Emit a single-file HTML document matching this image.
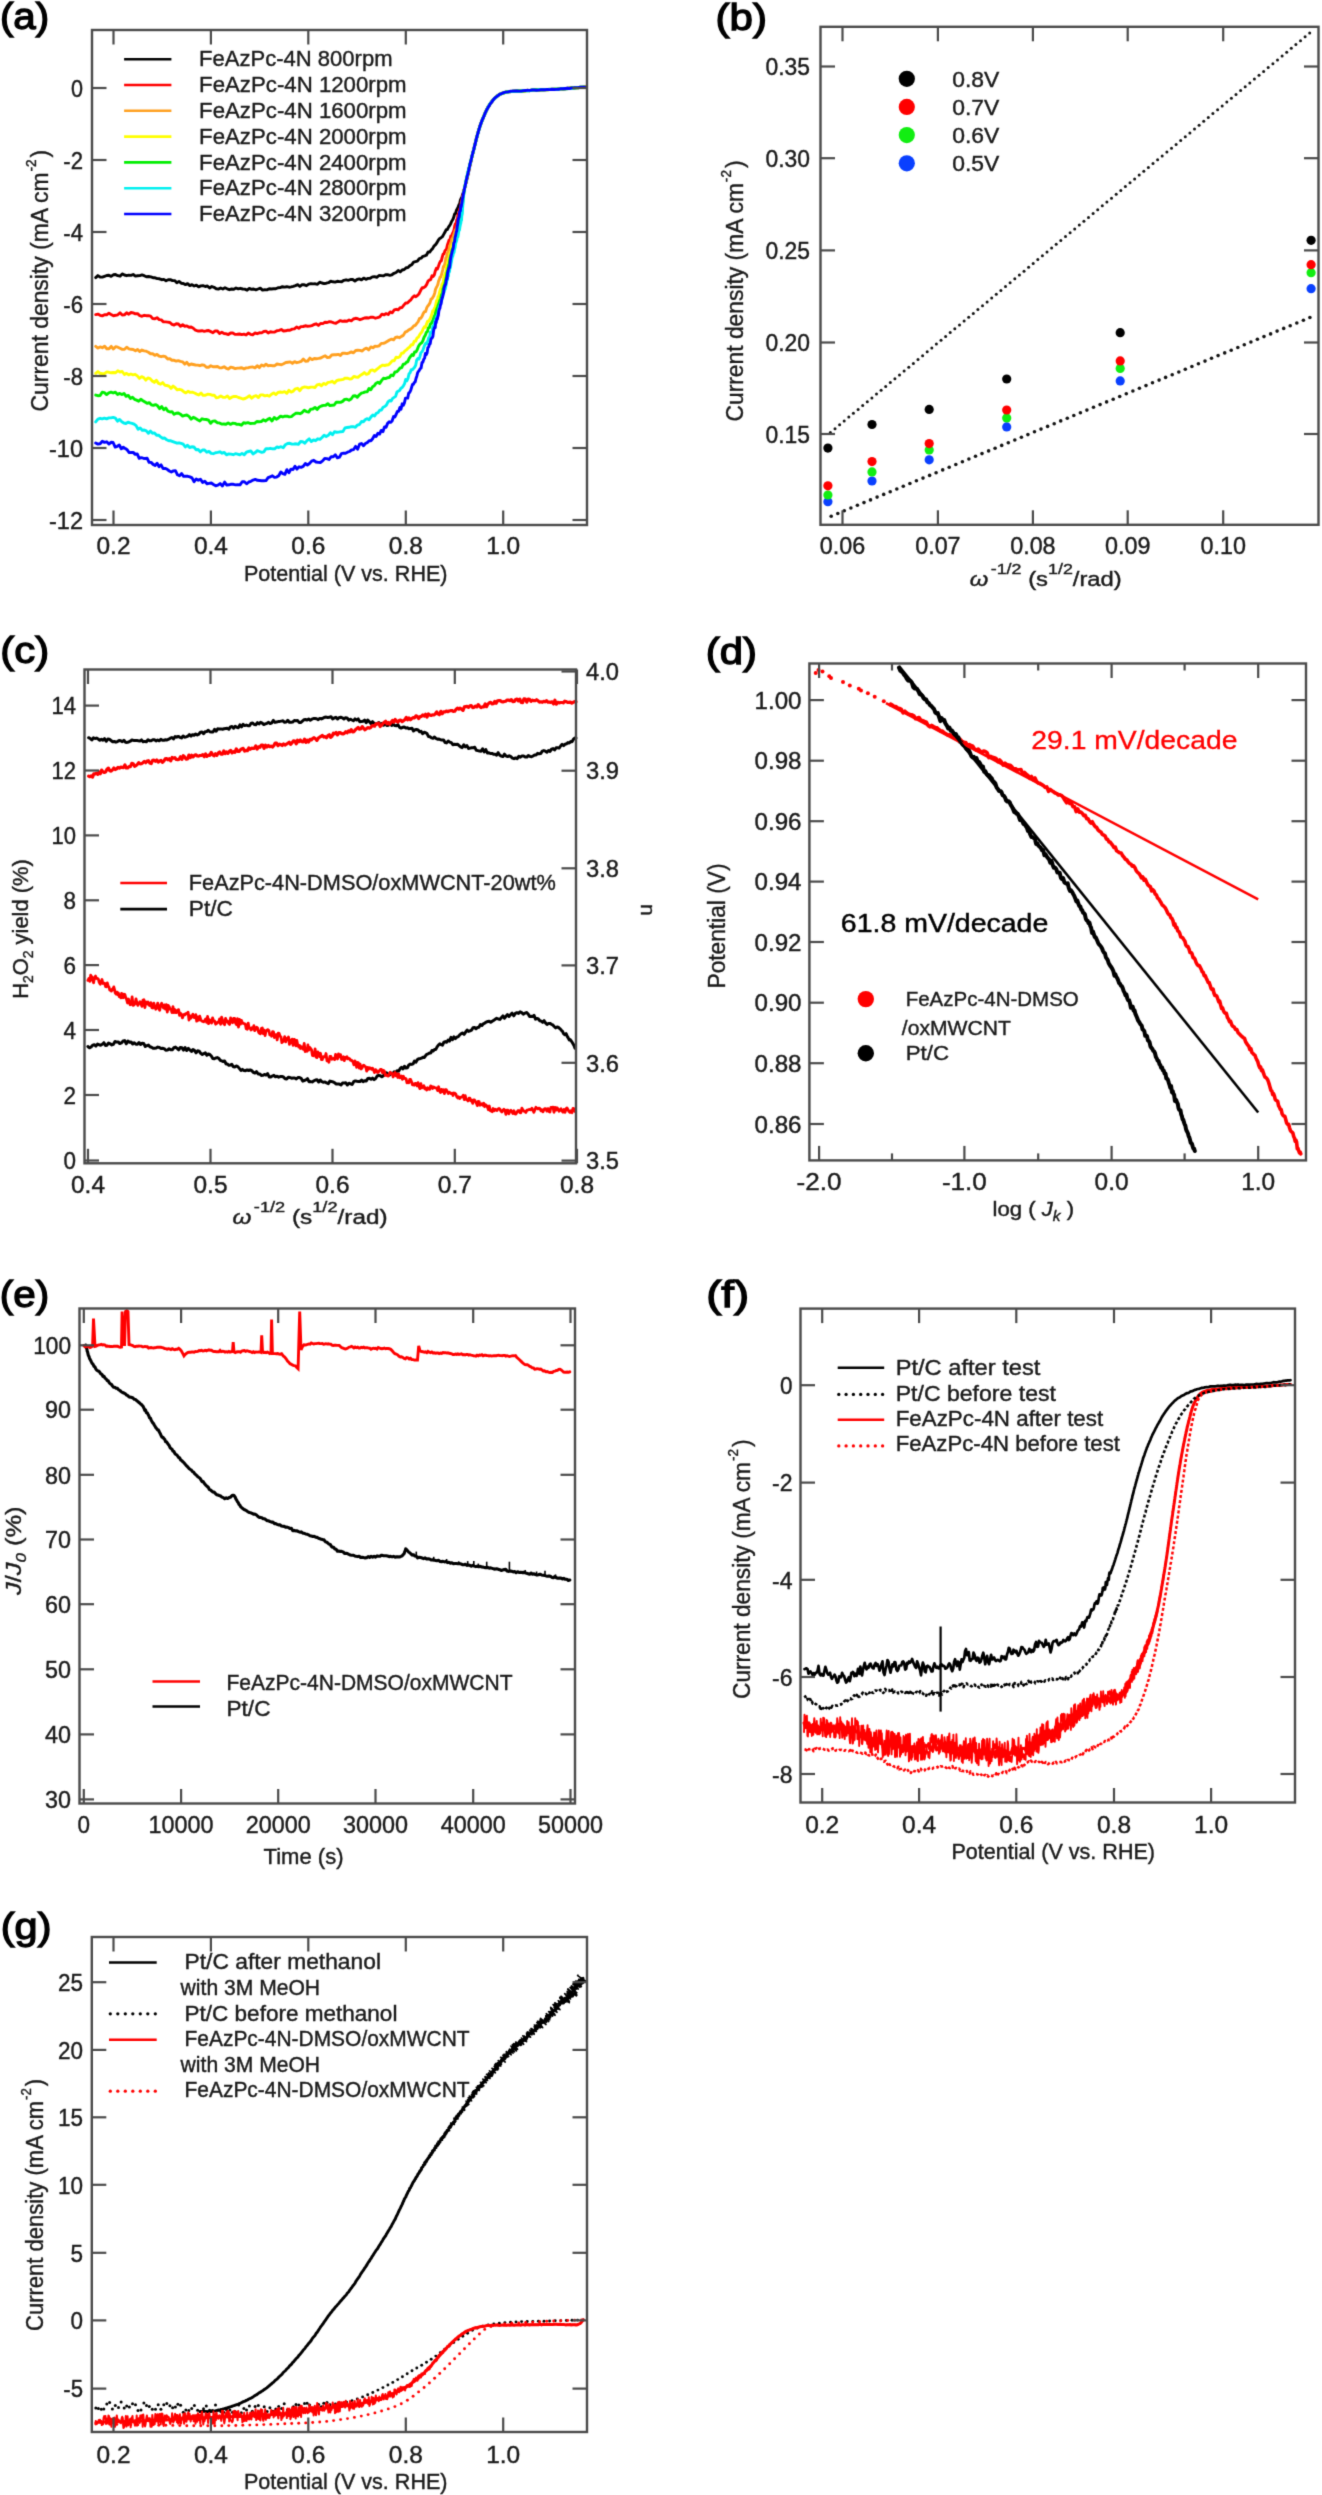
<!DOCTYPE html>
<html><head><meta charset="utf-8"><style>
html,body{margin:0;padding:0;background:#fff;}
svg{display:block;}
text{font-family:"Liberation Sans", sans-serif;}
</style></head><body>
<svg width="1322" height="2495" viewBox="0 0 1322 2495">
<defs><filter id="soft" color-interpolation-filters="sRGB" x="0" y="0" width="1322" height="2495" filterUnits="userSpaceOnUse"><feConvolveMatrix order="3" kernelMatrix="0.0192 0.1001 0.0192 0.1001 0.5228 0.1001 0.0192 0.1001 0.0192" edgeMode="duplicate" preserveAlpha="false"/></filter></defs>
<rect width="1322" height="2495" fill="#fff"/>
<g filter="url(#soft)">
<rect width="1322" height="2495" fill="#fff"/>
<text x="-0.1" y="29.2" font-size="37" fill="#000" textLength="49.3" lengthAdjust="spacingAndGlyphs" style="stroke:#000;stroke-width:1.3">(a)</text>
<path d="M95.7 277.6L97.9 275.6L100.1 277L102.3 277.1L104.5 276.3L106.7 275.5L108.9 275.2L111.1 276.4L113.3 274.8L115.5 274.5L117.7 275.7L120 276.2L122.2 273.9L124.4 275L126.6 275.7L128.8 275.2L131 275.4L133.2 274.5L135.4 276.1L137.6 275.8L139.8 275.6L142 274.9L144.2 275.7L146.4 276.8L148.6 276.5L150.8 276.9L153 277.7L155.1 277.8L157.3 278.6L159.5 278.8L161.7 279.7L163.8 279.4L166 280.8L168.2 279.7L170.3 279.6L172.5 280.6L174.7 280.6L176.8 282.8L179 281.4L181.2 283.2L183.3 283.5L185.5 284.6L187.6 283.6L189.8 285.6L192 284.7L194.2 286L196.4 285.2L198.6 286.9L200.8 285.9L203 285.7L205.2 286.5L207.4 286L209.6 288L211.8 286.5L214 287.3L216.2 288.8L218.4 289.1L220.6 288L222.8 289L225 287.8L227.2 288.8L229.4 289.7L231.6 289L233.8 289.2L236 288L238.2 288.9L240.4 288.3L242.6 289L244.8 289.1L247.1 290.2L249.3 288.4L251.5 289.3L253.7 289L255.9 289.8L258.1 289L260.3 288.2L262.5 290.1L264.7 289.8L266.9 289.9L269.2 288.7L271.4 289L273.6 288.7L275.8 288.7L278 287.7L280.2 287.6L282.4 286.7L284.6 287.1L286.8 286.7L289 287.2L291.1 286.9L293.3 286.3L295.5 285.6L297.7 284.7L299.9 286.5L302.1 284.7L304.3 284.8L306.5 285.7L308.7 284.1L310.9 283.6L313.1 283.9L315.3 283.8L317.5 284.3L319.7 282.2L321.9 283L324.1 283.6L326.3 283.2L328.5 282.7L330.7 281.2L332.9 281.8L335.1 282.1L337.3 281.3L339.5 281.6L341.7 281.7L343.9 280.3L346.1 279.8L348.3 280.3L350.5 279.5L352.7 279.5L354.9 281L357.1 279.5L359.3 278.9L361.5 279.9L363.7 278.1L365.9 279.3L368.1 278.4L370.2 278.3L372.4 276.9L374.6 276.6L376.8 277.3L379 275.5L381.1 275.6L383.3 275.9L385.5 274.7L387.6 274.6L389.8 275.3L391.9 274.8L394 273.3L396.1 272.5L398.2 270.5L400.2 271.9L402.2 270L404.2 269.5L406.1 267.8L408 267.5L409.9 265.6L411.8 264.7L413.6 262.2L415.5 261.7L417.4 261.2L419.3 258.6L421.1 258.2L422.9 256.3L424.7 255.8L426.4 255.2L428.1 252L429.7 252.1L431.2 250L432.7 248.4L434.2 245.8L435.6 244.6L437 242.6L438.3 240.2L439.7 238.5L441.1 237.7L442.4 236.7L443.7 234.4L444.9 232.2L446.2 229.8L447.3 229.6L448.5 227.1L449.6 225.6L450.6 223.9L451.7 221.3L452.7 219.8L453.7 217.4L454.6 214L455.5 213.7L456.4 210.3L457.3 208.9L458.1 207L458.9 204.9L459.7 203.7L460.4 200L461.2 198.5L461.9 196.8L462.6 194.6L463.3 192.4L463.9 190.3L464.6 188L465.2 186L465.7 183.7L466.3 181.9L466.8 179.4L467.3 177.3L467.8 175.4L468.3 173.1L468.8 171.1L469.2 169L469.7 166.6L470.2 164.3L470.7 162.5L471.1 160.3L471.6 158L472.1 156.1L472.7 153.7L473.2 151.5L473.7 149.6L474.3 147.4L474.8 145.2L475.3 143.1L475.9 140.7L476.4 138.9L477 136.8L477.5 134.4L478.1 132.5L478.7 130.1L479.4 127.9L480.1 125.8L480.8 123.7L481.6 121.6L482.4 119.6L483.2 117.9L484 115.7L484.9 113.5L485.9 111.8L486.8 109.6L487.8 107.5L488.9 106L490.1 103.8L491.4 102.2L492.8 100.3L494.3 98.9L495.9 97.4L497.6 95.8L499.4 94.6L501.4 93.4L503.5 92.8L505.6 92.3L507.8 91.9L510 91.8L512.2 91.3L514.4 91.1L516.6 91.2L518.8 90.9L521 90.7L523.2 90.9L525.4 90.7L527.6 90.3L529.8 90.7L532 90.1L534.3 90.2L536.5 89.9L538.7 90L540.9 89.9L543.1 89.9L545.3 89.5L547.5 89.4L549.7 89.5L551.9 89.6L554.1 89.4L556.3 89.1L558.6 88.9L560.8 88.9L563 89L565.2 88.7L567.4 88.3L569.6 88.1L571.8 88.3L574 88.1L576.2 87.9L578.4 87.8L580.6 87.4L582.8 87.4L585 86.8" fill="none" stroke="#000000" stroke-width="2.9" stroke-linecap="round" stroke-linejoin="round"/>
<path d="M95.7 314.6L97.9 314.1L100.1 315.3L102.3 315.9L104.5 314.8L106.7 314.8L108.9 313.2L111.1 314.5L113.4 315.7L115.6 315.3L117.8 314.8L120 312.8L122.2 315L124.4 314.9L126.6 312.8L128.8 314.2L131 312.5L133.2 312.9L135.4 313.8L137.6 313.6L139.8 315.7L142 316.3L144.2 315.3L146.3 315.7L148.5 315.6L150.6 316.1L152.7 318.6L154.9 318.8L157 317.7L159.2 319.6L161.3 319.9L163.4 321.8L165.6 321.9L167.7 322.1L169.9 322.5L172 324.3L174.1 325L176.3 323.7L178.4 324L180.5 326.2L182.7 324.7L184.8 326.2L186.9 325.9L189.1 327.2L191.2 327L193.3 328.2L195.5 330.2L197.7 331L199.8 331L202 330.7L204.2 331.3L206.4 330.8L208.6 330.5L210.8 331.6L213 332.7L215.2 330.9L217.4 331L219.6 333.4L221.8 332.2L224 333.5L226.2 333.8L228.4 334.5L230.6 333L232.8 333L235 334.4L237.3 334.3L239.5 334L241.7 334.6L243.9 334.1L246.1 335L248.3 333.1L250.5 334.3L252.7 334.9L254.9 333L257.2 333.7L259.4 332.8L261.6 332.9L263.8 331.5L266 331.1L268.2 333L270.4 331.8L272.6 332.1L274.7 332.1L276.9 330.8L279.1 330.4L281.3 329.5L283.5 331L285.7 330.8L287.9 330.1L290 330.2L292.2 329.1L294.4 328.9L296.6 327L298.8 328.3L300.9 326.6L303.1 326.5L305.3 325.8L307.5 326.2L309.7 326.1L311.9 325.6L314 324.5L316.2 323.8L318.4 325.4L320.6 323.5L322.8 323.6L325 322.2L327.2 322.5L329.4 321.6L331.6 322L333.8 322.8L335.9 323.3L338.1 321.9L340.3 320.6L342.5 321.4L344.7 321L346.9 321.2L349.1 320L351.3 320.8L353.4 319L355.6 318.3L357.8 318.7L360 319.7L362.2 318.9L364.4 318L366.6 317.8L368.8 318L371 317.2L373.2 317.2L375.4 318.2L377.6 317.7L379.8 316.9L381.9 314.2L384 314.9L386.1 313.6L388.2 314.5L390.2 311.9L392.3 312.8L394.3 309.8L396.2 309.3L398.2 309.9L400.1 307.7L402 307.5L403.8 305.1L405.7 303L407.4 303.1L409.2 301.2L410.9 299.8L412.6 297.3L414.3 295.8L415.9 296.7L417.6 295.3L419.1 293.7L420.7 290.3L422.2 287.8L423.7 287.7L425.2 286.6L426.6 284.6L428 281.2L429.4 280L430.7 279.6L432 275.8L433.2 276.4L434.3 274.9L435.4 270.7L436.4 268.2L437.4 269L438.4 266.4L439.4 263.4L440.3 261.5L441.3 260.8L442.2 257.1L443.1 254.2L444 253.9L444.9 250.9L445.7 250L446.6 248.8L447.4 245L448.3 242.6L449.1 239.9L450 240.2L450.8 235.9L451.6 236.5L452.4 233.7L453.2 232.2L454 229.9L454.7 225.9L455.4 223.8L456.1 224L456.7 219.9L457.4 219.3L457.9 215.3L458.5 213.5L459.1 212.5L459.6 209.1L460.1 208.5L460.6 206.7L461.1 202.8L461.6 200.6L462.1 198.8L462.6 196.9L463.1 194.5L463.6 192.6L464.1 190.5L464.6 188.3L465.1 186.2L465.6 184L466.1 182L466.6 179.7L467.1 177.7L467.6 175.3L468.1 173L468.5 170.9L469 169L469.5 166.6L470 164.7L470.5 162.6L471.1 160.3L471.6 157.9L472.1 156L472.6 153.8L473.2 151.9L473.7 149.4L474.3 147.3L474.8 145.2L475.3 143.1L475.9 140.8L476.4 138.7L477 136.8L477.5 134.5L478.1 132.2L478.7 130.2L479.4 128.1L480 126L480.8 123.7L481.5 121.8L482.3 120.1L483.2 118L484 116L484.9 113.8L485.8 111.7L486.8 109.9L487.8 107.6L488.9 105.9L490.1 104L491.4 102.1L492.8 100.3L494.2 98.7L495.8 97.3L497.5 95.7L499.4 94.6L501.4 93.6L503.4 92.8L505.6 92.5L507.8 91.9L509.9 91.3L512.1 91.5L514.3 91.2L516.6 91.2L518.8 90.9L521 90.8L523.2 90.9L525.4 90.5L527.6 90.4L529.8 90.4L532 90.4L534.2 89.9L536.4 89.9L538.6 89.9L540.9 89.9L543.1 89.5L545.3 89.8L547.5 89.6L549.7 89.5L551.9 89.3L554.1 89.2L556.3 89.4L558.5 89.3L560.7 88.8L563 88.7L565.2 88.7L567.4 88.6L569.6 88.5L571.8 88L574 87.8L576.2 87.5L578.4 87.5L580.6 87.4L582.8 87.4L585 86.8" fill="none" stroke="#ff0000" stroke-width="2.9" stroke-linecap="round" stroke-linejoin="round"/>
<path d="M95.7 346.4L97.9 348.1L100.1 346.9L102.3 347.7L104.6 346.2L106.8 348.8L109 348.8L111.2 346.4L113.4 349L115.6 346.7L117.8 347.2L120 348.3L122.3 349.4L124.5 349.3L126.7 347.2L128.9 348.9L131 349.3L133.2 349.5L135.4 350.7L137.6 349.4L139.7 351.6L141.9 350L144.1 350.8L146.2 351.2L148.4 352.3L150.5 353.8L152.7 353.8L154.8 355.3L157 354.4L159.1 356.2L161.2 356.7L163.4 356.2L165.5 356.7L167.7 359.1L169.8 358.7L171.9 360.2L174.1 360.3L176.2 361.1L178.3 360.6L180.4 361.3L182.6 361.8L184.7 364.1L186.8 362.3L189 365.1L191.1 364L193.3 364.5L195.5 365L197.7 365.1L199.9 365.7L202.1 364.8L204.2 365.2L206.4 367.3L208.6 367.3L210.8 365.8L213 366.8L215.3 366.8L217.5 366.5L219.7 367.9L221.9 367.7L224.1 366.8L226.3 368.3L228.5 369L230.7 367.1L232.9 367.6L235.2 368.6L237.4 368.1L239.6 368L241.8 367.8L244 368.9L246.2 367.9L248.4 367.7L250.6 367.1L252.8 367L255 367.9L257.2 365.7L259.4 367.6L261.6 364.9L263.8 366.1L266 364.2L268.2 365.7L270.4 365.4L272.6 365.7L274.8 365.7L277 364L279.2 364.4L281.4 364.8L283.6 363.7L285.8 362.5L288 362.2L290.2 361.9L292.4 363.4L294.6 361.6L296.8 362.7L298.9 362.2L301.1 361.4L303.3 359.1L305.5 361.3L307.7 361L309.9 358.1L312.1 359.6L314.3 358.5L316.4 358.7L318.6 358.4L320.8 358L323 356.8L325.2 355.8L327.4 357.5L329.5 357.4L331.7 355L333.9 354.7L336.1 354.8L338.3 354.4L340.4 355.4L342.6 353.1L344.8 353.3L347 353.6L349.2 352.8L351.3 351.9L353.5 352.8L355.7 350.5L357.9 350.3L360 350.4L362.2 351L364.4 349L366.5 348.1L368.7 349.9L370.8 347L372.9 347.7L375 346.2L377.1 346.4L379.2 345.8L381.3 343.4L383.4 343.4L385.4 342.6L387.5 341.3L389.5 340L391.6 339.1L393.6 339.8L395.5 337.4L397.5 337L399.4 337.7L401.4 336.4L403.3 335.4L405.2 332.1L407 331.3L408.8 329.8L410.5 329.1L412.2 327.8L413.8 325.9L415.3 325.3L416.8 323.3L418.2 321.6L419.5 318.5L420.8 318.3L422.1 316.2L423.3 313.4L424.5 311.7L425.6 311.6L426.7 307.9L427.8 305.9L428.9 304.7L430 302.8L431 299.2L432 298.8L432.9 297.3L433.8 295.8L434.7 293.1L435.5 289.4L436.3 287.7L437.1 286.1L437.8 284.6L438.6 281L439.3 279.7L440 277.4L440.7 277.1L441.4 275L442.1 272.3L442.8 269.6L443.4 266.5L444.1 266.5L444.7 264.3L445.3 262.1L445.9 257.6L446.5 257.5L447.1 253.5L447.7 253.6L448.3 250.6L449 249.6L449.6 246L450.3 244.4L451 242.7L451.8 239.2L452.6 238.2L453.3 236.6L454.1 233.7L454.9 231.4L455.6 229.6L456.4 228.6L457 226.7L457.7 223.6L458.3 221.8L458.8 220.2L459.3 215.7L459.7 213.2L460.2 213.1L460.6 210.5L461 206.9L461.4 205.9L461.7 203.7L462.1 200.9L462.5 199.2L462.9 197L463.3 195L463.7 192.6L464.1 190.7L464.5 188.6L465 186.4L465.5 184L466 181.9L466.4 179.8L466.9 177.5L467.4 175.5L467.9 173.4L468.4 171.1L468.9 168.9L469.4 167L469.9 164.8L470.5 162.3L471 160.5L471.5 158.1L472.1 156.1L472.6 153.8L473.2 152L473.7 149.5L474.2 147.7L474.8 145.3L475.3 143L475.8 141L476.4 138.7L476.9 136.9L477.5 134.6L478.1 132.4L478.7 130.2L479.3 128.1L480 126.2L480.7 123.9L481.5 122L482.3 120.1L483.1 117.8L484 115.7L484.9 113.9L485.8 111.9L486.8 109.8L487.8 107.6L488.9 105.8L490.1 104L491.4 102.2L492.7 100.4L494.2 98.7L495.8 97.1L497.5 96L499.3 94.5L501.3 93.6L503.4 92.8L505.5 92.1L507.7 91.7L509.9 91.4L512.1 91.5L514.3 91.1L516.5 91.2L518.7 90.9L520.9 90.9L523.1 90.8L525.3 90.5L527.6 90.5L529.8 90.5L532 90.3L534.2 90.2L536.4 89.8L538.6 90.1L540.8 90L543 89.6L545.2 89.6L547.5 89.8L549.7 89.5L551.9 89.4L554.1 89.4L556.3 89L558.5 89.3L560.7 88.7L562.9 88.6L565.1 88.6L567.4 88.4L569.6 88.3L571.8 87.9L574 88L576.2 87.8L578.4 87.7L580.6 87.2L582.8 87L585 87" fill="none" stroke="#ffa020" stroke-width="2.9" stroke-linecap="round" stroke-linejoin="round"/>
<path d="M95.7 373.3L97.9 371.5L100.1 373.3L102.3 373.7L104.5 373.6L106.8 371.9L109 372.3L111.2 372.8L113.4 372.5L115.6 372.8L117.8 370.8L120 372L122.2 371.5L124.4 374.5L126.5 373.4L128.7 374.8L130.8 374L133 374.8L135.1 374.3L137.3 375.9L139.4 378.4L141.6 376.7L143.7 377.6L145.8 380.1L147.9 377.9L150.1 378.6L152.2 381L154.3 382.4L156.4 380.3L158.5 383.3L160.6 384.2L162.7 382.6L164.8 385.2L166.9 385.5L169 386.1L171 388.4L173.1 386.1L175.2 387.7L177.3 389.9L179.4 389.3L181.5 389.8L183.7 391.7L185.8 392.9L188 391.3L190.1 392.4L192.3 392.2L194.5 393L196.7 394.1L198.8 395L201 393.1L203.2 395.4L205.4 395.3L207.6 394.3L209.8 394.4L212 395.2L214.2 395.1L216.4 397.8L218.6 397.3L220.8 396L223 397.3L225.2 397.4L227.4 395.9L229.6 398.5L231.8 397.2L234.1 396.4L236.3 396.5L238.5 397.5L240.7 398.1L242.9 399L245.1 398.5L247.3 397.2L249.5 395.8L251.7 398.2L253.9 396.3L256.1 395.7L258.4 397.5L260.5 394.9L262.7 394.9L264.9 395.8L267.1 395.3L269.3 396.3L271.5 394.3L273.7 392.9L275.9 394.6L278 392.4L280.2 392L282.4 392.4L284.6 391.7L286.8 393.3L288.9 390.3L291.1 392.1L293.3 391.1L295.4 388.8L297.6 388.3L299.8 390.7L301.9 387.8L304.1 387L306.3 387.1L308.4 387.9L310.6 387.1L312.8 387.1L314.9 387.5L317.1 384.9L319.3 384.3L321.4 385.8L323.6 383.4L325.8 384.5L328 382.4L330.1 382.1L332.3 381.3L334.5 383L336.6 380.7L338.8 380L340.9 379.8L343.1 379.4L345.2 378.1L347.4 378.2L349.5 379L351.6 378.7L353.8 376.4L355.9 377L358 377.4L360.1 375.5L362.2 374.3L364.3 372.5L366.4 374.4L368.5 373.6L370.6 370.4L372.6 369.9L374.7 371.2L376.7 369.4L378.7 367.8L380.7 366.2L382.7 365.1L384.7 365.5L386.6 365L388.6 364.7L390.5 362.9L392.4 360.6L394.3 360.7L396.1 357.2L397.9 357.7L399.7 356.8L401.5 353.3L403.2 353L404.9 350.9L406.6 349.8L408.2 348.1L409.8 346.8L411.3 344.7L412.8 344.8L414.3 341.1L415.7 341.1L417 338L418.3 337.3L419.6 334.8L420.8 333.2L422 331.8L423.2 328.7L424.4 326.8L425.5 327.2L426.6 323.8L427.6 321.2L428.7 321.3L429.7 319.6L430.7 317.4L431.6 315L432.6 311.1L433.4 311.6L434.3 308.5L435.1 307.5L435.8 304.3L436.6 300.5L437.3 301.5L438 296.7L438.7 296.4L439.3 293.1L440 290.5L440.7 288.2L441.3 287.8L441.9 284.5L442.6 283.4L443.2 282.3L443.8 277.8L444.4 275.4L444.9 274.2L445.5 273L446 271.6L446.5 267L447 265.8L447.6 263.1L448.1 260.7L448.6 258.9L449.1 258.3L449.7 253.9L450.2 254.2L450.8 252L451.3 249.3L451.9 246L452.6 243.4L453.2 243.7L453.9 238.9L454.5 238.1L455.2 235.6L455.8 232.8L456.4 233.3L457 228.8L457.6 228.2L458.2 226.6L458.7 223.8L459.2 219.9L459.6 219.9L460.1 215.8L460.4 216L460.8 211L461.1 210.6L461.5 208.4L461.8 205.8L462.1 202.6L462.4 200.6L462.7 199.4L463.1 197.3L463.4 195.1L463.8 192.8L464.2 190.4L464.6 188.5L465 186.1L465.5 183.9L465.9 182L466.4 179.8L466.9 177.4L467.4 175.2L467.9 173L468.4 171L468.9 169.1L469.4 166.7L469.9 164.6L470.5 162.3L471 160.2L471.5 158.3L472.1 156L472.6 154.1L473.2 151.9L473.7 149.5L474.3 147.2L474.8 145.4L475.3 143.3L475.8 141.2L476.4 138.6L476.9 136.5L477.5 134.4L478.1 132.3L478.7 130.2L479.4 128L480 126L480.8 124.2L481.5 121.7L482.3 120L483.2 117.6L484 115.5L484.9 113.7L485.8 112L486.8 109.6L487.8 108L488.9 105.6L490.1 104.2L491.4 102.2L492.8 100.6L494.2 98.8L495.8 97.1L497.5 96L499.4 94.6L501.4 93.8L503.4 93.1L505.6 92.5L507.7 91.9L509.9 91.5L512.1 91.5L514.3 91L516.5 91.3L518.7 91L521 90.6L523.2 90.8L525.4 90.7L527.6 90.4L529.8 90.5L532 90L534.2 90L536.4 90L538.6 89.7L540.8 89.7L543.1 89.7L545.3 89.4L547.5 89.4L549.7 89.3L551.9 89.5L554.1 89.3L556.3 89.1L558.5 89.2L560.7 88.8L562.9 89L565.2 88.6L567.4 88.5L569.6 88.2L571.8 88L574 87.8L576.2 87.7L578.4 87.6L580.6 87.1L582.8 87.1L585 86.9" fill="none" stroke="#ffff00" stroke-width="2.9" stroke-linecap="round" stroke-linejoin="round"/>
<path d="M95.7 395.1L97.9 395.7L100.1 395.6L102.2 392.2L104.4 392.7L106.6 394.6L108.8 392.8L111 392.1L113.2 393L115.4 392.2L117.6 394.5L119.7 393.4L121.9 394.6L124 393.4L126.1 396.3L128.3 395.4L130.4 398.5L132.5 397.3L134.5 399.3L136.6 400.1L138.7 401.2L140.8 399.3L142.9 400.7L145 402L147.1 403.3L149.2 402.6L151.3 404.8L153.4 405.4L155.5 404.6L157.6 405.8L159.6 408.6L161.7 406.6L163.8 409.7L165.8 408.1L167.9 411.2L170 412L172 411.6L174.1 414.3L176.2 413.2L178.3 413L180.4 414.2L182.6 416.1L184.7 415.4L186.8 415L189 416.4L191.1 419.2L193.3 417.3L195.5 418.4L197.6 419.8L199.8 421L202 418.8L204.1 419.4L206.3 419.5L208.5 420.2L210.7 423.3L212.8 421.1L215 421L217.2 422.7L219.4 422.9L221.6 424.1L223.8 424L226 424.3L228.2 422.9L230.4 424.4L232.6 423.2L234.8 423.4L237 424.4L239.2 424.3L241.4 425.2L243.6 422.8L245.8 423.2L248 422.6L250.2 423.5L252.4 423.4L254.6 423.3L256.8 421.5L259 421.8L261.2 421.6L263.3 419.8L265.5 421L267.7 419.4L269.8 418.3L272 421L274.2 417.5L276.3 419.2L278.5 417.9L280.6 416.1L282.8 417L284.9 416.2L287.1 416.1L289.2 416.9L291.4 416.6L293.5 414.9L295.7 413.3L297.8 413.1L300 413.7L302.1 412.6L304.3 410.3L306.4 411.6L308.6 412.1L310.7 409.1L312.8 409L315 407.4L317.1 409.4L319.3 407L321.4 406L323.5 405.4L325.7 405.2L327.8 403.7L329.9 405.6L332.1 405.3L334.2 405L336.3 402.2L338.4 402.1L340.5 402.4L342.6 401.4L344.7 399.4L346.9 399.2L349 400.2L351.1 399L353.2 396L355.2 395.7L357.3 397.3L359.4 394.8L361.4 393.2L363.4 392.7L365.3 391.9L367.2 391.9L369 388.5L370.8 389.7L372.6 386.7L374.3 385.7L376.1 383.2L377.9 382.3L379.7 383.4L381.5 380.6L383.4 378.3L385.4 378.6L387.3 377.8L389.3 377.5L391.2 375L393.1 375.7L395 371.9L396.8 371.7L398.5 369.9L400.1 368L401.7 367.6L403.3 364.2L404.8 364.1L406.3 362.4L407.8 361.6L409.2 358.4L410.6 356.4L412 354.6L413.3 355.5L414.6 351.9L415.9 351.9L417.2 349.8L418.4 346.4L419.6 344.5L420.8 343.4L422 342.5L423.1 340.1L424.2 337.1L425.3 335.2L426.3 332.5L427.4 331.7L428.4 327.9L429.4 327.7L430.3 324L431.3 323.5L432.2 321.7L433 320.3L433.9 317.4L434.7 315.7L435.5 313.3L436.3 310.3L437 308.4L437.7 306.7L438.4 304.4L439.1 303L439.8 300.3L440.4 300L441.1 296.7L441.7 294.2L442.4 293.8L443 289.1L443.6 287.7L444.2 285.5L444.7 284.5L445.3 281.7L445.8 280L446.3 276.9L446.8 274L447.3 271.6L447.8 269.8L448.2 268.2L448.7 264.9L449.2 265.2L449.7 260.6L450.1 258.3L450.6 256.7L451.1 254.6L451.7 252.6L452.2 249.6L452.7 248.7L453.3 247.6L453.9 243.5L454.5 243.4L455.2 239.2L455.8 239.8L456.4 236.2L457 234.4L457.6 231.8L458.2 231L458.7 227.2L459.2 225.1L459.7 222.2L460.1 222.4L460.5 217.8L460.9 215.6L461.2 215.4L461.5 214.1L461.8 209L462 207.5L462.3 204.7L462.5 203.4L462.8 201.8L463 199.5L463.3 197.1L463.6 195.1L463.9 192.7L464.2 190.6L464.6 188.4L465 186.1L465.4 184L465.8 182.1L466.3 179.5L466.8 177.6L467.3 175.2L467.8 173.3L468.3 170.9L468.8 168.7L469.3 166.8L469.9 164.6L470.4 162.6L471 160.2L471.5 158.5L472.1 156L472.6 154L473.2 151.9L473.7 149.9L474.2 147.6L474.8 145.2L475.3 143.3L475.8 141.2L476.4 139.1L476.9 136.7L477.5 134.7L478.1 132.7L478.7 130.4L479.3 128.2L480 126.4L480.7 124.3L481.5 122.2L482.3 120.1L483.1 117.7L484 115.9L484.9 113.8L485.8 111.7L486.8 109.7L487.8 107.8L488.9 105.9L490.1 103.8L491.4 102.1L492.7 100.4L494.2 98.8L495.8 97.4L497.5 95.9L499.3 94.5L501.3 93.6L503.4 93.1L505.5 92.1L507.7 91.8L509.9 91.6L512.1 91.4L514.3 91.4L516.5 91L518.7 90.9L520.9 91L523.1 91L525.4 90.5L527.6 90.8L529.8 90.5L532 90.1L534.2 89.9L536.4 89.8L538.6 89.9L540.8 89.7L543 89.7L545.2 89.5L547.5 89.8L549.7 89.5L551.9 89.6L554.1 89.2L556.3 89.4L558.5 89.1L560.7 88.9L562.9 88.9L565.1 88.6L567.4 88.7L569.6 88.3L571.8 87.9L574 87.9L576.2 87.9L578.4 87.4L580.6 87.2L582.8 87.3L585 87.2" fill="none" stroke="#00ee00" stroke-width="2.9" stroke-linecap="round" stroke-linejoin="round"/>
<path d="M95.7 421.9L97.9 419.1L100.1 418.3L102.2 418.9L104.4 418.2L106.6 418.8L108.8 417.9L111 417.9L113.2 417.4L115.4 418.2L117.5 421.2L119.6 419.4L121.8 421.7L123.8 423L125.9 423.5L128 422.2L130 422.9L132 423.3L134.1 424.1L136.1 425.6L138.1 429.3L140.2 427.9L142.2 430.2L144.3 430L146.3 430.9L148.4 433.3L150.4 431.1L152.5 433.2L154.5 432.9L156.6 435.2L158.6 435.2L160.6 436.9L162.6 438.3L164.7 438L166.7 439.8L168.7 440.8L170.8 440.8L172.8 441.6L174.9 442.4L177 443.2L179 442.8L181.1 443.4L183.2 444.2L185.3 447L187.5 445.2L189.6 447.5L191.7 446.8L193.9 447L196 449.7L198.2 449.5L200.3 451.9L202.5 450L204.6 450L206.8 452.2L209 451.4L211.2 453.3L213.3 453.7L215.5 452.7L217.7 452.4L219.9 451.8L222.1 453.2L224.3 452.4L226.5 454.8L228.7 453.9L230.9 454.1L233.2 454.7L235.4 453.7L237.6 454.2L239.8 454.9L242 453.4L244.2 454.8L246.4 452.2L248.6 451.5L250.8 450.9L253 453.9L255.2 452.6L257.3 450.7L259.5 451.5L261.7 452.4L263.8 451.8L266 448.7L268.2 448.8L270.3 448.3L272.5 448.8L274.6 448.9L276.8 447L278.9 447.5L281.1 446.7L283.3 447.7L285.4 444.7L287.6 443.5L289.8 443.3L291.9 444.1L294.1 444L296.2 443.8L298.4 444.4L300.6 441.5L302.7 441.8L304.9 443.2L307 440.6L309.2 438.9L311.3 441.5L313.5 440L315.6 440.7L317.7 438.8L319.9 439.4L322 437.5L324.1 435.2L326.2 436.5L328.3 435.3L330.4 432.7L332.5 434.7L334.6 431.6L336.6 432.3L338.7 432.1L340.8 431.7L342.9 431.6L345 427.9L347.1 427.5L349.1 427.3L351.2 426.7L353.3 426.7L355.4 427.3L357.4 425.1L359.5 424.5L361.5 421.5L363.4 421.7L365.4 419.5L367.3 418.7L369.1 419.8L371 416.9L372.8 415.1L374.6 416.1L376.3 413.3L378 412.7L379.7 410.2L381.4 410L383.1 407.3L384.8 406.5L386.4 405.1L388 401.9L389.6 400.5L391.1 401L392.6 398.4L394.1 397.4L395.6 396.4L397 392L398.3 391.1L399.6 390.5L400.9 388.2L402.2 387.4L403.4 385.8L404.6 383.6L405.7 379.4L406.9 380.6L408 378.3L409.1 373.7L410.2 372.6L411.3 369.6L412.4 369.7L413.5 368.5L414.6 367.2L415.7 365.3L416.7 360.1L417.8 358.6L418.9 359.1L419.9 356.7L420.9 352.7L422 351.7L423 350L424 346.9L424.9 344.5L425.9 343.1L426.8 343.7L427.8 341.1L428.7 337.7L429.6 337.1L430.4 332.3L431.3 332.8L432.1 331.5L432.9 326.1L433.6 326L434.4 324.5L435.1 320.4L435.8 319.2L436.5 316.4L437.2 316.4L437.8 314.7L438.5 310.1L439.1 307.6L439.8 305.6L440.4 304.3L441 302.5L441.6 299.1L442.2 299.1L442.8 295.7L443.4 292.8L444 292.3L444.6 289.1L445.2 289.2L445.8 286.5L446.3 283.5L446.8 280.4L447.4 279.9L447.9 275.1L448.4 276.2L448.9 271.6L449.4 271.7L449.9 268.3L450.4 267.5L450.9 264L451.4 261.8L451.9 258.7L452.4 256.7L452.9 255.8L453.4 253.1L454 252.6L454.5 249.2L455.1 247.6L455.6 243.6L456.2 241.7L456.8 240.1L457.3 236.6L457.9 236.9L458.4 233.7L458.9 230.1L459.4 230.3L459.9 227.1L460.4 224.4L460.8 223.2L461.2 219.8L461.5 220.4L461.8 214.9L462 215.3L462.3 213.6L462.4 211.4L462.6 208L462.8 205.3L463 204.3L463.1 202.3L463.3 198.9L463.5 196.7L463.7 194.5L464 192.6L464.3 190.5L464.6 187.9L465 186.1L465.4 183.7L465.9 181.5L466.3 179.5L466.8 177.5L467.3 175L467.8 172.7L468.3 170.6L468.8 168.8L469.4 166.4L469.9 164.4L470.5 162.1L471 160.2L471.6 157.9L472.1 155.6L472.7 153.7L473.2 151.4L473.8 149.3L474.3 147.2L474.8 145.3L475.4 143.2L475.9 140.7L476.4 138.5L477 136.7L477.6 134.5L478.1 132.2L478.8 130.2L479.4 128.2L480.1 126.1L480.8 123.6L481.6 122L482.4 119.9L483.2 117.6L484.1 115.8L485 113.6L485.9 111.7L486.8 109.8L487.9 107.5L489 105.6L490.2 103.6L491.5 101.9L492.9 100.4L494.3 98.7L495.9 97.4L497.6 95.7L499.5 94.8L501.5 93.6L503.5 92.9L505.7 92.1L507.8 92.1L510 91.4L512.2 91.2L514.4 91.3L516.6 91.2L518.8 91.2L521 91L523.3 90.7L525.5 90.4L527.7 90.8L529.9 90.6L532.1 90L534.3 90L536.5 90.1L538.7 89.8L540.9 89.6L543.1 89.9L545.3 89.6L547.5 89.5L549.7 89.3L551.9 89.2L554.2 89.3L556.4 89L558.6 89.2L560.8 88.9L563 88.8L565.2 88.8L567.4 88.5L569.6 88.5L571.8 88.3L574 88L576.2 87.8L578.4 87.7L580.6 87.2L582.8 87.1L585 87.2" fill="none" stroke="#00f0f0" stroke-width="2.9" stroke-linecap="round" stroke-linejoin="round"/>
<path d="M95.7 443L97.9 444.1L100.1 443.8L102.3 441.3L104.5 442.4L106.7 441.8L108.9 444.1L111 442.3L113.1 442.5L115.2 447.1L117.3 446.3L119.3 445L121.3 448.8L123.3 447.2L125.3 448.6L127.2 449.8L129.2 452.6L131.2 452.5L133.2 452.4L135.2 454.4L137.2 453.9L139.2 458.3L141.2 457.7L143.2 458.2L145.2 458.5L147.2 458.3L149.1 462.4L151.1 462.4L153.1 464.4L155.1 465.4L157.1 463.2L159.1 466.7L161.1 464.9L163.1 468.6L165.2 468.4L167.2 469.3L169.3 471L171.3 472L173.4 470.9L175.4 470.6L177.5 474.8L179.5 475.8L181.6 473.6L183.6 476.4L185.7 476.1L187.8 476.3L189.9 476.9L192 477.9L194.1 481.7L196.2 479L198.3 480.2L200.5 479.3L202.6 482.4L204.8 481.2L207 483.8L209.1 483.4L211.3 483L213.5 484.5L215.7 485.8L217.9 485.2L220.1 483.6L222.4 486L224.6 482.1L226.8 485.1L229 484.8L231.2 484.1L233.4 484.3L235.6 484.9L237.8 484.6L240 484.9L242.2 481.7L244.4 481.8L246.6 483.8L248.8 482L250.9 481.3L253.1 480.1L255.3 479.4L257.4 480.3L259.6 480.5L261.7 480.7L263.9 480.7L266 480.6L268.1 477.7L270.2 476.8L272.4 475.8L274.5 477.4L276.6 477.1L278.7 475.8L280.8 472L282.8 473.6L284.9 474.3L286.9 469.7L288.9 472.7L291 469.1L293 469.5L295 466.3L297 469.1L299.1 466.8L301.1 467.3L303.2 466.4L305.3 463.5L307.4 465L309.5 463.5L311.6 461.1L313.8 460.3L316 462L318.2 462.4L320.4 462.5L322.6 460.9L324.7 458.5L326.9 458.6L329 459.5L331.2 456.7L333.3 456.7L335.3 454.8L337.4 457.9L339.4 457.2L341.4 453.7L343.5 453.2L345.5 453.3L347.5 452.2L349.5 451.5L351.5 450L353.6 449.6L355.6 446.4L357.6 449.2L359.6 444.2L361.5 443.5L363.5 445.7L365.4 443.5L367.2 442.7L369.1 440.8L370.9 440.7L372.6 438.7L374.4 435.4L376.1 436.5L377.9 433.3L379.6 434.1L381.2 430.4L382.9 431.7L384.5 426.9L386.1 427.2L387.6 423.4L389.2 421.8L390.6 422.4L392.1 421L393.5 416.6L394.8 417L396.1 414.5L397.4 411.4L398.7 411.3L399.9 407.5L401 409.3L402.2 403.8L403.3 405.3L404.4 402.9L405.5 398.2L406.6 398.1L407.7 398.1L408.7 393L409.7 392.4L410.7 390.4L411.6 387.4L412.5 384.4L413.4 384.3L414.3 382.4L415.2 381.9L416 378.5L416.9 375.9L417.7 372.5L418.5 371.4L419.4 370.1L420.2 368.8L421.1 367.9L422 362.4L422.8 362.4L423.7 359.3L424.6 358.2L425.4 353.4L426.3 354.6L427.1 352.9L427.9 347.5L428.7 346.8L429.5 344.1L430.2 343.9L430.9 339.3L431.6 338.3L432.3 337.6L432.9 336.3L433.5 331.3L434.1 328.4L434.6 327.2L435.2 327.5L435.7 322L436.2 322.8L436.8 318.6L437.3 319.1L437.8 316.9L438.3 315.3L438.8 311.2L439.4 309L439.9 308.4L440.4 305.1L441 304.1L441.5 301L442 297.8L442.5 297.5L443.1 294.5L443.6 292.8L444.1 287.9L444.6 286.3L445.1 285.1L445.6 284.4L446.1 281.4L446.6 277.9L447.1 278.7L447.6 272.6L448 271.6L448.5 269.1L449 267.7L449.4 267.8L449.9 264.7L450.3 260.2L450.7 258.2L451.2 255.4L451.6 253.9L452.1 251.7L452.5 250.1L452.9 249.3L453.3 247.6L453.8 242.8L454.2 242.4L454.6 241.6L455 237.3L455.5 236L455.9 233.7L456.3 231.7L456.7 231L457.2 226.1L457.6 224.9L458 220.5L458.4 218.6L458.8 217.6L459.2 216.6L459.6 212L460 211.4L460.4 210.9L460.8 205.4L461.2 206.8L461.6 204.3L462 202.1L462.4 199L462.9 196.9L463.3 194.6L463.7 192.2L464.2 190.3L464.6 188L465.1 186.1L465.6 183.9L466 181.7L466.5 179.2L467 177.2L467.5 175L468 173.1L468.5 171L469 168.6L469.5 166.5L470 164.1L470.5 162L471.1 160.1L471.6 157.9L472.1 155.5L472.7 153.4L473.2 151.3L473.8 149.3L474.3 147.2L474.8 145.2L475.4 143L475.9 140.7L476.4 138.4L477 136.3L477.6 134.2L478.2 132.3L478.8 130L479.4 128.1L480.1 125.7L480.8 123.9L481.6 121.6L482.4 119.5L483.2 117.9L484.1 115.8L485 113.4L485.9 111.5L486.9 109.4L487.9 107.8L489 105.9L490.2 103.9L491.5 102.3L492.9 100.3L494.3 98.5L495.9 97.1L497.6 96L499.5 94.3L501.5 93.6L503.5 92.7L505.7 92.1L507.9 91.9L510 91.4L512.2 91.1L514.4 91L516.7 90.9L518.9 91.1L521.1 91.1L523.3 90.6L525.5 90.5L527.7 90.4L529.9 90.4L532.1 90L534.3 90L536.5 90.2L538.7 90.1L540.9 89.8L543.1 89.8L545.3 89.8L547.5 89.4L549.7 89.6L552 89.3L554.2 89.5L556.4 89.4L558.6 89.3L560.8 88.7L563 88.8L565.2 88.5L567.4 88.3L569.6 88.5L571.8 87.9L574 87.8L576.2 87.6L578.4 87.4L580.6 87.1L582.8 87.1L585 87.2" fill="none" stroke="#0000ff" stroke-width="2.9" stroke-linecap="round" stroke-linejoin="round"/>
<rect x="92" y="30" width="495" height="495" fill="none" stroke="#4a4a4a" stroke-width="2.4"/>
<line x1="113.5" y1="525" x2="113.5" y2="510.5" stroke="#4a4a4a" stroke-width="2.2" />
<line x1="113.5" y1="30" x2="113.5" y2="44.5" stroke="#4a4a4a" stroke-width="2.2" />
<line x1="210.9" y1="525" x2="210.9" y2="510.5" stroke="#4a4a4a" stroke-width="2.2" />
<line x1="210.9" y1="30" x2="210.9" y2="44.5" stroke="#4a4a4a" stroke-width="2.2" />
<line x1="308.3" y1="525" x2="308.3" y2="510.5" stroke="#4a4a4a" stroke-width="2.2" />
<line x1="308.3" y1="30" x2="308.3" y2="44.5" stroke="#4a4a4a" stroke-width="2.2" />
<line x1="405.8" y1="525" x2="405.8" y2="510.5" stroke="#4a4a4a" stroke-width="2.2" />
<line x1="405.8" y1="30" x2="405.8" y2="44.5" stroke="#4a4a4a" stroke-width="2.2" />
<line x1="503.2" y1="525" x2="503.2" y2="510.5" stroke="#4a4a4a" stroke-width="2.2" />
<line x1="503.2" y1="30" x2="503.2" y2="44.5" stroke="#4a4a4a" stroke-width="2.2" />
<line x1="92" y1="88" x2="106.5" y2="88" stroke="#4a4a4a" stroke-width="2.2" />
<line x1="587" y1="88" x2="572.5" y2="88" stroke="#4a4a4a" stroke-width="2.2" />
<line x1="92" y1="160" x2="106.5" y2="160" stroke="#4a4a4a" stroke-width="2.2" />
<line x1="587" y1="160" x2="572.5" y2="160" stroke="#4a4a4a" stroke-width="2.2" />
<line x1="92" y1="232" x2="106.5" y2="232" stroke="#4a4a4a" stroke-width="2.2" />
<line x1="587" y1="232" x2="572.5" y2="232" stroke="#4a4a4a" stroke-width="2.2" />
<line x1="92" y1="304" x2="106.5" y2="304" stroke="#4a4a4a" stroke-width="2.2" />
<line x1="587" y1="304" x2="572.5" y2="304" stroke="#4a4a4a" stroke-width="2.2" />
<line x1="92" y1="376" x2="106.5" y2="376" stroke="#4a4a4a" stroke-width="2.2" />
<line x1="587" y1="376" x2="572.5" y2="376" stroke="#4a4a4a" stroke-width="2.2" />
<line x1="92" y1="448" x2="106.5" y2="448" stroke="#4a4a4a" stroke-width="2.2" />
<line x1="587" y1="448" x2="572.5" y2="448" stroke="#4a4a4a" stroke-width="2.2" />
<line x1="92" y1="520" x2="106.5" y2="520" stroke="#4a4a4a" stroke-width="2.2" />
<line x1="587" y1="520" x2="572.5" y2="520" stroke="#4a4a4a" stroke-width="2.2" />
<text x="113.5" y="554" font-size="23" fill="#1a1a1a" text-anchor="middle" textLength="34" lengthAdjust="spacingAndGlyphs" style="stroke:#1a1a1a;stroke-width:0.4">0.2</text>
<text x="210.9" y="554" font-size="23" fill="#1a1a1a" text-anchor="middle" textLength="34" lengthAdjust="spacingAndGlyphs" style="stroke:#1a1a1a;stroke-width:0.4">0.4</text>
<text x="308.3" y="554" font-size="23" fill="#1a1a1a" text-anchor="middle" textLength="34" lengthAdjust="spacingAndGlyphs" style="stroke:#1a1a1a;stroke-width:0.4">0.6</text>
<text x="405.8" y="554" font-size="23" fill="#1a1a1a" text-anchor="middle" textLength="34" lengthAdjust="spacingAndGlyphs" style="stroke:#1a1a1a;stroke-width:0.4">0.8</text>
<text x="503.2" y="554" font-size="23" fill="#1a1a1a" text-anchor="middle" textLength="34" lengthAdjust="spacingAndGlyphs" style="stroke:#1a1a1a;stroke-width:0.4">1.0</text>
<text x="83" y="96.7" font-size="23" fill="#1a1a1a" text-anchor="end" textLength="12" lengthAdjust="spacingAndGlyphs" style="stroke:#1a1a1a;stroke-width:0.4">0</text>
<text x="83" y="168.7" font-size="23" fill="#1a1a1a" text-anchor="end" textLength="19.7" lengthAdjust="spacingAndGlyphs" style="stroke:#1a1a1a;stroke-width:0.4">-2</text>
<text x="83" y="240.7" font-size="23" fill="#1a1a1a" text-anchor="end" textLength="19.7" lengthAdjust="spacingAndGlyphs" style="stroke:#1a1a1a;stroke-width:0.4">-4</text>
<text x="83" y="312.7" font-size="23" fill="#1a1a1a" text-anchor="end" textLength="19.7" lengthAdjust="spacingAndGlyphs" style="stroke:#1a1a1a;stroke-width:0.4">-6</text>
<text x="83" y="384.7" font-size="23" fill="#1a1a1a" text-anchor="end" textLength="19.7" lengthAdjust="spacingAndGlyphs" style="stroke:#1a1a1a;stroke-width:0.4">-8</text>
<text x="83" y="456.7" font-size="23" fill="#1a1a1a" text-anchor="end" textLength="34" lengthAdjust="spacingAndGlyphs" style="stroke:#1a1a1a;stroke-width:0.4">-10</text>
<text x="83" y="528.7" font-size="23" fill="#1a1a1a" text-anchor="end" textLength="34" lengthAdjust="spacingAndGlyphs" style="stroke:#1a1a1a;stroke-width:0.4">-12</text>
<line x1="124.1" y1="59.2" x2="171.4" y2="59.2" stroke="#000000" stroke-width="2.6" />
<text x="199.1" y="66.3" font-size="22" fill="#1a1a1a" textLength="193.4" lengthAdjust="spacingAndGlyphs" style="stroke:#1a1a1a;stroke-width:0.4">FeAzPc-4N 800rpm</text>
<line x1="124.1" y1="85" x2="171.4" y2="85" stroke="#ff0000" stroke-width="2.6" />
<text x="199.1" y="92.1" font-size="22" fill="#1a1a1a" textLength="207.5" lengthAdjust="spacingAndGlyphs" style="stroke:#1a1a1a;stroke-width:0.4">FeAzPc-4N 1200rpm</text>
<line x1="124.1" y1="110.8" x2="171.4" y2="110.8" stroke="#ffa020" stroke-width="2.6" />
<text x="199.1" y="117.9" font-size="22" fill="#1a1a1a" textLength="207.5" lengthAdjust="spacingAndGlyphs" style="stroke:#1a1a1a;stroke-width:0.4">FeAzPc-4N 1600rpm</text>
<line x1="124.1" y1="136.6" x2="171.4" y2="136.6" stroke="#ffff00" stroke-width="2.6" />
<text x="199.1" y="143.7" font-size="22" fill="#1a1a1a" textLength="207.5" lengthAdjust="spacingAndGlyphs" style="stroke:#1a1a1a;stroke-width:0.4">FeAzPc-4N 2000rpm</text>
<line x1="124.1" y1="162.4" x2="171.4" y2="162.4" stroke="#00ee00" stroke-width="2.6" />
<text x="199.1" y="169.5" font-size="22" fill="#1a1a1a" textLength="207.5" lengthAdjust="spacingAndGlyphs" style="stroke:#1a1a1a;stroke-width:0.4">FeAzPc-4N 2400rpm</text>
<line x1="124.1" y1="188.2" x2="171.4" y2="188.2" stroke="#00f0f0" stroke-width="2.6" />
<text x="199.1" y="195.3" font-size="22" fill="#1a1a1a" textLength="207.5" lengthAdjust="spacingAndGlyphs" style="stroke:#1a1a1a;stroke-width:0.4">FeAzPc-4N 2800rpm</text>
<line x1="124.1" y1="214" x2="171.4" y2="214" stroke="#0000ff" stroke-width="2.6" />
<text x="199.1" y="221.1" font-size="22" fill="#1a1a1a" textLength="207.5" lengthAdjust="spacingAndGlyphs" style="stroke:#1a1a1a;stroke-width:0.4">FeAzPc-4N 3200rpm</text>
<text x="244" y="581.4" font-size="21.5" fill="#1a1a1a" textLength="203.5" lengthAdjust="spacingAndGlyphs" style="stroke:#1a1a1a;stroke-width:0.4">Potential (V vs. RHE)</text>
<text x="47.9" y="411.4" font-size="23.5" fill="#1a1a1a" textLength="261.6" lengthAdjust="spacingAndGlyphs" transform="rotate(-90 47.9 411.4)" style="stroke:#1a1a1a;stroke-width:0.4">Current density (mA cm<tspan dy="-12" dx="1" font-size="14">-2</tspan><tspan dy="12" dx="2">)</tspan></text>
<text x="715.5" y="29.5" font-size="37" fill="#000" textLength="51.4" lengthAdjust="spacingAndGlyphs" style="stroke:#000;stroke-width:1.3">(b)</text>
<circle cx="830.4" cy="432.5" r="1.5" fill="#111"/>
<circle cx="835" cy="428.7" r="1.5" fill="#111"/>
<circle cx="839.6" cy="424.8" r="1.5" fill="#111"/>
<circle cx="844.2" cy="421" r="1.5" fill="#111"/>
<circle cx="848.8" cy="417.1" r="1.5" fill="#111"/>
<circle cx="853.4" cy="413.3" r="1.5" fill="#111"/>
<circle cx="858.1" cy="409.5" r="1.5" fill="#111"/>
<circle cx="862.7" cy="405.6" r="1.5" fill="#111"/>
<circle cx="867.3" cy="401.8" r="1.5" fill="#111"/>
<circle cx="871.9" cy="397.9" r="1.5" fill="#111"/>
<circle cx="876.5" cy="394.1" r="1.5" fill="#111"/>
<circle cx="881.1" cy="390.2" r="1.5" fill="#111"/>
<circle cx="885.7" cy="386.4" r="1.5" fill="#111"/>
<circle cx="890.3" cy="382.6" r="1.5" fill="#111"/>
<circle cx="894.9" cy="378.7" r="1.5" fill="#111"/>
<circle cx="899.5" cy="374.9" r="1.5" fill="#111"/>
<circle cx="904.1" cy="371" r="1.5" fill="#111"/>
<circle cx="908.8" cy="367.2" r="1.5" fill="#111"/>
<circle cx="913.4" cy="363.4" r="1.5" fill="#111"/>
<circle cx="918" cy="359.5" r="1.5" fill="#111"/>
<circle cx="922.6" cy="355.7" r="1.5" fill="#111"/>
<circle cx="927.2" cy="351.8" r="1.5" fill="#111"/>
<circle cx="931.8" cy="348" r="1.5" fill="#111"/>
<circle cx="936.4" cy="344.1" r="1.5" fill="#111"/>
<circle cx="941" cy="340.3" r="1.5" fill="#111"/>
<circle cx="945.6" cy="336.5" r="1.5" fill="#111"/>
<circle cx="950.2" cy="332.6" r="1.5" fill="#111"/>
<circle cx="954.8" cy="328.8" r="1.5" fill="#111"/>
<circle cx="959.5" cy="324.9" r="1.5" fill="#111"/>
<circle cx="964.1" cy="321.1" r="1.5" fill="#111"/>
<circle cx="968.7" cy="317.3" r="1.5" fill="#111"/>
<circle cx="973.3" cy="313.4" r="1.5" fill="#111"/>
<circle cx="977.9" cy="309.6" r="1.5" fill="#111"/>
<circle cx="982.5" cy="305.7" r="1.5" fill="#111"/>
<circle cx="987.1" cy="301.9" r="1.5" fill="#111"/>
<circle cx="991.7" cy="298" r="1.5" fill="#111"/>
<circle cx="996.3" cy="294.2" r="1.5" fill="#111"/>
<circle cx="1000.9" cy="290.4" r="1.5" fill="#111"/>
<circle cx="1005.5" cy="286.5" r="1.5" fill="#111"/>
<circle cx="1010.1" cy="282.7" r="1.5" fill="#111"/>
<circle cx="1014.8" cy="278.8" r="1.5" fill="#111"/>
<circle cx="1019.4" cy="275" r="1.5" fill="#111"/>
<circle cx="1024" cy="271.2" r="1.5" fill="#111"/>
<circle cx="1028.6" cy="267.3" r="1.5" fill="#111"/>
<circle cx="1033.2" cy="263.5" r="1.5" fill="#111"/>
<circle cx="1037.8" cy="259.6" r="1.5" fill="#111"/>
<circle cx="1042.4" cy="255.8" r="1.5" fill="#111"/>
<circle cx="1047" cy="251.9" r="1.5" fill="#111"/>
<circle cx="1051.6" cy="248.1" r="1.5" fill="#111"/>
<circle cx="1056.2" cy="244.3" r="1.5" fill="#111"/>
<circle cx="1060.8" cy="240.4" r="1.5" fill="#111"/>
<circle cx="1065.5" cy="236.6" r="1.5" fill="#111"/>
<circle cx="1070.1" cy="232.7" r="1.5" fill="#111"/>
<circle cx="1074.7" cy="228.9" r="1.5" fill="#111"/>
<circle cx="1079.3" cy="225.1" r="1.5" fill="#111"/>
<circle cx="1083.9" cy="221.2" r="1.5" fill="#111"/>
<circle cx="1088.5" cy="217.4" r="1.5" fill="#111"/>
<circle cx="1093.1" cy="213.5" r="1.5" fill="#111"/>
<circle cx="1097.7" cy="209.7" r="1.5" fill="#111"/>
<circle cx="1102.3" cy="205.8" r="1.5" fill="#111"/>
<circle cx="1106.9" cy="202" r="1.5" fill="#111"/>
<circle cx="1111.5" cy="198.2" r="1.5" fill="#111"/>
<circle cx="1116.2" cy="194.3" r="1.5" fill="#111"/>
<circle cx="1120.8" cy="190.5" r="1.5" fill="#111"/>
<circle cx="1125.4" cy="186.6" r="1.5" fill="#111"/>
<circle cx="1130" cy="182.8" r="1.5" fill="#111"/>
<circle cx="1134.6" cy="179" r="1.5" fill="#111"/>
<circle cx="1139.2" cy="175.1" r="1.5" fill="#111"/>
<circle cx="1143.8" cy="171.3" r="1.5" fill="#111"/>
<circle cx="1148.4" cy="167.4" r="1.5" fill="#111"/>
<circle cx="1153" cy="163.6" r="1.5" fill="#111"/>
<circle cx="1157.6" cy="159.7" r="1.5" fill="#111"/>
<circle cx="1162.2" cy="155.9" r="1.5" fill="#111"/>
<circle cx="1166.9" cy="152.1" r="1.5" fill="#111"/>
<circle cx="1171.5" cy="148.2" r="1.5" fill="#111"/>
<circle cx="1176.1" cy="144.4" r="1.5" fill="#111"/>
<circle cx="1180.7" cy="140.5" r="1.5" fill="#111"/>
<circle cx="1185.3" cy="136.7" r="1.5" fill="#111"/>
<circle cx="1189.9" cy="132.9" r="1.5" fill="#111"/>
<circle cx="1194.5" cy="129" r="1.5" fill="#111"/>
<circle cx="1199.1" cy="125.2" r="1.5" fill="#111"/>
<circle cx="1203.7" cy="121.3" r="1.5" fill="#111"/>
<circle cx="1208.3" cy="117.5" r="1.5" fill="#111"/>
<circle cx="1212.9" cy="113.6" r="1.5" fill="#111"/>
<circle cx="1217.6" cy="109.8" r="1.5" fill="#111"/>
<circle cx="1222.2" cy="106" r="1.5" fill="#111"/>
<circle cx="1226.8" cy="102.1" r="1.5" fill="#111"/>
<circle cx="1231.4" cy="98.3" r="1.5" fill="#111"/>
<circle cx="1236" cy="94.4" r="1.5" fill="#111"/>
<circle cx="1240.6" cy="90.6" r="1.5" fill="#111"/>
<circle cx="1245.2" cy="86.8" r="1.5" fill="#111"/>
<circle cx="1249.8" cy="82.9" r="1.5" fill="#111"/>
<circle cx="1254.4" cy="79.1" r="1.5" fill="#111"/>
<circle cx="1259" cy="75.2" r="1.5" fill="#111"/>
<circle cx="1263.6" cy="71.4" r="1.5" fill="#111"/>
<circle cx="1268.2" cy="67.6" r="1.5" fill="#111"/>
<circle cx="1272.9" cy="63.7" r="1.5" fill="#111"/>
<circle cx="1277.5" cy="59.9" r="1.5" fill="#111"/>
<circle cx="1282.1" cy="56" r="1.5" fill="#111"/>
<circle cx="1286.7" cy="52.2" r="1.5" fill="#111"/>
<circle cx="1291.3" cy="48.3" r="1.5" fill="#111"/>
<circle cx="1295.9" cy="44.5" r="1.5" fill="#111"/>
<circle cx="1300.5" cy="40.7" r="1.5" fill="#111"/>
<circle cx="1305.1" cy="36.8" r="1.5" fill="#111"/>
<circle cx="1309.7" cy="33" r="1.5" fill="#111"/>
<circle cx="831.2" cy="516.2" r="1.8" fill="#111"/>
<circle cx="837.8" cy="513.5" r="1.8" fill="#111"/>
<circle cx="844.3" cy="510.8" r="1.8" fill="#111"/>
<circle cx="850.9" cy="508" r="1.8" fill="#111"/>
<circle cx="857.4" cy="505.3" r="1.8" fill="#111"/>
<circle cx="864" cy="502.6" r="1.8" fill="#111"/>
<circle cx="870.5" cy="499.9" r="1.8" fill="#111"/>
<circle cx="877.1" cy="497.1" r="1.8" fill="#111"/>
<circle cx="883.7" cy="494.4" r="1.8" fill="#111"/>
<circle cx="890.2" cy="491.7" r="1.8" fill="#111"/>
<circle cx="896.8" cy="489" r="1.8" fill="#111"/>
<circle cx="903.3" cy="486.3" r="1.8" fill="#111"/>
<circle cx="909.9" cy="483.5" r="1.8" fill="#111"/>
<circle cx="916.4" cy="480.8" r="1.8" fill="#111"/>
<circle cx="923" cy="478.1" r="1.8" fill="#111"/>
<circle cx="929.6" cy="475.4" r="1.8" fill="#111"/>
<circle cx="936.1" cy="472.7" r="1.8" fill="#111"/>
<circle cx="942.7" cy="469.9" r="1.8" fill="#111"/>
<circle cx="949.2" cy="467.2" r="1.8" fill="#111"/>
<circle cx="955.8" cy="464.5" r="1.8" fill="#111"/>
<circle cx="962.4" cy="461.8" r="1.8" fill="#111"/>
<circle cx="968.9" cy="459" r="1.8" fill="#111"/>
<circle cx="975.5" cy="456.3" r="1.8" fill="#111"/>
<circle cx="982" cy="453.6" r="1.8" fill="#111"/>
<circle cx="988.6" cy="450.9" r="1.8" fill="#111"/>
<circle cx="995.1" cy="448.2" r="1.8" fill="#111"/>
<circle cx="1001.7" cy="445.4" r="1.8" fill="#111"/>
<circle cx="1008.3" cy="442.7" r="1.8" fill="#111"/>
<circle cx="1014.8" cy="440" r="1.8" fill="#111"/>
<circle cx="1021.4" cy="437.3" r="1.8" fill="#111"/>
<circle cx="1027.9" cy="434.6" r="1.8" fill="#111"/>
<circle cx="1034.5" cy="431.8" r="1.8" fill="#111"/>
<circle cx="1041" cy="429.1" r="1.8" fill="#111"/>
<circle cx="1047.6" cy="426.4" r="1.8" fill="#111"/>
<circle cx="1054.2" cy="423.7" r="1.8" fill="#111"/>
<circle cx="1060.7" cy="420.9" r="1.8" fill="#111"/>
<circle cx="1067.3" cy="418.2" r="1.8" fill="#111"/>
<circle cx="1073.8" cy="415.5" r="1.8" fill="#111"/>
<circle cx="1080.4" cy="412.8" r="1.8" fill="#111"/>
<circle cx="1086.9" cy="410.1" r="1.8" fill="#111"/>
<circle cx="1093.5" cy="407.3" r="1.8" fill="#111"/>
<circle cx="1100.1" cy="404.6" r="1.8" fill="#111"/>
<circle cx="1106.6" cy="401.9" r="1.8" fill="#111"/>
<circle cx="1113.2" cy="399.2" r="1.8" fill="#111"/>
<circle cx="1119.7" cy="396.5" r="1.8" fill="#111"/>
<circle cx="1126.3" cy="393.7" r="1.8" fill="#111"/>
<circle cx="1132.9" cy="391" r="1.8" fill="#111"/>
<circle cx="1139.4" cy="388.3" r="1.8" fill="#111"/>
<circle cx="1146" cy="385.6" r="1.8" fill="#111"/>
<circle cx="1152.5" cy="382.8" r="1.8" fill="#111"/>
<circle cx="1159.1" cy="380.1" r="1.8" fill="#111"/>
<circle cx="1165.6" cy="377.4" r="1.8" fill="#111"/>
<circle cx="1172.2" cy="374.7" r="1.8" fill="#111"/>
<circle cx="1178.8" cy="372" r="1.8" fill="#111"/>
<circle cx="1185.3" cy="369.2" r="1.8" fill="#111"/>
<circle cx="1191.9" cy="366.5" r="1.8" fill="#111"/>
<circle cx="1198.4" cy="363.8" r="1.8" fill="#111"/>
<circle cx="1205" cy="361.1" r="1.8" fill="#111"/>
<circle cx="1211.5" cy="358.3" r="1.8" fill="#111"/>
<circle cx="1218.1" cy="355.6" r="1.8" fill="#111"/>
<circle cx="1224.7" cy="352.9" r="1.8" fill="#111"/>
<circle cx="1231.2" cy="350.2" r="1.8" fill="#111"/>
<circle cx="1237.8" cy="347.5" r="1.8" fill="#111"/>
<circle cx="1244.3" cy="344.7" r="1.8" fill="#111"/>
<circle cx="1250.9" cy="342" r="1.8" fill="#111"/>
<circle cx="1257.4" cy="339.3" r="1.8" fill="#111"/>
<circle cx="1264" cy="336.6" r="1.8" fill="#111"/>
<circle cx="1270.6" cy="333.9" r="1.8" fill="#111"/>
<circle cx="1277.1" cy="331.1" r="1.8" fill="#111"/>
<circle cx="1283.7" cy="328.4" r="1.8" fill="#111"/>
<circle cx="1290.2" cy="325.7" r="1.8" fill="#111"/>
<circle cx="1296.8" cy="323" r="1.8" fill="#111"/>
<circle cx="1303.4" cy="320.2" r="1.8" fill="#111"/>
<circle cx="1309.9" cy="317.5" r="1.8" fill="#111"/>
<circle cx="827.9" cy="448.1" r="4.6" fill="#000000"/>
<circle cx="872" cy="424.5" r="4.6" fill="#000000"/>
<circle cx="929.2" cy="409.4" r="4.6" fill="#000000"/>
<circle cx="1006.7" cy="379" r="4.6" fill="#000000"/>
<circle cx="1120.2" cy="332.7" r="4.6" fill="#000000"/>
<circle cx="1311.1" cy="240.3" r="4.6" fill="#000000"/>
<circle cx="827.9" cy="501.7" r="4.6" fill="#0a40ff"/>
<circle cx="872" cy="481" r="4.6" fill="#0a40ff"/>
<circle cx="929.2" cy="459.8" r="4.6" fill="#0a40ff"/>
<circle cx="1006.7" cy="426.9" r="4.6" fill="#0a40ff"/>
<circle cx="1120.2" cy="380.9" r="4.6" fill="#0a40ff"/>
<circle cx="1311.1" cy="288.7" r="4.6" fill="#0a40ff"/>
<circle cx="827.9" cy="495" r="4.6" fill="#12ee12"/>
<circle cx="872" cy="471.9" r="4.6" fill="#12ee12"/>
<circle cx="929.2" cy="449.9" r="4.6" fill="#12ee12"/>
<circle cx="1006.7" cy="417.9" r="4.6" fill="#12ee12"/>
<circle cx="1120.2" cy="368.4" r="4.6" fill="#12ee12"/>
<circle cx="1311.1" cy="272.7" r="4.6" fill="#12ee12"/>
<circle cx="827.9" cy="485.8" r="4.6" fill="#ff0000"/>
<circle cx="872" cy="461.6" r="4.6" fill="#ff0000"/>
<circle cx="929.2" cy="443.6" r="4.6" fill="#ff0000"/>
<circle cx="1006.7" cy="410" r="4.6" fill="#ff0000"/>
<circle cx="1120.2" cy="360.9" r="4.6" fill="#ff0000"/>
<circle cx="1311.1" cy="264.7" r="4.6" fill="#ff0000"/>
<rect x="820.5" y="26.8" width="498" height="498" fill="none" stroke="#4a4a4a" stroke-width="2.4"/>
<line x1="842.5" y1="524.8" x2="842.5" y2="510.3" stroke="#4a4a4a" stroke-width="2.2" />
<line x1="842.5" y1="26.8" x2="842.5" y2="41.3" stroke="#4a4a4a" stroke-width="2.2" />
<line x1="937.9" y1="524.8" x2="937.9" y2="510.3" stroke="#4a4a4a" stroke-width="2.2" />
<line x1="937.9" y1="26.8" x2="937.9" y2="41.3" stroke="#4a4a4a" stroke-width="2.2" />
<line x1="1032.9" y1="524.8" x2="1032.9" y2="510.3" stroke="#4a4a4a" stroke-width="2.2" />
<line x1="1032.9" y1="26.8" x2="1032.9" y2="41.3" stroke="#4a4a4a" stroke-width="2.2" />
<line x1="1127.7" y1="524.8" x2="1127.7" y2="510.3" stroke="#4a4a4a" stroke-width="2.2" />
<line x1="1127.7" y1="26.8" x2="1127.7" y2="41.3" stroke="#4a4a4a" stroke-width="2.2" />
<line x1="1223.2" y1="524.8" x2="1223.2" y2="510.3" stroke="#4a4a4a" stroke-width="2.2" />
<line x1="1223.2" y1="26.8" x2="1223.2" y2="41.3" stroke="#4a4a4a" stroke-width="2.2" />
<line x1="820.5" y1="66.5" x2="835" y2="66.5" stroke="#4a4a4a" stroke-width="2.2" />
<line x1="1318.5" y1="66.5" x2="1304" y2="66.5" stroke="#4a4a4a" stroke-width="2.2" />
<line x1="820.5" y1="158.2" x2="835" y2="158.2" stroke="#4a4a4a" stroke-width="2.2" />
<line x1="1318.5" y1="158.2" x2="1304" y2="158.2" stroke="#4a4a4a" stroke-width="2.2" />
<line x1="820.5" y1="250.4" x2="835" y2="250.4" stroke="#4a4a4a" stroke-width="2.2" />
<line x1="1318.5" y1="250.4" x2="1304" y2="250.4" stroke="#4a4a4a" stroke-width="2.2" />
<line x1="820.5" y1="342.5" x2="835" y2="342.5" stroke="#4a4a4a" stroke-width="2.2" />
<line x1="1318.5" y1="342.5" x2="1304" y2="342.5" stroke="#4a4a4a" stroke-width="2.2" />
<line x1="820.5" y1="434" x2="835" y2="434" stroke="#4a4a4a" stroke-width="2.2" />
<line x1="1318.5" y1="434" x2="1304" y2="434" stroke="#4a4a4a" stroke-width="2.2" />
<text x="842.5" y="554" font-size="23" fill="#1a1a1a" text-anchor="middle" textLength="45.4" lengthAdjust="spacingAndGlyphs" style="stroke:#1a1a1a;stroke-width:0.4">0.06</text>
<text x="937.9" y="554" font-size="23" fill="#1a1a1a" text-anchor="middle" textLength="45.4" lengthAdjust="spacingAndGlyphs" style="stroke:#1a1a1a;stroke-width:0.4">0.07</text>
<text x="1032.9" y="554" font-size="23" fill="#1a1a1a" text-anchor="middle" textLength="45.4" lengthAdjust="spacingAndGlyphs" style="stroke:#1a1a1a;stroke-width:0.4">0.08</text>
<text x="1127.7" y="554" font-size="23" fill="#1a1a1a" text-anchor="middle" textLength="45.4" lengthAdjust="spacingAndGlyphs" style="stroke:#1a1a1a;stroke-width:0.4">0.09</text>
<text x="1223.2" y="554" font-size="23" fill="#1a1a1a" text-anchor="middle" textLength="45.4" lengthAdjust="spacingAndGlyphs" style="stroke:#1a1a1a;stroke-width:0.4">0.10</text>
<text x="810" y="75.2" font-size="23" fill="#1a1a1a" text-anchor="end" textLength="44.5" lengthAdjust="spacingAndGlyphs" style="stroke:#1a1a1a;stroke-width:0.4">0.35</text>
<text x="810" y="166.9" font-size="23" fill="#1a1a1a" text-anchor="end" textLength="44.5" lengthAdjust="spacingAndGlyphs" style="stroke:#1a1a1a;stroke-width:0.4">0.30</text>
<text x="810" y="259.1" font-size="23" fill="#1a1a1a" text-anchor="end" textLength="44.5" lengthAdjust="spacingAndGlyphs" style="stroke:#1a1a1a;stroke-width:0.4">0.25</text>
<text x="810" y="351.2" font-size="23" fill="#1a1a1a" text-anchor="end" textLength="44.5" lengthAdjust="spacingAndGlyphs" style="stroke:#1a1a1a;stroke-width:0.4">0.20</text>
<text x="810" y="442.7" font-size="23" fill="#1a1a1a" text-anchor="end" textLength="44.5" lengthAdjust="spacingAndGlyphs" style="stroke:#1a1a1a;stroke-width:0.4">0.15</text>
<circle cx="906.8" cy="78.8" r="8.1" fill="#000000"/>
<text x="952.2" y="86.6" font-size="22.5" fill="#1a1a1a" textLength="47.1" lengthAdjust="spacingAndGlyphs" style="stroke:#1a1a1a;stroke-width:0.4">0.8V</text>
<circle cx="906.8" cy="106.9" r="8.1" fill="#ff0000"/>
<text x="952.2" y="114.7" font-size="22.5" fill="#1a1a1a" textLength="47.1" lengthAdjust="spacingAndGlyphs" style="stroke:#1a1a1a;stroke-width:0.4">0.7V</text>
<circle cx="906.8" cy="135.1" r="8.1" fill="#12ee12"/>
<text x="952.2" y="142.9" font-size="22.5" fill="#1a1a1a" textLength="47.1" lengthAdjust="spacingAndGlyphs" style="stroke:#1a1a1a;stroke-width:0.4">0.6V</text>
<circle cx="906.8" cy="163.3" r="8.1" fill="#0a40ff"/>
<text x="952.2" y="171.1" font-size="22.5" fill="#1a1a1a" textLength="47.1" lengthAdjust="spacingAndGlyphs" style="stroke:#1a1a1a;stroke-width:0.4">0.5V</text>
<text x="969.8" y="585.7" font-size="20" fill="#1a1a1a" textLength="152" lengthAdjust="spacingAndGlyphs" style="stroke:#1a1a1a;stroke-width:0.4"><tspan font-style="italic">ω</tspan><tspan dy="-12" dx="2" font-size="15">-1/2</tspan><tspan dy="12"> (s</tspan><tspan dy="-12" font-size="15">1/2</tspan><tspan dy="12">/rad)</tspan></text>
<text x="742.8" y="421.5" font-size="23.5" fill="#1a1a1a" textLength="261" lengthAdjust="spacingAndGlyphs" transform="rotate(-90 742.8 421.5)" style="stroke:#1a1a1a;stroke-width:0.4">Current density (mA cm<tspan dy="-12" dx="1" font-size="14">-2</tspan><tspan dy="12" dx="2">)</tspan></text>
<text x="0.3" y="663.2" font-size="37" fill="#000" textLength="48.9" lengthAdjust="spacingAndGlyphs" style="stroke:#000;stroke-width:1.3">(c)</text>
<path d="M88.6 737.7L90.2 738.5L91.8 740L93.4 737.8L95 738.5L96.6 738.1L98.2 739L99.8 740.3L101.4 739.2L103 740.2L104.6 738.7L106.2 741.3L107.8 739.1L109.4 739.3L111 740.5L112.6 741.7L114.2 741.5L115.9 742.2L117.5 741.6L119.1 740.5L120.7 740.7L122.3 741.7L123.9 740.3L125.5 742.2L127.1 742.4L128.7 742L130.3 741.2L131.9 740L133.5 740.4L135.1 740.4L136.7 740.4L138.3 740.8L139.9 741L141.5 739.9L143.1 741.7L144.7 741.4L146.4 741.7L148 739.7L149.6 740.7L151.2 740.7L152.8 739.8L154.4 739.7L156 740.9L157.6 740L159.2 740.8L160.8 739.4L162.4 740.3L164 740.2L165.5 739.8L167.1 740L168.7 739.2L170.3 738.2L171.9 737.5L173.5 739L175.1 736.6L176.7 737.2L178.3 736.4L179.9 737.3L181.5 738L183.1 736L184.6 737.2L186.2 736.9L187.8 736.2L189.4 734.6L191 736.1L192.5 734.7L194.1 735.2L195.7 734L197.3 735L198.8 734.2L200.4 732.2L202 731.9L203.6 733.7L205.1 731.8L206.7 731.6L208.3 730.2L209.8 731.7L211.4 732L213 732L214.6 729.4L216.2 731.2L217.7 728.8L219.3 729.1L220.9 728.9L222.5 729.2L224.1 728.7L225.7 728.5L227.2 728.3L228.8 729.3L230.4 726.9L232 726.5L233.6 728.2L235.2 726.3L236.8 727.3L238.3 727.8L239.9 724.9L241.5 726.9L243.1 724.3L244.7 725.6L246.3 725.1L247.9 725.7L249.5 725.8L251.1 723.2L252.7 723.1L254.2 724.5L255.8 724.7L257.4 722.7L259 723.9L260.6 722.3L262.2 723.1L263.8 724.5L265.4 723.9L267 723.3L268.6 722.3L270.2 723.6L271.8 722.9L273.4 720.4L275 722.4L276.6 722L278.2 721.6L279.8 721.4L281.4 721.1L283 720.8L284.6 722.3L286.2 722.1L287.8 720.3L289.4 722.2L291 722.3L292.6 722.1L294.3 720.5L295.9 720.7L297.5 720.5L299.1 722.4L300.7 722.4L302.3 721.3L303.9 719.7L305.5 719.5L307.1 720.1L308.7 719.1L310.3 720.2L311.9 719.2L313.5 718.5L315 718.6L316.6 718.8L318.2 719.7L319.8 718.4L321.4 718.9L323 718.1L324.6 717.2L326.2 717.1L327.8 717.5L329.4 717.3L331 716.7L332.6 718.9L334.2 718L335.9 717.3L337.5 719L339.1 717.6L340.7 717.2L342.3 717.8L343.9 718.9L345.5 717.8L347.1 717.9L348.7 720.1L350.3 719.2L351.9 720L353.4 720.7L355 718.9L356.6 720L358.2 718.9L359.8 721.8L361.4 721.6L363 721.3L364.6 720.1L366.2 722.8L367.7 720.1L369.3 721.6L370.9 723.5L372.5 721.7L374.1 723.4L375.7 724.3L377.3 723.6L378.9 722.5L380.5 724.9L382.1 723.3L383.6 725.2L385.2 722.8L386.8 725.6L388.4 725.3L390 723.2L391.6 725.5L393.2 724.3L394.8 725.5L396.4 725.7L397.9 724.7L399.5 727.3L401.1 728.1L402.7 727.2L404.2 727L405.8 728.1L407.4 727.7L408.9 728.7L410.5 728.6L412 728.2L413.5 730.9L415.1 729.8L416.6 729.5L418.1 729.9L419.6 731.8L421.1 731.3L422.6 733.7L424.1 732.3L425.6 732.7L427 733.6L428.5 736.5L430 736.8L431.5 737.9L433 738.3L434.5 737L436 738.5L437.5 739.2L439 739L440.5 739.8L442 740L443.5 739.9L445.1 742.5L446.6 742.9L448.2 741L449.7 742.1L451.3 742.7L452.8 744.7L454.4 744.2L455.9 744.5L457.5 744.2L459.1 745.6L460.6 746.9L462.2 747.6L463.8 744.8L465.3 746.8L466.9 745.6L468.5 748.5L470.1 748.1L471.6 747.7L473.2 747.7L474.8 747.3L476.3 750.3L477.9 750.6L479.5 751.1L481.1 751.3L482.6 748.8L484.2 751.9L485.8 749.6L487.3 753L488.9 752.7L490.4 753.5L492 753.4L493.5 754.3L495.1 754.2L496.6 755.1L498.2 752.7L499.8 755.2L501.3 756.1L502.9 756.6L504.5 754.2L506 755.9L507.6 756.6L509.2 755.7L510.8 756.6L512.4 758.1L514 758.7L515.6 757.9L517.2 758.7L518.8 756.3L520.4 757.2L522 755.9L523.6 756L525.2 757L526.8 757.1L528.3 755.5L529.9 756.4L531.5 756.8L533 756L534.6 755L536.1 755L537.7 753.3L539.2 753.8L540.8 753.6L542.3 751.1L543.8 750.6L545.4 751.2L546.9 752.2L548.5 750.5L550 751.4L551.5 749.1L553.1 748.6L554.6 750L556.1 747.8L557.6 747.7L559.1 748.1L560.6 746L562.1 744.4L563.6 745.6L565.1 744.2L566.5 743.8L567.9 742.6L569.3 743L570.7 741.6L572 741.7L573.3 739.4L574.7 738.1L576 738.1" fill="none" stroke="#000" stroke-width="3.0" stroke-linecap="round" stroke-linejoin="round"/>
<path d="M88.6 776.1L89.9 776.7L91.2 775.9L92.5 777.1L93.8 773.8L95.1 774L96.4 773.1L97.7 774.3L99 771.9L100.3 773.8L101.6 770.1L103 771.9L104.3 772.5L105.7 771.8L107 769.2L108.4 768.1L109.8 770.8L111.1 771.2L112.5 769.9L113.9 768L115.2 769.5L116.6 768.9L118 767.4L119.4 768.1L120.8 767.1L122.1 767.4L123.5 767.6L124.9 765L126.3 768L127.7 768L129 766.5L130.4 766.7L131.8 763.4L133.2 763.8L134.6 766.3L136 765.6L137.4 764.4L138.7 762.6L140.1 763.8L141.5 763.7L142.9 762.7L144.3 761.4L145.7 762.7L147.1 761.1L148.5 760.7L149.8 763L151.2 763.5L152.6 760.4L154 760.2L155.4 761.3L156.8 760L158.2 762.1L159.6 761.2L161 760.4L162.4 762.4L163.8 761.1L165.2 758.9L166.5 758.5L167.9 759.8L169.3 758.7L170.7 760.9L172.1 757.5L173.5 758.2L174.9 757.6L176.3 759.5L177.7 759.7L179.1 759.2L180.5 756.8L181.9 759.3L183.3 755.7L184.7 757L186.1 759.2L187.5 759L188.9 755.1L190.3 757.6L191.7 755.3L193.1 756.8L194.5 755.3L195.9 754.8L197.3 756L198.6 756.1L200 755.5L201.4 755.5L202.8 754.6L204.2 756.7L205.6 754L207 756.3L208.4 755.2L209.8 755.3L211.2 752.4L212.6 754.7L214 755.9L215.4 753.8L216.8 755.3L218.2 753.1L219.6 752L221 754.2L222.4 754.1L223.8 750.9L225.2 753.6L226.5 752L227.9 753.4L229.3 751.3L230.7 750.4L232.1 752.9L233.5 751.6L234.9 752.3L236.3 748.9L237.7 751.4L239.1 751.4L240.5 749.8L241.8 748.7L243.2 748.4L244.6 751.1L246 750.3L247.4 750.7L248.8 748L250.2 749.3L251.6 748.2L253 748.3L254.4 748.3L255.7 746L257.1 749.1L258.5 746.8L259.9 747.3L261.3 745L262.7 745L264.1 748.3L265.5 745.2L266.9 747L268.3 745.5L269.7 746.7L271 746.1L272.4 747L273.8 745.6L275.2 743.1L276.6 743.2L278 745.6L279.4 744.2L280.8 744.6L282.2 745.5L283.6 743.9L285 745L286.4 744.2L287.8 743.2L289.2 742.2L290.6 744.4L292 742.9L293.4 740.8L294.8 741.1L296.2 743.9L297.5 740.2L298.9 741.8L300.3 740L301.7 741.6L303.1 741.9L304.5 739.1L305.9 742.4L307.2 740.1L308.6 742L310 739.3L311.4 739.9L312.8 738.4L314.1 737.7L315.5 738.7L316.9 740.4L318.3 738.1L319.6 737.2L321 736.3L322.4 735.4L323.8 737.1L325.1 736.6L326.5 737.8L327.9 735.7L329.3 734.8L330.6 737.4L332 736.3L333.4 733.1L334.7 733.8L336.1 732.5L337.5 734.9L338.9 732.6L340.2 732.7L341.6 733.6L343 734L344.4 733.3L345.7 731.7L347.1 732.9L348.5 731L349.9 731.8L351.2 729.6L352.6 732L354 731.6L355.4 729.8L356.7 728.6L358.1 727.4L359.5 729.2L360.8 728.8L362.2 726.6L363.6 728.4L365 729.8L366.3 728.8L367.7 727.6L369.1 728.1L370.5 727.7L371.8 726.1L373.2 725.6L374.6 726.2L375.9 723.8L377.3 723.8L378.7 723.1L380.1 726.5L381.4 725.4L382.8 723.7L384.2 722.3L385.6 721.3L386.9 723.8L388.3 722.5L389.7 724.3L391.1 722.3L392.5 720.4L393.8 722.2L395.2 719.5L396.6 721.1L398 722.1L399.4 720.3L400.7 720.1L402.1 721.6L403.5 720.6L404.9 719.7L406.3 717.4L407.6 719.8L409 718L410.4 719.8L411.8 718.5L413.2 717.6L414.5 718L415.9 715.8L417.3 716.5L418.7 718.5L420.1 716.6L421.4 716.4L422.8 714.9L424.2 716.1L425.6 714.2L427 717L428.4 714L429.7 715L431.1 715.5L432.5 714.9L433.9 715L435.3 714L436.7 711.9L438 713.8L439.4 714.7L440.8 711.3L442.2 713.7L443.6 711.8L445 712L446.3 711L447.7 711.7L449.1 711L450.5 710.7L451.9 710.5L453.3 711.3L454.7 711.2L456 709.4L457.4 708.1L458.8 709.2L460.2 708.1L461.6 709.3L463 710.4L464.4 706.9L465.7 706.6L467.1 706.4L468.5 707.3L469.9 705.9L471.3 705.7L472.7 707.7L474.1 707.2L475.5 706.1L476.8 706.9L478.2 704.6L479.6 706.3L481 707.6L482.4 706.9L483.8 706.8L485.2 704L486.5 706.7L487.9 704.1L489.3 702.8L490.7 702.3L492.1 703.8L493.5 703.7L494.8 701.3L496.2 703.2L497.5 700.8L498.9 700.7L500.2 700.7L501.6 701.6L503 701.9L504.3 701.5L505.7 701.2L507.1 700.1L508.6 700.2L510 700.6L511.4 699.6L512.8 701.7L514.2 701.5L515.6 699.5L517 699.1L518.4 700.9L519.8 699.1L521.2 702.4L522.6 702.6L524 698.8L525.4 699.1L526.8 702.2L528.2 699.1L529.6 699.4L531 701.4L532.4 700.1L533.8 700.7L535.2 700.7L536.6 699.7L538.1 700.8L539.5 702.2L540.9 701.8L542.3 702.3L543.7 701.3L545.1 701.9L546.5 700.6L547.9 702.1L549.3 702.1L550.7 702.3L552.1 701.8L553.5 704L554.9 700.2L556.3 704.2L557.7 702.3L559.1 702.9L560.5 702.5L561.9 702.5L563.3 702.8L564.8 701.2L566.2 701.6L567.6 702.4L569 702.4L570.4 702.1L571.8 703.1L573.2 702.3L574.6 701.7L576 701.7" fill="none" stroke="#ff0000" stroke-width="3.2" stroke-linecap="round" stroke-linejoin="round"/>
<path d="M87.9 1046.5L89.5 1047.8L91.1 1047L92.7 1045.1L94.3 1044.7L95.9 1046.1L97.5 1044.1L99.1 1044.7L100.7 1045.2L102.3 1044.3L103.9 1042.7L105.5 1045.4L107 1045.2L108.6 1043L110.2 1043.8L111.8 1044.9L113.4 1044.3L115 1041.5L116.6 1042.1L118.2 1041.9L119.8 1043.6L121.4 1042.9L123.1 1041L124.7 1040.6L126.3 1043.8L127.9 1041.1L129.5 1042.2L131.1 1042L132.7 1044L134.3 1042.7L135.9 1044.3L137.5 1044.2L139 1042.5L140.6 1044.5L142.2 1043.3L143.7 1043.5L145.3 1046.5L146.8 1045.7L148.4 1045.1L149.9 1046.8L151.5 1047.3L153.1 1048.3L154.6 1048.2L156.2 1048.1L157.8 1047.1L159.4 1047.5L161 1048.5L162.6 1048.3L164.2 1048.6L165.8 1050.2L167.5 1050.1L169.1 1048.7L170.7 1049.7L172.3 1049.7L173.9 1047.7L175.5 1047.1L177.1 1048.4L178.7 1049.8L180.3 1047.4L181.9 1047.7L183.5 1050.1L185.1 1047.6L186.7 1050.5L188.3 1048.4L189.9 1050L191.5 1051.5L193 1049.5L194.6 1050.6L196.1 1052.8L197.7 1050.8L199.2 1051.1L200.7 1053.3L202.3 1054.4L203.8 1053.6L205.3 1052.9L206.8 1055.3L208.3 1054L209.8 1054.5L211.3 1056L212.8 1058.5L214.3 1058.8L215.8 1058L217.3 1057.6L218.8 1058.3L220.3 1060.3L221.7 1060.9L223.2 1061.5L224.6 1061L226.1 1064L227.5 1064L228.9 1065.3L230.4 1065L231.8 1064.4L233.3 1066.8L234.8 1066.9L236.3 1066L237.8 1066.6L239.3 1068.4L240.9 1070.4L242.4 1069.4L244 1070.5L245.5 1070.7L247.1 1069.9L248.7 1070.5L250.2 1069.9L251.8 1070.7L253.4 1072.4L254.9 1073.1L256.5 1071.7L258.1 1073.9L259.7 1073.9L261.3 1075.4L262.8 1075.3L264.4 1074.5L266 1075.1L267.6 1073.6L269.2 1076.9L270.8 1076.9L272.3 1076L273.9 1075.3L275.5 1076.8L277.1 1076.2L278.7 1077.2L280.3 1076.6L281.9 1076.5L283.5 1077L285.1 1078.7L286.7 1078.9L288.3 1077.2L289.9 1077.5L291.5 1078.2L293.1 1078L294.7 1078L296.3 1078.9L297.9 1077.6L299.5 1077.5L301.1 1078.3L302.7 1081.1L304.3 1080.5L305.9 1079.9L307.5 1078.7L309.1 1081.8L310.7 1081.6L312.3 1081.9L313.9 1080.8L315.5 1080L317.1 1079.8L318.7 1082L320.3 1080L321.9 1081.7L323.5 1082.3L325.1 1081.9L326.7 1082.9L328.3 1083.6L329.9 1081.1L331.4 1081.5L333 1081.9L334.6 1082.8L336.2 1084L337.7 1083.9L339.3 1084.1L341 1084.9L342.6 1083.1L344.2 1082.9L345.8 1082.8L347.4 1085L349 1083.2L350.6 1083.8L352.1 1084.5L353.7 1081.7L355.3 1080.9L356.9 1081.3L358.4 1081.4L360 1081.5L361.6 1080.1L363.1 1081.6L364.7 1080.7L366.3 1080.9L367.8 1078.5L369.4 1078.3L371 1079.3L372.5 1078.1L374.1 1079.6L375.6 1078.5L377.2 1076L378.7 1075.4L380.3 1075.7L381.8 1076.8L383.4 1075.7L384.9 1073.9L386.4 1072.8L388 1073.9L389.5 1074.9L391 1073.2L392.5 1073.9L394.1 1071.8L395.6 1072.9L397.1 1070.7L398.6 1071.2L400.1 1068.7L401.5 1067.4L403 1069L404.5 1066.3L405.9 1068L407.4 1067.7L408.8 1065L410.3 1064.1L411.7 1064.4L413.1 1063.9L414.5 1061L415.9 1062.2L417.3 1059.8L418.7 1058.7L420.1 1058.7L421.5 1058.2L422.9 1057.3L424.2 1057.5L425.5 1055.8L426.8 1054.3L428.1 1053.8L429.4 1053.1L430.7 1053.1L432 1050.5L433.2 1051L434.5 1049.6L435.8 1049.4L437.1 1046.8L438.4 1045.1L439.8 1043.9L441.1 1044.6L442.5 1045.2L443.9 1042.1L445.3 1041.6L446.7 1042.3L448.1 1040.1L449.5 1041.1L451 1037.4L452.4 1039.7L453.9 1036.9L455.3 1038.6L456.8 1037.2L458.3 1036.6L459.7 1034.8L461.2 1033.6L462.7 1033L464.1 1034.3L465.6 1032.1L467.1 1030L468.6 1031.4L470 1030.9L471.5 1030.1L473 1027.7L474.5 1027.4L476 1028.8L477.4 1027.5L478.9 1027.2L480.4 1024.5L481.9 1025.5L483.3 1023.8L484.8 1023.1L486.3 1022.1L487.8 1021.4L489.2 1021.2L490.7 1022.3L492.2 1021.2L493.7 1020.4L495.2 1019.3L496.7 1018.3L498.3 1019L499.8 1019.4L501.3 1017.7L502.9 1015.9L504.4 1018.3L506 1016.3L507.5 1014.6L509 1016.5L510.6 1014.6L512.1 1013.2L513.7 1015.8L515.3 1013.4L516.9 1012.7L518.5 1013.4L520.1 1011.8L521.7 1012.6L523.3 1014.1L524.9 1013.2L526.5 1012.5L528 1013.8L529.6 1016.6L531.1 1016.3L532.6 1016.6L534 1015.3L535.5 1019.1L536.9 1018.4L538.4 1019L539.8 1020.7L541.2 1021.1L542.7 1022.3L544.1 1020.7L545.5 1022.9L547 1024.4L548.5 1023.4L549.9 1023.4L551.4 1024.3L552.8 1024.9L554.2 1026.5L555.7 1027.9L557.1 1026.9L558.5 1027.5L559.8 1028.6L561.2 1030.1L562.5 1031.3L563.7 1033.8L564.9 1034.7L566.1 1033.7L567.1 1036.1L568.2 1037.9L569.2 1039.9L570.1 1039.6L571.1 1040.7L572.1 1042.3L573 1043.7L574 1045.5L575 1048.1" fill="none" stroke="#000" stroke-width="3.0" stroke-linecap="round" stroke-linejoin="round"/>
<path d="M87.9 980.4L88.8 978.5L89.8 981.4L90.7 975.2L91.7 976.7L92.6 980.2L93.6 982.7L94.5 977.3L95.5 976.1L96.4 978.5L97.4 978.3L98.3 979L99.2 982.3L100.2 984.2L101.1 981.5L102 979.5L102.9 983.5L103.8 983L104.7 983.3L105.6 986.7L106.5 986.8L107.3 982.8L108.2 986.1L109 987.1L109.8 990.1L110.6 990L111.4 991.1L112.2 989.2L113 989.5L113.8 986.9L114.5 989.7L115.3 993.1L116.1 994L116.9 992.1L117.6 994.6L118.4 993L119.2 996.6L120 995.3L120.8 997.9L121.6 993.3L122.4 995.3L123.2 997.7L124 994.2L124.9 994.6L125.7 997.6L126.6 999.3L127.5 1003L128.4 999L129.3 1002.1L130.2 1004.7L131.2 1004.4L132.1 997L133.1 1005.4L134 1005L135 1003.7L136 998.8L136.9 1003.1L137.9 1005.3L138.9 1003.3L139.9 1001.7L140.9 1003.5L141.9 1006.4L142.9 1000.2L143.9 999.6L144.9 1007.5L145.9 1002L146.9 1003.4L147.9 1002L148.8 1005L149.8 1005.6L150.8 1002.6L151.8 1007.6L152.8 1008L153.8 1003.1L154.8 1006.5L155.8 1009.3L156.7 1008L157.7 1003.1L158.7 1008.4L159.7 1010.2L160.6 1005.4L161.6 1003.3L162.5 1005.8L163.5 1008L164.5 1004.9L165.4 1009.1L166.4 1004.7L167.3 1012.1L168.3 1005.5L169.2 1006.8L170.1 1009.4L171.1 1009.5L172 1012.6L173 1006.6L173.9 1012.6L174.8 1009.5L175.8 1012.6L176.7 1012.5L177.7 1010L178.6 1009.7L179.5 1015.4L180.5 1013.3L181.4 1014L182.4 1017.9L183.3 1015.7L184.3 1014.3L185.2 1014.8L186.2 1013.4L187.1 1013.7L188.1 1012.1L189 1020L190 1015.8L190.9 1018.2L191.9 1016.1L192.9 1014.3L193.8 1017.4L194.8 1017.8L195.8 1014.6L196.7 1021.2L197.7 1017L198.7 1020.2L199.7 1016.2L200.7 1019.5L201.7 1021L202.7 1021.4L203.6 1021.8L204.6 1020.5L205.6 1019L206.6 1022.3L207.6 1016.4L208.6 1023.7L209.6 1019.8L210.6 1021.5L211.6 1023.1L212.6 1017.8L213.6 1021L214.6 1021L215.6 1024.2L216.6 1023.5L217.6 1022.1L218.6 1022.4L219.6 1019L220.6 1024.3L221.6 1017.2L222.6 1020.3L223.6 1023.5L224.6 1024.7L225.6 1018.3L226.6 1021.8L227.6 1021L228.6 1023.5L229.6 1024.4L230.6 1017.9L231.6 1021.9L232.6 1022.7L233.6 1018.4L234.6 1018.3L235.6 1023.2L236.6 1024.7L237.5 1018.7L238.5 1027.1L239.5 1019.5L240.5 1024.1L241.4 1020.4L242.4 1022.8L243.4 1023.5L244.3 1023.7L245.3 1024.1L246.2 1028.8L247.2 1029.2L248.2 1023.1L249.1 1028L250.1 1027.9L251 1030L252 1027.8L252.9 1029.1L253.9 1025.7L254.8 1030.7L255.7 1029L256.7 1027.2L257.6 1028.1L258.6 1032.2L259.5 1033.2L260.4 1033.7L261.4 1028.3L262.3 1028L263.2 1033.5L264.2 1030.2L265.1 1035.5L266 1031.5L267 1030L267.9 1029.7L268.8 1030.3L269.8 1034.9L270.7 1034L271.6 1036.3L272.6 1031.6L273.5 1031.9L274.4 1037.5L275.4 1034.9L276.3 1034.6L277.2 1039.9L278.2 1033.1L279.1 1033.4L280.1 1036.2L281 1037.1L281.9 1042.7L282.9 1041.5L283.8 1040.4L284.7 1036.7L285.7 1041.9L286.6 1038.5L287.5 1039.6L288.5 1037L289.4 1044.4L290.3 1040.2L291.3 1042.7L292.2 1039.1L293.1 1045.4L294 1039.3L295 1039.9L295.9 1045.9L296.8 1040.5L297.7 1044.7L298.7 1047L299.6 1045.4L300.5 1048.5L301.5 1046.7L302.4 1047.6L303.3 1049.3L304.2 1043.4L305.2 1051.5L306.1 1049.2L307 1051.2L307.9 1044.9L308.8 1050L309.7 1047.4L310.6 1048.4L311.5 1049.8L312.4 1055.4L313.3 1055.8L314.2 1054.3L315.1 1049L316 1057L316.9 1057.6L317.8 1051.8L318.7 1054.4L319.6 1056.5L320.5 1053.3L321.4 1059.6L322.3 1059.5L323.2 1056.7L324.2 1057L325.1 1056.8L326 1053.5L327 1060.9L328 1059.7L328.9 1062.2L329.9 1056.4L330.9 1056.5L331.9 1059.3L332.9 1058.8L333.8 1058.3L334.7 1059.6L335.6 1054.3L336.6 1057.7L337.5 1058.9L338.5 1053.8L339.5 1056.8L340.5 1054.6L341.5 1059.5L342.4 1059.1L343.4 1056.7L344.3 1060.6L345.2 1057.3L346.1 1058.3L347 1056.7L347.8 1058.9L348.7 1058.3L349.6 1058.7L350.5 1060.4L351.3 1060.1L352.2 1061L353.1 1062.2L353.9 1064.8L354.8 1060.9L355.7 1062.1L356.6 1067.3L357.5 1062.5L358.3 1062.7L359.2 1068L360.1 1064.2L361.1 1069L362 1068.1L362.9 1065.7L363.8 1065.2L364.8 1066.3L365.7 1066.7L366.7 1071.1L367.7 1067.4L368.6 1069.2L369.6 1067.7L370.6 1068.1L371.6 1069.3L372.5 1068.2L373.5 1069.9L374.5 1072.6L375.5 1069.6L376.5 1070.6L377.5 1072.5L378.4 1072.3L379.4 1070.6L380.4 1069.5L381.4 1069.4L382.4 1072.7L383.4 1070.4L384.4 1071.3L385.3 1075.4L386.3 1074.8L387.3 1075.9L388.3 1076.1L389.3 1074L390.2 1072.2L391.2 1073.7L392.2 1073.5L393.1 1077L394.1 1074.5L395 1072.5L396 1075.9L396.9 1073.9L397.8 1077.5L398.8 1074L399.7 1077.8L400.6 1077.3L401.5 1076.1L402.4 1079.3L403.4 1076.3L404.3 1078.5L405.2 1078.3L406.1 1078.7L407 1082.9L407.9 1082.4L408.8 1082.8L409.7 1079.5L410.6 1079.4L411.6 1082L412.5 1084.9L413.4 1084L414.3 1085.2L415.2 1083.4L416.2 1083.7L417.1 1085.9L418 1082.6L419 1086.5L419.9 1088.6L420.9 1083.7L421.8 1087.8L422.8 1087.1L423.8 1085.7L424.8 1088.7L425.7 1088L426.7 1090L427.7 1087.8L428.7 1089.1L429.7 1089.4L430.7 1085.9L431.7 1086.4L432.6 1088.5L433.6 1086.9L434.6 1087.6L435.6 1087.9L436.6 1088.2L437.6 1090.5L438.6 1086.8L439.6 1091L440.5 1092.5L441.5 1089.4L442.5 1091.6L443.5 1089.8L444.4 1093.7L445.4 1089.7L446.3 1089.7L447.3 1091.6L448.3 1093.5L449.2 1092.2L450.2 1092.9L451.1 1093.7L452.1 1093.2L453 1095.5L453.9 1093L454.9 1093.2L455.8 1094L456.8 1096.9L457.7 1097.9L458.6 1096.8L459.6 1098.6L460.5 1097.4L461.5 1096.9L462.4 1096.9L463.3 1095.2L464.3 1099.6L465.2 1095.6L466.2 1099.5L467.1 1099.8L468 1101L469 1098.2L469.9 1098.1L470.8 1100.8L471.8 1100.3L472.7 1103.4L473.6 1099.9L474.5 1099.9L475.4 1101.4L476.4 1103.2L477.3 1105.6L478.2 1101.4L479.1 1101.6L480 1105.2L480.9 1104.2L481.9 1103.7L482.8 1105.2L483.7 1103.2L484.6 1106.7L485.6 1104.7L486.5 1105.5L487.4 1107.1L488.4 1109.7L489.3 1106L490.3 1110.8L491.2 1110.9L492.2 1111.7L493.1 1108.5L494.1 1110.7L495.1 1109.1L496 1110L497 1110.6L498 1109L499 1108.5L499.9 1109.1L500.9 1111L501.9 1112L502.9 1110.3L503.9 1109.3L504.9 1110.2L505.9 1114.4L506.9 1110.2L507.9 1110.2L508.9 1113.8L509.9 1111.3L510.9 1110.3L511.9 1111.6L512.9 1113.5L513.9 1110.8L514.9 1113.8L515.9 1114.1L516.9 1112.3L517.9 1110.7L518.9 1110.5L519.9 1112.6L520.9 1112.8L521.9 1108.1L522.9 1109.9L523.9 1111.1L524.9 1111.4L525.9 1112.4L526.9 1110.2L527.9 1110.1L528.9 1109.6L529.9 1109.5L530.9 1109.9L531.9 1108.1L532.9 1110.1L533.9 1112.3L534.9 1109.7L535.9 1107.3L536.9 1108.2L537.9 1109L538.9 1108.1L539.9 1108.5L540.9 1110.7L541.9 1109.8L542.9 1111.8L543.9 1109.6L544.9 1108.6L545.9 1108.9L546.9 1111.1L547.9 1108.6L548.9 1111.5L549.9 1112L550.9 1107.3L552 1107.3L553 1107.2L554 1112.3L555 1107.4L556 1110.1L557 1107.8L558 1108.9L559 1111.2L560 1110.3L561 1108.7L562 1111L563 1112.2L564 1109.5L565 1112.4L566 1108.8L567 1107.9L568 1109.7L569 1111.5L570 1112.4L571 1110.8L572 1112.7L573 1108.3L574 1108.8L575 1111.4" fill="none" stroke="#ff0000" stroke-width="2.8" stroke-linecap="round" stroke-linejoin="round"/>
<rect x="84.5" y="669.5" width="491.5" height="493.8" fill="none" stroke="#4a4a4a" stroke-width="2.4"/>
<line x1="88" y1="1163.3" x2="88" y2="1148.8" stroke="#4a4a4a" stroke-width="2.2" />
<line x1="88" y1="669.5" x2="88" y2="684" stroke="#4a4a4a" stroke-width="2.2" />
<line x1="210.5" y1="1163.3" x2="210.5" y2="1148.8" stroke="#4a4a4a" stroke-width="2.2" />
<line x1="210.5" y1="669.5" x2="210.5" y2="684" stroke="#4a4a4a" stroke-width="2.2" />
<line x1="332.5" y1="1163.3" x2="332.5" y2="1148.8" stroke="#4a4a4a" stroke-width="2.2" />
<line x1="332.5" y1="669.5" x2="332.5" y2="684" stroke="#4a4a4a" stroke-width="2.2" />
<line x1="454.8" y1="1163.3" x2="454.8" y2="1148.8" stroke="#4a4a4a" stroke-width="2.2" />
<line x1="454.8" y1="669.5" x2="454.8" y2="684" stroke="#4a4a4a" stroke-width="2.2" />
<line x1="577" y1="1163.3" x2="577" y2="1148.8" stroke="#4a4a4a" stroke-width="2.2" />
<line x1="577" y1="669.5" x2="577" y2="684" stroke="#4a4a4a" stroke-width="2.2" />
<line x1="84.5" y1="1160.5" x2="99" y2="1160.5" stroke="#4a4a4a" stroke-width="2.2" />
<line x1="84.5" y1="1095" x2="99" y2="1095" stroke="#4a4a4a" stroke-width="2.2" />
<line x1="84.5" y1="1030" x2="99" y2="1030" stroke="#4a4a4a" stroke-width="2.2" />
<line x1="84.5" y1="965.1" x2="99" y2="965.1" stroke="#4a4a4a" stroke-width="2.2" />
<line x1="84.5" y1="900.3" x2="99" y2="900.3" stroke="#4a4a4a" stroke-width="2.2" />
<line x1="84.5" y1="835.4" x2="99" y2="835.4" stroke="#4a4a4a" stroke-width="2.2" />
<line x1="84.5" y1="770.5" x2="99" y2="770.5" stroke="#4a4a4a" stroke-width="2.2" />
<line x1="84.5" y1="705.6" x2="99" y2="705.6" stroke="#4a4a4a" stroke-width="2.2" />
<line x1="576" y1="1160.6" x2="561.5" y2="1160.6" stroke="#4a4a4a" stroke-width="2.2" />
<line x1="576" y1="1062.8" x2="561.5" y2="1062.8" stroke="#4a4a4a" stroke-width="2.2" />
<line x1="576" y1="965.4" x2="561.5" y2="965.4" stroke="#4a4a4a" stroke-width="2.2" />
<line x1="576" y1="868.3" x2="561.5" y2="868.3" stroke="#4a4a4a" stroke-width="2.2" />
<line x1="576" y1="770.7" x2="561.5" y2="770.7" stroke="#4a4a4a" stroke-width="2.2" />
<line x1="576" y1="671.5" x2="561.5" y2="671.5" stroke="#4a4a4a" stroke-width="2.2" />
<text x="88" y="1193" font-size="23" fill="#1a1a1a" text-anchor="middle" textLength="34" lengthAdjust="spacingAndGlyphs" style="stroke:#1a1a1a;stroke-width:0.4">0.4</text>
<text x="210.5" y="1193" font-size="23" fill="#1a1a1a" text-anchor="middle" textLength="34" lengthAdjust="spacingAndGlyphs" style="stroke:#1a1a1a;stroke-width:0.4">0.5</text>
<text x="332.5" y="1193" font-size="23" fill="#1a1a1a" text-anchor="middle" textLength="34" lengthAdjust="spacingAndGlyphs" style="stroke:#1a1a1a;stroke-width:0.4">0.6</text>
<text x="454.8" y="1193" font-size="23" fill="#1a1a1a" text-anchor="middle" textLength="34" lengthAdjust="spacingAndGlyphs" style="stroke:#1a1a1a;stroke-width:0.4">0.7</text>
<text x="577" y="1193" font-size="23" fill="#1a1a1a" text-anchor="middle" textLength="34" lengthAdjust="spacingAndGlyphs" style="stroke:#1a1a1a;stroke-width:0.4">0.8</text>
<text x="76" y="1169.2" font-size="23" fill="#1a1a1a" text-anchor="end" textLength="12.5" lengthAdjust="spacingAndGlyphs" style="stroke:#1a1a1a;stroke-width:0.4">0</text>
<text x="76" y="1103.7" font-size="23" fill="#1a1a1a" text-anchor="end" textLength="12.5" lengthAdjust="spacingAndGlyphs" style="stroke:#1a1a1a;stroke-width:0.4">2</text>
<text x="76" y="1038.7" font-size="23" fill="#1a1a1a" text-anchor="end" textLength="12.5" lengthAdjust="spacingAndGlyphs" style="stroke:#1a1a1a;stroke-width:0.4">4</text>
<text x="76" y="973.8" font-size="23" fill="#1a1a1a" text-anchor="end" textLength="12.5" lengthAdjust="spacingAndGlyphs" style="stroke:#1a1a1a;stroke-width:0.4">6</text>
<text x="76" y="909" font-size="23" fill="#1a1a1a" text-anchor="end" textLength="12.5" lengthAdjust="spacingAndGlyphs" style="stroke:#1a1a1a;stroke-width:0.4">8</text>
<text x="76" y="844.1" font-size="23" fill="#1a1a1a" text-anchor="end" textLength="24.5" lengthAdjust="spacingAndGlyphs" style="stroke:#1a1a1a;stroke-width:0.4">10</text>
<text x="76" y="779.2" font-size="23" fill="#1a1a1a" text-anchor="end" textLength="24.5" lengthAdjust="spacingAndGlyphs" style="stroke:#1a1a1a;stroke-width:0.4">12</text>
<text x="76" y="714.3" font-size="23" fill="#1a1a1a" text-anchor="end" textLength="24.5" lengthAdjust="spacingAndGlyphs" style="stroke:#1a1a1a;stroke-width:0.4">14</text>
<text x="586" y="1169.3" font-size="23" fill="#1a1a1a" textLength="33" lengthAdjust="spacingAndGlyphs" style="stroke:#1a1a1a;stroke-width:0.4">3.5</text>
<text x="586" y="1071.5" font-size="23" fill="#1a1a1a" textLength="33" lengthAdjust="spacingAndGlyphs" style="stroke:#1a1a1a;stroke-width:0.4">3.6</text>
<text x="586" y="974.1" font-size="23" fill="#1a1a1a" textLength="33" lengthAdjust="spacingAndGlyphs" style="stroke:#1a1a1a;stroke-width:0.4">3.7</text>
<text x="586" y="877" font-size="23" fill="#1a1a1a" textLength="33" lengthAdjust="spacingAndGlyphs" style="stroke:#1a1a1a;stroke-width:0.4">3.8</text>
<text x="586" y="779.4" font-size="23" fill="#1a1a1a" textLength="33" lengthAdjust="spacingAndGlyphs" style="stroke:#1a1a1a;stroke-width:0.4">3.9</text>
<text x="586" y="680.2" font-size="23" fill="#1a1a1a" textLength="33" lengthAdjust="spacingAndGlyphs" style="stroke:#1a1a1a;stroke-width:0.4">4.0</text>
<line x1="120.3" y1="883" x2="167" y2="883" stroke="#ff0000" stroke-width="2.6" />
<line x1="120.3" y1="909.1" x2="167" y2="909.1" stroke="#000" stroke-width="2.6" />
<text x="188.8" y="890" font-size="21.5" fill="#1a1a1a" textLength="367" lengthAdjust="spacingAndGlyphs" style="stroke:#1a1a1a;stroke-width:0.4">FeAzPc-4N-DMSO/oxMWCNT-20wt%</text>
<text x="188.8" y="916" font-size="21.5" fill="#1a1a1a" textLength="44" lengthAdjust="spacingAndGlyphs" style="stroke:#1a1a1a;stroke-width:0.4">Pt/C</text>
<text x="232.5" y="1223.5" font-size="20" fill="#1a1a1a" textLength="155" lengthAdjust="spacingAndGlyphs" style="stroke:#1a1a1a;stroke-width:0.4"><tspan font-style="italic">ω</tspan><tspan dy="-12" dx="2" font-size="15">-1/2</tspan><tspan dy="12"> (s</tspan><tspan dy="-12" font-size="15">1/2</tspan><tspan dy="12">/rad)</tspan></text>
<text x="27.6" y="998.8" font-size="22" fill="#1a1a1a" textLength="139.5" lengthAdjust="spacingAndGlyphs" transform="rotate(-90 27.6 998.8)" style="stroke:#1a1a1a;stroke-width:0.4">H<tspan dy="5" font-size="14">2</tspan><tspan dy="-5">O</tspan><tspan dy="5" font-size="14">2</tspan><tspan dy="-5"> yield (%)</tspan></text>
<text x="641.3" y="904" font-size="21" fill="#1a1a1a" transform="rotate(90 641.3 904)" style="stroke:#1a1a1a;stroke-width:0.4">n</text>
<text x="705.7" y="663.5" font-size="37" fill="#000" textLength="51.2" lengthAdjust="spacingAndGlyphs" style="stroke:#000;stroke-width:1.3">(d)</text>
<circle cx="815.7" cy="672.9" r="2" fill="#ff0000"/>
<circle cx="818.5" cy="670" r="2" fill="#ff0000"/>
<circle cx="822.5" cy="671.5" r="2" fill="#ff0000"/>
<circle cx="829.3" cy="676.3" r="2" fill="#ff0000"/>
<circle cx="831" cy="678" r="2" fill="#ff0000"/>
<circle cx="843" cy="682" r="2" fill="#ff0000"/>
<circle cx="849.8" cy="685.4" r="2" fill="#ff0000"/>
<circle cx="858.8" cy="688.8" r="2" fill="#ff0000"/>
<circle cx="861" cy="690.5" r="2" fill="#ff0000"/>
<circle cx="867.9" cy="693.3" r="2" fill="#ff0000"/>
<circle cx="874.7" cy="696.7" r="2" fill="#ff0000"/>
<circle cx="883.8" cy="701.3" r="2" fill="#ff0000"/>
<circle cx="890.6" cy="704.7" r="2" fill="#ff0000"/>
<path d="M890.6 704.1L892.4 705.1L894.2 706.4L896 706.5L897.7 708L899.5 708.4L901.3 709.3L903.1 712.9L904.9 711.2L906.6 712.8L908.4 714.1L910.2 714.6L912 714.7L913.8 715.7L915.6 718.7L917.4 718.1L919.1 717.6L920.9 720.3L922.7 720.6L924.5 721.4L926.3 722.1L928.1 725.5L929.9 726.9L931.7 725.4L933.5 726.6L935.2 727.4L937 727.8L938.8 729.5L940.6 731L942.4 731L944.2 732.7L946 733.8L947.8 735.1L949.6 734.8L951.4 735.4L953.2 736.6L954.9 737.7L956.7 737.4L958.5 738.4L960.3 739.4L962.1 741.4L963.9 742.2L965.7 742.5L967.5 745.7L969.3 744.6L971 745.5L972.8 746.2L974.6 749.1L976.4 750.1L978.2 749L980 751L981.8 752.1L983.6 751L985.3 751.5L987.1 752.7L988.9 757.6L990.7 756.4L992.5 757.3L994.3 757.8L996 758.4L997.8 761.7L999.6 759.9L1001.4 762L1003.2 765L1005 763.2L1006.7 764.4L1008.5 765.1L1010.3 765.2L1012.1 767.1L1013.9 769.5L1015.7 768.8L1017.4 770.1L1019.2 769.8L1021 769.6L1022.8 773.9L1024.5 772.4L1026.3 774.3L1028 775.4L1029.8 778.3L1031.5 776.5L1033.2 779.7L1035 777.9L1036.7 781.7L1038.4 783.2L1040.1 783.4L1041.8 784.5L1043.4 785.5L1045.1 787.4L1046.8 786.9L1048.5 791.3L1050.1 789.3L1051.8 790.8L1053.4 791.8L1055.1 793.1L1056.7 793.6L1058.4 795.1L1060 794.8L1061.7 795.6L1063.3 797.5L1064.9 800.3L1066.6 802.8L1068.2 800.8L1069.8 803.5L1071.4 803.3L1073 806.8L1074.6 806.9L1076.2 811.6L1077.8 809L1079.3 812.3L1080.9 812.1L1082.4 813.5L1083.9 815.7L1085.3 815.4L1086.7 818.8L1088.1 818.9L1089.5 821.5L1090.9 823.1L1092.3 821.7L1093.7 824.5L1095.1 826.6L1096.6 827.4L1098 829.9L1099.4 831.2L1100.9 832L1102.3 834.4L1103.7 835.1L1105.1 836L1106.4 839L1107.7 839.5L1109 842L1110.2 842.1L1111.5 843.8L1112.7 845.4L1114 847.5L1115.3 847.1L1116.6 850.8L1118.1 851.7L1119.6 852.8L1121.2 853L1122.7 855.8L1124.1 857.4L1125.5 859.4L1126.9 860L1128.2 862.1L1129.6 863.6L1130.9 864.1L1132.3 866.2L1133.6 865.8L1135 867.8L1136.3 870.9L1137.6 872.4L1138.9 873.4L1140.2 875.2L1141.5 878L1142.8 877L1144.1 880.2L1145.4 879.4L1146.6 882.2L1147.9 884.9L1149.1 886L1150.4 886.6L1151.6 891L1152.8 889.6L1154 890.9L1155.2 894.2L1156.4 894.8L1157.6 898.1L1158.8 898.9L1159.9 900.8L1161.1 902.8L1162.2 905L1163.3 905.7L1164.4 906.9L1165.5 908.2L1166.6 910.5L1167.7 912.9L1168.8 914.5L1169.8 914.7L1170.8 917.8L1171.9 918.4L1172.9 920.5L1173.9 925.1L1174.9 923.8L1175.8 927.7L1176.8 927.3L1177.8 930.9L1178.8 931.5L1179.8 933.4L1180.8 936.9L1181.8 937.3L1182.8 938L1183.8 939.6L1184.9 941.3L1185.9 945.2L1186.9 946.4L1187.9 946.6L1189 949L1190 952.4L1191 952.5L1192 953.7L1193.1 957.8L1194.1 957.8L1195.1 959.5L1196.1 962.5L1197.1 964.3L1198.2 965.7L1199.2 965.5L1200.2 967.2L1201.2 969.2L1202.2 971.8L1203.2 972.4L1204.2 975.6L1205.2 975.6L1206.3 978.3L1207.2 980.1L1208.2 982.5L1209.2 982.6L1210.2 985.5L1211.1 988.5L1212.1 989.7L1213.1 989.1L1214 993.3L1214.9 995.5L1215.9 995.3L1216.8 996.2L1217.8 999L1218.7 1001.8L1219.7 1001.2L1220.6 1004.8L1221.6 1008.4L1222.5 1007.8L1223.5 1010.8L1224.5 1012.7L1225.4 1013.4L1226.4 1013.4L1227.5 1017.7L1228.5 1019L1229.5 1021.7L1230.6 1021.3L1231.8 1025L1232.9 1026.3L1234.2 1027L1235.5 1029.4L1236.8 1029.5L1238.2 1032.9L1239.5 1034L1240.9 1035.6L1242.1 1036.6L1243.3 1037.7L1244.5 1038.4L1245.6 1041.7L1246.7 1043.5L1247.7 1045.1L1248.8 1046.2L1249.8 1049.6L1250.9 1048.6L1251.9 1052.5L1252.9 1053.4L1253.9 1054.5L1254.9 1055L1255.8 1057.6L1256.8 1059.9L1257.8 1061.7L1258.7 1065.1L1259.7 1067.7L1260.6 1067L1261.5 1070.6L1262.4 1069.9L1263.3 1072.6L1264.2 1075.2L1265.1 1077.2L1266 1077.6L1266.8 1078.5L1267.7 1079.8L1268.5 1082L1269.4 1084.9L1270.2 1087.9L1271 1090.4L1271.9 1091.2L1272.7 1094.7L1273.5 1093.7L1274.4 1095.9L1275.2 1099.3L1276 1100.2L1276.9 1100.8L1277.7 1101.3L1278.6 1105.8L1279.4 1107.1L1280.3 1109.3L1281.2 1109.5L1282.1 1113.9L1283 1115.3L1284 1116.3L1284.9 1116.4L1285.8 1119.7L1286.7 1123.2L1287.7 1124.4L1288.6 1124.3L1289.5 1127.7L1290.4 1130.4L1291.2 1131.6L1292.1 1132.2L1292.9 1133.2L1293.7 1136.5L1294.4 1137.9L1295.2 1141.3L1295.9 1140L1296.6 1142.1L1297.3 1148.8L1298 1148.4L1298.7 1150.7L1299.4 1152.8L1300.1 1152L1300.8 1153.8" fill="none" stroke="#ff0000" stroke-width="3.6" stroke-linecap="round" stroke-linejoin="round"/>
<path d="M899 667.6L900.3 670.6L901.6 671.7L902.9 672.7L904.2 675L905.5 676.4L906.8 678.9L908.1 680.6L909.3 680.1L910.6 681.1L911.9 682.7L913.2 687.1L914.5 688.5L915.8 688.6L917.1 689L918.4 691.3L919.7 694.3L921 694.6L922.3 695.7L923.6 698.3L924.9 699.4L926.2 699.5L927.4 702.4L928.7 703L930 705.1L931.3 706L932.6 707.6L933.9 708.7L935.2 712.4L936.5 713.5L937.8 713.1L939.1 717.2L940.4 721.1L941.6 718L942.9 720.1L944.2 720L945.5 723.6L946.8 725.5L948.1 728.3L949.4 727.5L950.7 730.8L952 730.6L953.3 732.6L954.5 734.4L955.8 734L957.1 736.6L958.4 737.3L959.7 741.7L961 742.2L962.2 744L963.5 745.3L964.8 745.6L966.1 748.5L967.4 749.7L968.7 750L970 752.6L971.3 756.1L972.6 757.5L973.9 756.9L975.2 758.7L976.5 758.1L977.7 761.6L979 761.9L980.3 763.9L981.6 767.4L982.9 766.5L984.1 771.6L985.4 771.2L986.7 774.2L987.9 775.5L989.2 775.2L990.4 777.1L991.7 778.2L992.9 781L994.2 782L995.4 783.5L996.6 787.4L997.8 788.9L999 790.9L1000.2 790.9L1001.4 791.8L1002.6 795.2L1003.8 795.8L1005 797.4L1006.1 800.7L1007.3 801.5L1008.5 801.2L1009.6 802L1010.8 805L1011.9 806.6L1013.1 809.2L1014.2 812L1015.4 812.4L1016.5 813.8L1017.7 813.8L1018.8 816.4L1020 820L1021.1 820.4L1022.3 820.6L1023.4 824L1024.5 823.6L1025.7 826L1026.8 827.4L1028 831.1L1029.1 831L1030.3 834.5L1031.4 837L1032.6 836.9L1033.8 838.1L1034.9 838.8L1036.1 843.9L1037.3 843.3L1038.4 845.6L1039.6 846.7L1040.8 847.9L1042 850.3L1043.2 850.1L1044.4 855.2L1045.5 854.1L1046.7 856.3L1047.9 858L1049.1 859.4L1050.3 862.7L1051.5 860.8L1052.7 864.9L1053.8 867.7L1055 867.4L1056.2 868.9L1057.4 872.6L1058.5 872.5L1059.7 872.7L1060.9 877.9L1062 879.2L1063.2 878.2L1064.3 882.3L1065.5 883.2L1066.6 883.7L1067.7 883.3L1068.8 888L1069.9 890.9L1071 890.3L1072.1 891.9L1073.2 894L1074.2 895.7L1075.3 898.4L1076.3 901.5L1077.3 900.4L1078.3 903.6L1079.3 906.1L1080.3 906.4L1081.2 909.5L1082.2 910.2L1083.1 912.7L1084 913.2L1084.9 914.5L1085.8 918.7L1086.7 920.4L1087.6 920.6L1088.5 923.2L1089.4 922.6L1090.2 925.8L1091.1 927.6L1092 932.9L1092.9 931.5L1093.8 934.2L1094.7 937L1095.6 937.2L1096.5 939L1097.4 941L1098.3 943.4L1099.3 944.7L1100.2 945.6L1101.2 946.9L1102.1 948.5L1103 951L1104 952.6L1104.9 953.3L1105.9 957.4L1106.8 958.7L1107.8 960.2L1108.7 963.3L1109.7 964.9L1110.6 966.3L1111.5 967.5L1112.5 969.3L1113.4 971.3L1114.4 975.6L1115.3 974.1L1116.2 976.7L1117.2 978.1L1118.1 980.1L1119 982.9L1120 983.8L1120.9 985.6L1121.8 986.2L1122.7 988L1123.6 990.9L1124.6 992.7L1125.5 995.4L1126.4 994.4L1127.3 998.5L1128.2 1000.4L1129.1 1000.2L1130 1003.2L1130.9 1007.8L1131.8 1006.4L1132.7 1006.7L1133.6 1010.5L1134.5 1010.3L1135.4 1013.9L1136.3 1015.9L1137.2 1018L1138.1 1020.5L1139 1021.7L1139.9 1023.3L1140.8 1024.7L1141.7 1025.6L1142.5 1029.4L1143.4 1030L1144.3 1031L1145.2 1035.8L1146.1 1035.5L1147 1036.1L1147.9 1040.3L1148.7 1040.9L1149.6 1042.4L1150.5 1046.5L1151.4 1047.8L1152.3 1048.8L1153.2 1050.8L1154.1 1051.4L1155 1053.2L1155.9 1057L1156.8 1058.5L1157.7 1060.7L1158.6 1061L1159.5 1064.2L1160.3 1065.1L1161.2 1067.8L1162.1 1067.6L1162.9 1070.4L1163.8 1070.7L1164.6 1073.6L1165.5 1073.6L1166.3 1078.5L1167.1 1078.6L1167.9 1079.7L1168.8 1082.8L1169.6 1085.1L1170.3 1087.6L1171.1 1086.1L1171.9 1092.2L1172.7 1091.1L1173.4 1093.9L1174.1 1094.6L1174.9 1100.9L1175.6 1099.4L1176.3 1100.3L1177 1102.3L1177.8 1103.9L1178.5 1108L1179.2 1109.9L1179.8 1109.9L1180.5 1110.4L1181.2 1114.5L1181.9 1116.1L1182.6 1119.4L1183.3 1119.8L1183.9 1122.2L1184.6 1124.2L1185.3 1125.4L1186 1129.1L1186.6 1130.8L1187.3 1132L1188 1133.5L1188.7 1136.4L1189.3 1137.3L1190 1139.7L1190.7 1142.9L1191.4 1143.1L1192 1143.9L1192.7 1146.5L1193.4 1148.7L1194.1 1148.7L1194.8 1151" fill="none" stroke="#000" stroke-width="4.0" stroke-linecap="round" stroke-linejoin="round"/>
<line x1="886" y1="703.1" x2="1258.2" y2="899.3" stroke="#ff0000" stroke-width="2.6" />
<line x1="899" y1="666" x2="1258.2" y2="1112.5" stroke="#000" stroke-width="2.6" />
<rect x="809.4" y="663.5" width="496.6" height="496.9" fill="none" stroke="#4a4a4a" stroke-width="2.4"/>
<line x1="819.1" y1="1160.4" x2="819.1" y2="1145.9" stroke="#4a4a4a" stroke-width="2.2" />
<line x1="819.1" y1="663.5" x2="819.1" y2="678" stroke="#4a4a4a" stroke-width="2.2" />
<line x1="964.4" y1="1160.4" x2="964.4" y2="1145.9" stroke="#4a4a4a" stroke-width="2.2" />
<line x1="964.4" y1="663.5" x2="964.4" y2="678" stroke="#4a4a4a" stroke-width="2.2" />
<line x1="1111.6" y1="1160.4" x2="1111.6" y2="1145.9" stroke="#4a4a4a" stroke-width="2.2" />
<line x1="1111.6" y1="663.5" x2="1111.6" y2="678" stroke="#4a4a4a" stroke-width="2.2" />
<line x1="1258.2" y1="1160.4" x2="1258.2" y2="1145.9" stroke="#4a4a4a" stroke-width="2.2" />
<line x1="1258.2" y1="663.5" x2="1258.2" y2="678" stroke="#4a4a4a" stroke-width="2.2" />
<line x1="892" y1="1160.4" x2="892" y2="1153.4" stroke="#4a4a4a" stroke-width="2.2" />
<line x1="892" y1="663.5" x2="892" y2="670.5" stroke="#4a4a4a" stroke-width="2.2" />
<line x1="1038.2" y1="1160.4" x2="1038.2" y2="1153.4" stroke="#4a4a4a" stroke-width="2.2" />
<line x1="1038.2" y1="663.5" x2="1038.2" y2="670.5" stroke="#4a4a4a" stroke-width="2.2" />
<line x1="1184.6" y1="1160.4" x2="1184.6" y2="1153.4" stroke="#4a4a4a" stroke-width="2.2" />
<line x1="1184.6" y1="663.5" x2="1184.6" y2="670.5" stroke="#4a4a4a" stroke-width="2.2" />
<line x1="809.4" y1="700.1" x2="823.9" y2="700.1" stroke="#4a4a4a" stroke-width="2.2" />
<line x1="1306" y1="700.1" x2="1291.5" y2="700.1" stroke="#4a4a4a" stroke-width="2.2" />
<line x1="809.4" y1="760.7" x2="823.9" y2="760.7" stroke="#4a4a4a" stroke-width="2.2" />
<line x1="1306" y1="760.7" x2="1291.5" y2="760.7" stroke="#4a4a4a" stroke-width="2.2" />
<line x1="809.4" y1="821.2" x2="823.9" y2="821.2" stroke="#4a4a4a" stroke-width="2.2" />
<line x1="1306" y1="821.2" x2="1291.5" y2="821.2" stroke="#4a4a4a" stroke-width="2.2" />
<line x1="809.4" y1="881.6" x2="823.9" y2="881.6" stroke="#4a4a4a" stroke-width="2.2" />
<line x1="1306" y1="881.6" x2="1291.5" y2="881.6" stroke="#4a4a4a" stroke-width="2.2" />
<line x1="809.4" y1="942" x2="823.9" y2="942" stroke="#4a4a4a" stroke-width="2.2" />
<line x1="1306" y1="942" x2="1291.5" y2="942" stroke="#4a4a4a" stroke-width="2.2" />
<line x1="809.4" y1="1002.7" x2="823.9" y2="1002.7" stroke="#4a4a4a" stroke-width="2.2" />
<line x1="1306" y1="1002.7" x2="1291.5" y2="1002.7" stroke="#4a4a4a" stroke-width="2.2" />
<line x1="809.4" y1="1063.2" x2="823.9" y2="1063.2" stroke="#4a4a4a" stroke-width="2.2" />
<line x1="1306" y1="1063.2" x2="1291.5" y2="1063.2" stroke="#4a4a4a" stroke-width="2.2" />
<line x1="809.4" y1="1124" x2="823.9" y2="1124" stroke="#4a4a4a" stroke-width="2.2" />
<line x1="1306" y1="1124" x2="1291.5" y2="1124" stroke="#4a4a4a" stroke-width="2.2" />
<text x="819.1" y="1190" font-size="23" fill="#1a1a1a" text-anchor="middle" textLength="45" lengthAdjust="spacingAndGlyphs" style="stroke:#1a1a1a;stroke-width:0.4">-2.0</text>
<text x="964.4" y="1190" font-size="23" fill="#1a1a1a" text-anchor="middle" textLength="45" lengthAdjust="spacingAndGlyphs" style="stroke:#1a1a1a;stroke-width:0.4">-1.0</text>
<text x="1111.6" y="1190" font-size="23" fill="#1a1a1a" text-anchor="middle" textLength="34" lengthAdjust="spacingAndGlyphs" style="stroke:#1a1a1a;stroke-width:0.4">0.0</text>
<text x="1258.2" y="1190" font-size="23" fill="#1a1a1a" text-anchor="middle" textLength="34" lengthAdjust="spacingAndGlyphs" style="stroke:#1a1a1a;stroke-width:0.4">1.0</text>
<text x="801.5" y="708.8" font-size="23" fill="#1a1a1a" text-anchor="end" textLength="47" lengthAdjust="spacingAndGlyphs" style="stroke:#1a1a1a;stroke-width:0.4">1.00</text>
<text x="801.5" y="769.4" font-size="23" fill="#1a1a1a" text-anchor="end" textLength="47" lengthAdjust="spacingAndGlyphs" style="stroke:#1a1a1a;stroke-width:0.4">0.98</text>
<text x="801.5" y="829.9" font-size="23" fill="#1a1a1a" text-anchor="end" textLength="47" lengthAdjust="spacingAndGlyphs" style="stroke:#1a1a1a;stroke-width:0.4">0.96</text>
<text x="801.5" y="890.3" font-size="23" fill="#1a1a1a" text-anchor="end" textLength="47" lengthAdjust="spacingAndGlyphs" style="stroke:#1a1a1a;stroke-width:0.4">0.94</text>
<text x="801.5" y="950.7" font-size="23" fill="#1a1a1a" text-anchor="end" textLength="47" lengthAdjust="spacingAndGlyphs" style="stroke:#1a1a1a;stroke-width:0.4">0.92</text>
<text x="801.5" y="1011.4" font-size="23" fill="#1a1a1a" text-anchor="end" textLength="47" lengthAdjust="spacingAndGlyphs" style="stroke:#1a1a1a;stroke-width:0.4">0.90</text>
<text x="801.5" y="1071.9" font-size="23" fill="#1a1a1a" text-anchor="end" textLength="47" lengthAdjust="spacingAndGlyphs" style="stroke:#1a1a1a;stroke-width:0.4">0.88</text>
<text x="801.5" y="1132.7" font-size="23" fill="#1a1a1a" text-anchor="end" textLength="47" lengthAdjust="spacingAndGlyphs" style="stroke:#1a1a1a;stroke-width:0.4">0.86</text>
<text x="1031.3" y="748.7" font-size="26" fill="#ff0000" textLength="206.2" lengthAdjust="spacingAndGlyphs" style="stroke:#ff0000;stroke-width:0.3">29.1 mV/decade</text>
<text x="840.8" y="931.7" font-size="26.5" fill="#000" textLength="207.5" lengthAdjust="spacingAndGlyphs" style="stroke:#000;stroke-width:0.45">61.8 mV/decade</text>
<circle cx="865.8" cy="999.1" r="8.2" fill="#ff0000"/>
<circle cx="865.8" cy="1053.2" r="8.2" fill="#000"/>
<text x="905.7" y="1006" font-size="21" fill="#1a1a1a" textLength="173.1" lengthAdjust="spacingAndGlyphs" style="stroke:#1a1a1a;stroke-width:0.4">FeAzPc-4N-DMSO</text>
<text x="901.8" y="1034.5" font-size="21" fill="#1a1a1a" textLength="109.1" lengthAdjust="spacingAndGlyphs" style="stroke:#1a1a1a;stroke-width:0.4">/oxMWCNT</text>
<text x="905.7" y="1059.5" font-size="21" fill="#1a1a1a" textLength="43.3" lengthAdjust="spacingAndGlyphs" style="stroke:#1a1a1a;stroke-width:0.4">Pt/C</text>
<text x="992.5" y="1216" font-size="20" fill="#1a1a1a" textLength="81.5" lengthAdjust="spacingAndGlyphs" style="stroke:#1a1a1a;stroke-width:0.4">log ( <tspan font-style="italic">J</tspan><tspan dy="5" font-size="14" font-style="italic">k</tspan><tspan dy="-5"> )</tspan></text>
<text x="725.2" y="988.5" font-size="23.5" fill="#1a1a1a" textLength="125" lengthAdjust="spacingAndGlyphs" transform="rotate(-90 725.2 988.5)" style="stroke:#1a1a1a;stroke-width:0.4">Potential (V)</text>
<text x="-0.3" y="1307" font-size="37" fill="#000" textLength="49.4" lengthAdjust="spacingAndGlyphs" style="stroke:#000;stroke-width:1.3">(e)</text>
<path d="M85.7 1345L86.1 1346.6L86.5 1348.1L86.9 1349.1L87.2 1351.2L87.6 1352L88 1353.8L88.4 1355.6L88.9 1356.2L89.4 1357.8L90 1359.3L90.7 1360.5L91.4 1361.9L92.2 1363.4L93.1 1364.3L94 1366.4L94.9 1366.9L95.8 1368.9L96.7 1370.1L97.7 1370.9L98.7 1371L99.8 1372.3L100.8 1373.8L101.9 1374.4L103 1376.5L104 1376.4L105.1 1378.3L106.2 1379L107.3 1380.7L108.3 1380.8L109.3 1382.9L110.3 1383.7L111.4 1384.4L112.5 1386L113.6 1387.2L114.8 1387.2L116.1 1388.2L117.4 1388.4L118.6 1389.7L119.9 1390.5L121.2 1391.7L122.5 1392.5L123.8 1393L125.1 1393.6L126.4 1395.1L127.7 1395.5L129 1396.8L130.3 1397.3L131.6 1397.3L133 1398L134.3 1399.3L135.6 1399.5L136.9 1400.8L138.1 1401.7L139.3 1402.7L140.3 1403.7L141.3 1404.4L142.2 1405.4L143.1 1406.3L144 1408.3L144.8 1410.4L145.6 1410.1L146.4 1412.7L147.2 1412.7L148 1414.3L148.8 1415.8L149.6 1417.9L150.4 1418.2L151.2 1420.2L152 1421.6L152.8 1422.9L153.6 1423.7L154.4 1425.2L155.2 1426.5L156 1427.9L156.8 1428.8L157.7 1429.9L158.5 1430.1L159.4 1432L160.3 1433.7L161.1 1435.5L162 1437.2L162.9 1437.3L163.8 1438.5L164.7 1439.3L165.6 1441.6L166.4 1441.7L167.4 1443.1L168.3 1444.5L169.2 1445.5L170.1 1447.8L171 1448.5L172 1449.2L172.9 1451.1L173.9 1451.5L174.8 1453.4L175.8 1454.4L176.7 1454.8L177.7 1456.1L178.7 1457.5L179.7 1458L180.7 1460L181.8 1460.6L182.8 1461.7L183.9 1462.6L185 1464L186.1 1465.3L187.2 1466.4L188.2 1467.5L189.3 1468.8L190.4 1469.5L191.4 1470.1L192.5 1471.6L193.6 1472.1L194.6 1473.6L195.7 1474.6L196.8 1475.6L197.8 1476.8L198.9 1477.5L200 1478.2L201 1479.9L202.1 1481.7L203.2 1481.6L204.2 1483.2L205.3 1484.6L206.3 1485.6L207.3 1486.5L208.4 1487.5L209.4 1489.6L210.5 1489.9L211.7 1491.1L212.9 1492L214.1 1492.1L215.3 1493.4L216.6 1494.7L217.9 1495L219.2 1495.5L220.6 1496L221.9 1497.1L223.3 1497.6L224.7 1498.7L226.2 1497.8L227.7 1498.5L229.1 1497.6L230.3 1497.3L231.4 1496.2L232.5 1495.3L233.8 1495.3L234.5 1496.2L235.2 1497.1L235.9 1499L236.7 1500.1L237.4 1501.7L238.2 1502.5L239 1504.3L239.8 1505.1L240.7 1506.8L241.7 1507.6L242.8 1508.6L244 1509.5L245.3 1510L246.6 1510.8L248 1511.9L249.4 1512.5L250.8 1512.8L252.1 1513.4L253.5 1514.2L254.9 1514.1L256.3 1514.8L257.7 1516.3L259.1 1517.4L260.4 1517.4L261.8 1517.7L263.2 1518.8L264.6 1518.7L265.9 1519.7L267.3 1520.8L268.7 1520.8L270.1 1521.6L271.5 1522.1L272.9 1522L274.3 1523.6L275.7 1523.5L277.1 1524.3L278.5 1524.9L279.9 1524.8L281.4 1525.9L282.8 1526.2L284.2 1526.4L285.6 1527.3L287.1 1527.1L288.5 1527.6L289.9 1528.5L291.4 1528.3L292.8 1530.7L294.2 1530.4L295.6 1530.9L297.1 1530.7L298.5 1531.6L299.9 1532.2L301.3 1531.9L302.8 1533.2L304.2 1533.3L305.6 1533.9L307.1 1534.2L308.5 1534.8L309.9 1535.7L311.4 1536.1L312.8 1536.5L314.2 1536.4L315.7 1537.2L317.1 1537.4L318.5 1538.3L319.9 1538.7L321.3 1539.3L322.6 1539.6L324 1539.8L325.3 1541.7L326.5 1542.1L327.8 1543.1L329 1544.1L330.2 1544.4L331.3 1546.3L332.5 1547.3L333.7 1547.4L334.9 1549L336.2 1549.3L337.5 1551.3L338.8 1551.1L340.2 1551.4L341.6 1551.4L343.1 1551.9L344.5 1553.4L346 1553.2L347.4 1553.6L348.9 1554.4L350.3 1555L351.8 1555.3L353.2 1555.2L354.7 1555.9L356.1 1556.3L357.6 1556.6L359.1 1556.3L360.6 1557.5L362.1 1557.2L363.6 1557.6L365.1 1557.9L366.6 1557.8L368.1 1556.6L369.6 1557.4L371.1 1556.4L372.6 1557.2L374.1 1556.3L375.6 1557.2L377.1 1555.9L378.6 1556.3L380.1 1556.1L381.6 1555.2L383.1 1555.6L384.6 1555.8L386.1 1555.7L387.6 1556L389.1 1556.6L390.6 1556.4L392.1 1556.9L393.6 1556.4L395 1557.1L396.5 1556.9L398 1556.9L399.5 1557L400.9 1556.4L402.2 1555.8L403.3 1554.5L404.2 1553.4L404.8 1551.6L405.2 1550.8L405.7 1548.8L406.9 1549.9L407.7 1550.9L408.6 1552L409.7 1552.7L410.9 1553.8L412.2 1555.1L413.5 1554.7L414.9 1556L416.3 1556.2L417.7 1557.9L419.2 1557.2L420.7 1557.6L422.1 1558L423.6 1558.6L425.1 1557.9L426.6 1559L428.1 1558.7L429.6 1559L431.1 1560L432.5 1559.9L434 1560.1L435.5 1560.4L437 1560.7L438.5 1560.3L440 1561.4L441.5 1561.6L443 1561.4L444.5 1561.9L446 1561.6L447.4 1562.6L448.9 1562.2L450.4 1563.2L451.9 1562.7L453.4 1563.7L454.9 1563.5L456.4 1563.5L457.9 1563.8L459.4 1563.6L460.9 1563.9L462.4 1564.7L463.8 1564.7L465.3 1564.2L466.8 1565.4L468.3 1565.1L469.8 1565.3L471.3 1566.2L472.8 1565.4L474.3 1566.1L475.8 1566.6L477.3 1566.2L478.8 1566.8L480.3 1566.3L481.8 1567L483.3 1567.1L484.8 1567.6L486.3 1567.6L487.7 1567.4L489.2 1568.1L490.7 1567.9L492.2 1568.4L493.7 1568.9L495.2 1569.1L496.7 1568.8L498.2 1569.2L499.7 1569.7L501.2 1570.5L502.7 1570L504.2 1569.6L505.7 1569.4L507.2 1571.1L508.7 1571.4L510.2 1570.9L511.7 1571.3L513.2 1571.9L514.6 1571.6L516.1 1572.7L517.6 1571.7L519.1 1572.5L520.6 1572.2L522.1 1572.6L523.6 1572.4L525.1 1572.6L526.6 1573.3L528.1 1573.7L529.6 1574.2L531.1 1573L532.6 1574.3L534.1 1573.7L535.5 1574.6L537 1575.1L538.5 1574.8L540 1574.2L541.5 1574.9L543 1575.3L544.5 1575.4L546 1575.9L547.5 1576.2L549 1575.9L550.4 1576.2L551.9 1577.4L553.4 1577.7L554.9 1576.5L556.4 1577.7L557.9 1578.3L559.4 1578L560.9 1578.1L562.4 1579L563.8 1578.4L565.3 1579.3L566.8 1579.3L568.3 1580.4L569.8 1580" fill="none" stroke="#000" stroke-width="3.1" stroke-linecap="round" stroke-linejoin="round"/>
<line x1="416.3" y1="1556.6" x2="416.3" y2="1551.6" stroke="#000" stroke-width="1.6" />
<line x1="433.7" y1="1559.8" x2="433.7" y2="1556.8" stroke="#000" stroke-width="1.6" />
<line x1="446.6" y1="1562" x2="446.6" y2="1559" stroke="#000" stroke-width="1.6" />
<line x1="458.7" y1="1563.8" x2="458.7" y2="1561.3" stroke="#000" stroke-width="1.6" />
<line x1="467.7" y1="1565.1" x2="467.7" y2="1561.1" stroke="#000" stroke-width="1.6" />
<line x1="473.8" y1="1566" x2="473.8" y2="1561" stroke="#000" stroke-width="1.6" />
<line x1="478.3" y1="1566.6" x2="478.3" y2="1563.6" stroke="#000" stroke-width="1.6" />
<line x1="486.7" y1="1567.7" x2="486.7" y2="1561.7" stroke="#000" stroke-width="1.6" />
<line x1="509.4" y1="1570.7" x2="509.4" y2="1561.7" stroke="#000" stroke-width="1.6" />
<line x1="525.2" y1="1572.9" x2="525.2" y2="1569.9" stroke="#000" stroke-width="1.6" />
<line x1="536.6" y1="1574.5" x2="536.6" y2="1571.5" stroke="#000" stroke-width="1.6" />
<line x1="545" y1="1575.8" x2="545" y2="1570.8" stroke="#000" stroke-width="1.6" />
<line x1="555.5" y1="1577.4" x2="555.5" y2="1574.4" stroke="#000" stroke-width="1.6" />
<path d="M83.8 1345.5L85 1346.8L86.3 1346.7L87.5 1346.4L88.8 1346.6L90 1347.6L91.3 1346.9L92.6 1346L93.5 1318.5L95 1346.4L96.2 1346.1L97.5 1345.3L98.8 1344.9L100 1344.9L101.2 1344.4L102.5 1344.9L103.8 1344.7L105 1345L106.2 1346.2L107.5 1346L108.8 1346.3L110 1346.5L111.3 1346.4L112.6 1346.6L113.8 1346.3L115.1 1346.2L116.4 1346.2L117.7 1346.3L118.9 1346.8L120.2 1347.3L121.5 1347L122.1 1311.6L123.3 1328.8L124.5 1346L125.5 1311.6L126.8 1310.7L128 1311.6L129 1344.5L130.2 1344.7L131.4 1345.1L132.7 1345.6L133.9 1346.5L135.1 1346.7L136.4 1346.2L137.6 1346.3L138.8 1346L140 1346.1L141.3 1346.1L142.5 1346.8L143.7 1346.9L144.9 1346.4L146.2 1346.7L147.4 1346.7L148.6 1348.1L149.9 1347.7L151.1 1347.5L152.3 1347.9L153.6 1348L154.8 1347.7L156 1347.6L157.2 1347.1L158.5 1347.2L159.7 1347.2L160.9 1347.3L162.2 1347.6L163.4 1347.9L164.6 1348.5L165.8 1348.6L167.1 1349.2L168.3 1348.8L169.6 1348.9L170.9 1349.5L172.2 1348.7L173.5 1349.4L174.8 1349.7L176.1 1349.3L177.4 1349.3L178.7 1348.4L180 1349.4L181.3 1350.8L182.7 1353.4L184 1355.9L185.3 1354.4L186.7 1353.2L188 1352.4L189.2 1352.3L190.5 1352.2L191.7 1352L192.9 1352L194.2 1352.2L195.4 1351.5L196.6 1351.6L197.8 1351.4L199.1 1350.5L200.3 1350.7L201.5 1350.3L202.8 1351.1L204 1350.9L205.2 1350.3L206.5 1350.9L207.7 1350.3L208.9 1349.8L210.2 1350.3L211.4 1350.3L212.7 1351.1L213.9 1351.5L215.1 1351.5L216.4 1351.7L217.6 1351.6L218.9 1351.8L220.1 1350.4L221.3 1351.7L222.6 1351.3L223.8 1351.4L225.1 1352.1L226.3 1351.7L227.5 1352.2L228.8 1351.5L230 1352.1L231.3 1351.7L232.5 1351.5L233.2 1342L234 1351.8L235.3 1352.6L236.6 1352L237.9 1351.8L239.2 1351.7L240.5 1352.2L241.8 1351L243.1 1350.8L244.4 1350.6L245.7 1351.3L247 1350.7L248.3 1351.2L249.5 1351.5L250.8 1351.8L252.1 1352.5L253.4 1351.7L254.6 1352.5L255.9 1351.9L257.2 1352.1L258.5 1352L259.7 1352L261 1352.5L261.7 1335.2L262.5 1351.4L263.7 1352.5L264.9 1352.3L266.1 1352.7L267.4 1352.2L268.6 1352.8L269.8 1353.6L271 1353L271.6 1319.5L272.4 1353.6L273.7 1353.6L275 1353.6L276.3 1353.7L277.7 1353.5L279 1354.1L280.3 1354.2L281.6 1353.7L283.2 1355.9L284.7 1357L286.3 1359L287.5 1361L288.8 1362.3L290 1363.7L291.4 1364.3L292.7 1365.2L294.1 1365.7L295.4 1365.9L296.8 1367.4L298.1 1368.7L299.7 1311.6L301 1350L302.5 1346.6L304 1344.8L305.2 1345L306.4 1344.9L307.7 1344.3L308.9 1343.9L310.1 1344.2L311.3 1343L312.5 1343.5L313.7 1344L315 1343.6L316.2 1343.6L317.4 1343.4L318.6 1343.3L319.8 1343.5L321 1343.6L322.3 1343.5L323.5 1344.2L324.7 1344L325.9 1343.7L327.1 1344.1L328.3 1343.8L329.6 1344.1L330.8 1344.1L332 1345.1L333.2 1345.5L334.4 1345.3L335.7 1345.2L336.9 1345.4L338.1 1345.4L339.3 1345.5L340.5 1346.7L341.7 1347.6L343 1348L344.2 1348.7L345.4 1349L346.6 1348.7L347.8 1348.1L349 1347.2L350.3 1346.8L351.5 1346.4L352.7 1347.1L353.9 1347.9L355.1 1347L356.3 1347.7L357.6 1347.1L358.8 1348L360 1348L361.2 1347.3L362.4 1347.7L363.7 1347.2L364.9 1348L366.1 1347.7L367.3 1347.7L368.5 1348.1L369.7 1348.1L371 1349.2L372.2 1348.7L373.4 1348.2L374.6 1348.5L375.8 1348.3L377 1349.1L378.3 1347.5L379.5 1348L380.7 1348.5L381.9 1348.7L383.1 1348.5L384.3 1348L385.6 1348.7L386.8 1348.4L388 1348.5L389.3 1348.7L390.7 1349.3L392 1350.6L393.4 1352.2L394.8 1353.6L396.2 1354L397.6 1354.8L399 1356.3L400.3 1356.9L401.5 1356.8L402.8 1357.4L404.1 1358.4L405.4 1358.9L406.6 1357.6L407.9 1357.8L409.2 1358.9L410.5 1358.2L411.7 1359.5L413 1359.6L414.5 1360.1L416 1359.9L417.5 1360L418.7 1345.8L420 1350.8L421.4 1351.5L422.9 1351.7L424.3 1352.3L425.5 1351.9L426.8 1352.6L428 1351.4L429.3 1352.2L430.5 1352.6L431.8 1352L433 1352.9L434.3 1352.8L435.5 1353.3L436.7 1353L438 1352.9L439.2 1353.6L440.5 1353L441.7 1353.4L443 1352.5L444.2 1352.7L445.5 1352.7L446.7 1353.1L447.9 1352.8L449.2 1353.3L450.4 1353.5L451.7 1353.8L452.9 1354.5L454.2 1354.5L455.4 1354L456.7 1354.4L457.9 1353.9L459.1 1354.5L460.3 1354.2L461.5 1353.9L462.7 1354.8L463.9 1354.5L465.1 1355L466.3 1354.5L467.5 1354.4L468.7 1355.2L469.9 1354.7L471.1 1355.1L472.3 1355.3L473.5 1355.9L474.7 1355.9L475.9 1356.2L477.1 1355.2L478.3 1355.8L479.5 1355.1L480.7 1355.3L481.9 1354.7L483.1 1355.8L484.3 1355.3L485.5 1355.3L486.7 1355.5L487.9 1355.6L489.1 1356L490.3 1355.7L491.5 1356.1L492.7 1355.8L493.9 1355.6L495.1 1355.7L496.3 1355.7L497.5 1355.4L498.7 1355.3L499.9 1355.6L501.1 1355.6L502.3 1355.7L503.5 1355.4L504.7 1355.4L505.9 1356.1L507.1 1355.7L508.3 1356.1L509.5 1356.4L510.7 1356.2L511.9 1355.9L513.1 1355.8L514.3 1355.9L515.5 1355.6L516.7 1357.2L518.1 1358.5L519.5 1359.8L520.9 1361.1L522.2 1362.4L523.6 1363.7L525 1364.6L526.2 1364.8L527.4 1364.8L528.6 1365.4L529.8 1366.5L531 1366.9L532.2 1367.9L533.5 1367.9L534.7 1369.2L535.9 1369L537.1 1368.7L538.3 1368.9L539.5 1369.2L540.7 1369.1L541.9 1369.9L543.2 1370.9L544.5 1370.8L545.8 1371.8L547.1 1371.5L548.5 1372.1L549.8 1372.5L551.1 1372.3L552.4 1372.4L553.7 1371.3L555 1371.2L556.2 1370.5L557.5 1370.4L558.7 1369.4L559.9 1369.3L561.2 1370L562.4 1371L563.6 1372.1L564.9 1372.3L566.1 1372.2L567.3 1372L568.6 1372.3L569.8 1371.8" fill="none" stroke="#ff0000" stroke-width="2.9" stroke-linecap="round" stroke-linejoin="miter"/>
<rect x="79.5" y="1308.5" width="495.5" height="495" fill="none" stroke="#4a4a4a" stroke-width="2.4"/>
<line x1="83.8" y1="1803.5" x2="83.8" y2="1789" stroke="#4a4a4a" stroke-width="2.2" />
<line x1="83.8" y1="1308.5" x2="83.8" y2="1323" stroke="#4a4a4a" stroke-width="2.2" />
<line x1="181.1" y1="1803.5" x2="181.1" y2="1789" stroke="#4a4a4a" stroke-width="2.2" />
<line x1="181.1" y1="1308.5" x2="181.1" y2="1323" stroke="#4a4a4a" stroke-width="2.2" />
<line x1="278.2" y1="1803.5" x2="278.2" y2="1789" stroke="#4a4a4a" stroke-width="2.2" />
<line x1="278.2" y1="1308.5" x2="278.2" y2="1323" stroke="#4a4a4a" stroke-width="2.2" />
<line x1="375.5" y1="1803.5" x2="375.5" y2="1789" stroke="#4a4a4a" stroke-width="2.2" />
<line x1="375.5" y1="1308.5" x2="375.5" y2="1323" stroke="#4a4a4a" stroke-width="2.2" />
<line x1="473.2" y1="1803.5" x2="473.2" y2="1789" stroke="#4a4a4a" stroke-width="2.2" />
<line x1="473.2" y1="1308.5" x2="473.2" y2="1323" stroke="#4a4a4a" stroke-width="2.2" />
<line x1="570.5" y1="1803.5" x2="570.5" y2="1789" stroke="#4a4a4a" stroke-width="2.2" />
<line x1="570.5" y1="1308.5" x2="570.5" y2="1323" stroke="#4a4a4a" stroke-width="2.2" />
<line x1="79.5" y1="1345.3" x2="94" y2="1345.3" stroke="#4a4a4a" stroke-width="2.2" />
<line x1="575" y1="1345.3" x2="560.5" y2="1345.3" stroke="#4a4a4a" stroke-width="2.2" />
<line x1="79.5" y1="1409.7" x2="94" y2="1409.7" stroke="#4a4a4a" stroke-width="2.2" />
<line x1="575" y1="1409.7" x2="560.5" y2="1409.7" stroke="#4a4a4a" stroke-width="2.2" />
<line x1="79.5" y1="1474.8" x2="94" y2="1474.8" stroke="#4a4a4a" stroke-width="2.2" />
<line x1="575" y1="1474.8" x2="560.5" y2="1474.8" stroke="#4a4a4a" stroke-width="2.2" />
<line x1="79.5" y1="1539.5" x2="94" y2="1539.5" stroke="#4a4a4a" stroke-width="2.2" />
<line x1="575" y1="1539.5" x2="560.5" y2="1539.5" stroke="#4a4a4a" stroke-width="2.2" />
<line x1="79.5" y1="1604.2" x2="94" y2="1604.2" stroke="#4a4a4a" stroke-width="2.2" />
<line x1="575" y1="1604.2" x2="560.5" y2="1604.2" stroke="#4a4a4a" stroke-width="2.2" />
<line x1="79.5" y1="1669.3" x2="94" y2="1669.3" stroke="#4a4a4a" stroke-width="2.2" />
<line x1="575" y1="1669.3" x2="560.5" y2="1669.3" stroke="#4a4a4a" stroke-width="2.2" />
<line x1="79.5" y1="1734.4" x2="94" y2="1734.4" stroke="#4a4a4a" stroke-width="2.2" />
<line x1="575" y1="1734.4" x2="560.5" y2="1734.4" stroke="#4a4a4a" stroke-width="2.2" />
<line x1="79.5" y1="1799.4" x2="94" y2="1799.4" stroke="#4a4a4a" stroke-width="2.2" />
<line x1="575" y1="1799.4" x2="560.5" y2="1799.4" stroke="#4a4a4a" stroke-width="2.2" />
<text x="83.8" y="1832.8" font-size="23" fill="#1a1a1a" text-anchor="middle" textLength="12.5" lengthAdjust="spacingAndGlyphs" style="stroke:#1a1a1a;stroke-width:0.4">0</text>
<text x="181.1" y="1832.8" font-size="23" fill="#1a1a1a" text-anchor="middle" textLength="65" lengthAdjust="spacingAndGlyphs" style="stroke:#1a1a1a;stroke-width:0.4">10000</text>
<text x="278.2" y="1832.8" font-size="23" fill="#1a1a1a" text-anchor="middle" textLength="65" lengthAdjust="spacingAndGlyphs" style="stroke:#1a1a1a;stroke-width:0.4">20000</text>
<text x="375.5" y="1832.8" font-size="23" fill="#1a1a1a" text-anchor="middle" textLength="65" lengthAdjust="spacingAndGlyphs" style="stroke:#1a1a1a;stroke-width:0.4">30000</text>
<text x="473.2" y="1832.8" font-size="23" fill="#1a1a1a" text-anchor="middle" textLength="65" lengthAdjust="spacingAndGlyphs" style="stroke:#1a1a1a;stroke-width:0.4">40000</text>
<text x="570.5" y="1832.8" font-size="23" fill="#1a1a1a" text-anchor="middle" textLength="65" lengthAdjust="spacingAndGlyphs" style="stroke:#1a1a1a;stroke-width:0.4">50000</text>
<text x="71" y="1354" font-size="23" fill="#1a1a1a" text-anchor="end" textLength="37.8" lengthAdjust="spacingAndGlyphs" style="stroke:#1a1a1a;stroke-width:0.4">100</text>
<text x="71" y="1418.4" font-size="23" fill="#1a1a1a" text-anchor="end" textLength="26" lengthAdjust="spacingAndGlyphs" style="stroke:#1a1a1a;stroke-width:0.4">90</text>
<text x="71" y="1483.5" font-size="23" fill="#1a1a1a" text-anchor="end" textLength="26" lengthAdjust="spacingAndGlyphs" style="stroke:#1a1a1a;stroke-width:0.4">80</text>
<text x="71" y="1548.2" font-size="23" fill="#1a1a1a" text-anchor="end" textLength="26" lengthAdjust="spacingAndGlyphs" style="stroke:#1a1a1a;stroke-width:0.4">70</text>
<text x="71" y="1612.9" font-size="23" fill="#1a1a1a" text-anchor="end" textLength="26" lengthAdjust="spacingAndGlyphs" style="stroke:#1a1a1a;stroke-width:0.4">60</text>
<text x="71" y="1678" font-size="23" fill="#1a1a1a" text-anchor="end" textLength="26" lengthAdjust="spacingAndGlyphs" style="stroke:#1a1a1a;stroke-width:0.4">50</text>
<text x="71" y="1743.1" font-size="23" fill="#1a1a1a" text-anchor="end" textLength="26" lengthAdjust="spacingAndGlyphs" style="stroke:#1a1a1a;stroke-width:0.4">40</text>
<text x="71" y="1808.1" font-size="23" fill="#1a1a1a" text-anchor="end" textLength="26" lengthAdjust="spacingAndGlyphs" style="stroke:#1a1a1a;stroke-width:0.4">30</text>
<line x1="152.5" y1="1681.5" x2="200" y2="1681.5" stroke="#ff0000" stroke-width="2.6" />
<line x1="152.5" y1="1706.5" x2="200" y2="1706.5" stroke="#000" stroke-width="2.6" />
<text x="226.5" y="1689.5" font-size="21.5" fill="#1a1a1a" textLength="286" lengthAdjust="spacingAndGlyphs" style="stroke:#1a1a1a;stroke-width:0.4">FeAzPc-4N-DMSO/oxMWCNT</text>
<text x="226.5" y="1715.5" font-size="21.5" fill="#1a1a1a" textLength="44" lengthAdjust="spacingAndGlyphs" style="stroke:#1a1a1a;stroke-width:0.4">Pt/C</text>
<text x="303.5" y="1863.5" font-size="22" fill="#1a1a1a" text-anchor="middle" textLength="80" lengthAdjust="spacingAndGlyphs" style="stroke:#1a1a1a;stroke-width:0.4">Time (s)</text>
<text x="21" y="1595" font-size="22.5" fill="#1a1a1a" textLength="88.5" lengthAdjust="spacingAndGlyphs" transform="rotate(-90 21 1595)" style="stroke:#1a1a1a;stroke-width:0.4"><tspan font-style="italic">J</tspan>/<tspan font-style="italic">J</tspan><tspan dy="5" font-size="15" font-style="italic">0</tspan><tspan dy="-5"> (%)</tspan></text>
<text x="706.2" y="1307" font-size="37" fill="#000" textLength="43" lengthAdjust="spacingAndGlyphs" style="stroke:#000;stroke-width:1.3">(f)</text>
<path d="M804.5 1749.2L805.5 1749.5L806.5 1750.4L807.5 1748.3L808.5 1749.4L809.5 1749.3L810.5 1749L811.5 1748.4L812.5 1749L813.5 1751.3L814.5 1748.8L815.5 1748.7L816.5 1748.1L817.5 1749.7L818.5 1748.7L819.5 1749L820.5 1748.1L821.5 1748.3L822.5 1748.5L823.5 1749L824.5 1749.7L825.5 1749.8L826.6 1750.5L827.6 1749.5L828.6 1750.6L829.6 1750.1L830.6 1749.6L831.6 1749.6L832.6 1748.3L833.6 1748.6L834.6 1748.2L835.6 1750.7L836.6 1750L837.6 1750.4L838.6 1750.7L839.6 1749.8L840.6 1750L841.5 1749.8L842.5 1750.5L843.5 1750.1L844.5 1750.7L845.5 1750.1L846.5 1750.4L847.5 1751L848.5 1751.2L849.5 1750.9L850.5 1750.1L851.5 1752.2L852.5 1750.5L853.5 1751.3L854.5 1751.3L855.5 1751.4L856.5 1752.4L857.5 1752.9L858.4 1752.1L859.4 1752L860.4 1752.6L861.4 1752.9L862.4 1753.7L863.4 1752.5L864.3 1752.9L865.3 1752.6L866.3 1753.9L867.3 1753.2L868.2 1754.9L869.2 1755.6L870.2 1755.2L871.1 1755.9L872.1 1754L873 1756.2L874 1756.5L874.9 1756L875.9 1754.5L876.8 1757.4L877.7 1758L878.6 1760.1L879.5 1758.8L880.4 1758.9L881.3 1758.6L882.2 1760L883.1 1761.4L884 1761.7L884.9 1761L885.8 1760.8L886.7 1762.8L887.5 1764.6L888.4 1762.4L889.3 1764.2L890.2 1764.9L891.1 1764.5L892 1764.7L892.9 1765.8L893.8 1766.3L894.7 1766.9L895.6 1766.7L896.5 1767L897.4 1768.3L898.3 1766.7L899.2 1769.4L900.2 1769.1L901.1 1768.9L902 1768.2L903 1769L904 1770.4L904.9 1769.6L905.9 1770.4L906.9 1769.2L907.9 1770.1L908.9 1772.1L909.9 1771.5L910.9 1773L911.9 1770.4L912.9 1770.8L913.9 1771.2L914.9 1771.1L915.9 1771.8L916.9 1770.5L917.8 1770.1L918.8 1771.4L919.8 1768.6L920.8 1768.8L921.8 1770.6L922.8 1771L923.8 1770.9L924.7 1770.4L925.7 1768.3L926.7 1769.2L927.7 1768.9L928.7 1768.9L929.6 1767.8L930.6 1768.3L931.6 1768.8L932.6 1768.7L933.5 1767.7L934.5 1767.5L935.5 1767.8L936.5 1767.3L937.5 1767.5L938.5 1765.9L939.5 1766.7L940.5 1766.2L941.5 1766.4L942.5 1766.4L943.5 1765.9L944.5 1766.1L945.5 1767.2L946.5 1768L947.5 1766.1L948.5 1767.2L949.5 1768L950.4 1768L951.4 1767.4L952.4 1766L953.4 1768.8L954.4 1767.4L955.3 1768.4L956.3 1767.9L957.3 1768.3L958.2 1769.1L959.2 1768.5L960.1 1770.6L961.1 1769.7L962 1771L963 1770.7L963.9 1771.3L964.9 1771L965.8 1771.7L966.8 1770.9L967.7 1773.2L968.7 1772.8L969.6 1773.5L970.6 1771.2L971.5 1772.1L972.5 1773.4L973.4 1774.7L974.4 1773.9L975.4 1773.8L976.3 1773.9L977.3 1774.4L978.3 1774.7L979.3 1776L980.3 1775.7L981.2 1774.5L982.2 1775.9L983.2 1776.8L984.2 1775.3L985.2 1774.8L986.3 1776.2L987.3 1775.4L988.3 1776.6L989.3 1775.3L990.3 1775.9L991.2 1775.7L992.2 1776.2L993.2 1775.4L994.2 1775.7L995.2 1775.9L996.2 1773.2L997.2 1775.6L998.2 1774L999.1 1774L1000.1 1774.6L1001.1 1773.8L1002 1773.1L1003 1771.9L1004 1772.5L1004.9 1772.5L1005.9 1771.3L1006.9 1773.1L1007.8 1772.5L1008.8 1771L1009.7 1770L1010.7 1769L1011.6 1770.1L1012.6 1768.8L1013.6 1770.4L1014.5 1767.8L1015.4 1769.4L1016.3 1768.2L1017.3 1768.4L1018.2 1767.2L1019.1 1767.1L1019.9 1766.1L1020.8 1767L1021.7 1765.4L1022.6 1766.3L1023.5 1764L1024.4 1765.3L1025.3 1763.4L1026.2 1763.2L1027.1 1762.7L1028 1761.9L1029 1761.3L1029.9 1762.1L1030.9 1760.6L1031.9 1761.8L1032.9 1762.1L1033.9 1760.7L1034.9 1761.9L1035.9 1761.1L1036.9 1762.1L1037.9 1762.7L1038.9 1761.8L1039.9 1762.3L1040.9 1763.9L1041.9 1761.8L1042.9 1762.8L1043.9 1761.3L1044.9 1762.9L1045.9 1762.1L1046.9 1762.3L1047.9 1764.3L1048.9 1763.5L1049.9 1762.5L1050.9 1762.6L1051.9 1762.9L1052.9 1763.7L1053.9 1762.6L1054.9 1763.1L1055.9 1761.8L1056.9 1763.4L1057.9 1763.1L1058.9 1762.3L1059.9 1762.1L1060.9 1761.8L1061.8 1762.3L1062.8 1760.9L1063.8 1761.2L1064.7 1761.7L1065.7 1760.5L1066.6 1761.5L1067.6 1760.1L1068.5 1760L1069.4 1760.3L1070.4 1760.6L1071.3 1760.2L1072.2 1757.7L1073.1 1758.5L1074 1757.7L1074.9 1757.5L1075.8 1756.6L1076.7 1756.3L1077.6 1756.6L1078.5 1755.7L1079.4 1754.9L1080.3 1754.6L1081.2 1754.2L1082 1752.8L1082.9 1754.4L1083.8 1752.1L1084.7 1752.7L1085.6 1751.2L1086.5 1749.8L1087.3 1751.5L1088.2 1750.8L1089.1 1750.5L1090 1749.3L1090.9 1749.1L1091.7 1747.3L1092.6 1749.2L1093.5 1746.4L1094.4 1746.6L1095.3 1747.4L1096.2 1746.1L1097.1 1746.8L1098 1745.1L1098.8 1745.6L1099.7 1746.3L1100.6 1743.7L1101.5 1743.6L1102.4 1741.9L1103.3 1741.8L1104.2 1742L1105.1 1740.9L1105.9 1741.5L1106.8 1740.3L1107.7 1740.5L1108.6 1739.5L1109.4 1740.1L1110.3 1738.5L1111.2 1737.5L1112 1739.5L1112.9 1736.7L1113.7 1737L1114.6 1735.9L1115.4 1735.2L1116.2 1735.1L1117 1734.3L1117.9 1732.9L1118.7 1732.1L1119.4 1732.6L1120.2 1731.3L1121 1731.5L1121.8 1730.7L1122.6 1730.3L1123.4 1729.5L1124.1 1728.6L1124.9 1726.6L1125.6 1727.5L1126.4 1727.1L1127.1 1725.8L1127.8 1725.1L1128.5 1724.8L1129.2 1724.2L1129.8 1722.7L1130.5 1722.2L1131.1 1721.2L1131.7 1719.9L1132.3 1720.3L1132.9 1719.2L1133.5 1718.4L1134.1 1717.2L1134.6 1717L1135.1 1715.8L1135.6 1714.7L1136.1 1713.9L1136.6 1712.6L1137 1712.7L1137.5 1711.3L1137.9 1710.3L1138.3 1710.1L1138.7 1709.2L1139.1 1707.5L1139.5 1706.6L1139.9 1705.5L1140.2 1705L1140.6 1704.2L1141 1702.9L1141.3 1702.2L1141.6 1701.2L1142 1699.9L1142.3 1699.1L1142.6 1698.2L1143 1697.3L1143.3 1696.1L1143.6 1695.5L1143.9 1694.5L1144.3 1693.5L1144.6 1692.3L1144.9 1691.7L1145.2 1690.7L1145.5 1689.8L1145.8 1689L1146.1 1687.7L1146.4 1687L1146.7 1685.8L1147 1684.9L1147.3 1683.9L1147.6 1683L1147.9 1682L1148.1 1680.9L1148.4 1680.5L1148.7 1679.2L1148.9 1678.2L1149.2 1677.2L1149.4 1676.3L1149.7 1675.1L1149.9 1674.2L1150.2 1673.5L1150.4 1672.4L1150.7 1671.5L1150.9 1670.1L1151.2 1669.7L1151.4 1668.4L1151.6 1667.4L1151.9 1666.5L1152.1 1665.6L1152.3 1664.6L1152.5 1663.7L1152.8 1662.4L1153 1661.6L1153.2 1660.6L1153.4 1659.5L1153.6 1658.7L1153.9 1657.6L1154.1 1656.6L1154.3 1655.8L1154.5 1655L1154.7 1653.9L1154.9 1652.8L1155.1 1652L1155.4 1650.9L1155.6 1649.9L1155.8 1648.8L1156 1647.8L1156.2 1647L1156.4 1646L1156.6 1644.8L1156.8 1644L1157 1643.3L1157.2 1642.1L1157.4 1641L1157.6 1640.1L1157.8 1639L1158 1638.1L1158.2 1637.3L1158.4 1636L1158.6 1635L1158.7 1634.3L1158.9 1633.4L1159.1 1632.2L1159.3 1631.4L1159.5 1630.1L1159.6 1629.1L1159.8 1628.4L1160 1627.2L1160.1 1626.3L1160.3 1625.3L1160.5 1624.2L1160.7 1623.5L1160.8 1622.2L1161 1621.2L1161.2 1620.1L1161.3 1619.3L1161.5 1618.4L1161.6 1617.3L1161.8 1616.5L1162 1615.6L1162.1 1614.4L1162.3 1613.7L1162.5 1612.6L1162.6 1611.7L1162.8 1610.5L1163 1609.4L1163.1 1608.7L1163.3 1607.5L1163.4 1606.5L1163.6 1605.5L1163.8 1604.5L1163.9 1603.6L1164.1 1602.7L1164.3 1601.5L1164.4 1600.6L1164.6 1599.5L1164.8 1598.4L1164.9 1597.8L1165.1 1596.4L1165.3 1595.7L1165.4 1594.5L1165.6 1593.9L1165.8 1592.7L1165.9 1591.6L1166.1 1590.5L1166.3 1589.7L1166.5 1588.5L1166.6 1587.7L1166.8 1586.7L1167 1585.8L1167.1 1585.1L1167.3 1583.7L1167.5 1583L1167.6 1581.7L1167.8 1580.8L1168 1580L1168.1 1578.9L1168.3 1577.9L1168.5 1576.7L1168.6 1575.8L1168.8 1574.9L1169 1573.9L1169.1 1573L1169.3 1571.8L1169.5 1570.8L1169.6 1570L1169.8 1568.9L1170 1568L1170.1 1567.1L1170.3 1565.8L1170.5 1565.1L1170.6 1564L1170.8 1563L1171 1562.3L1171.1 1561L1171.3 1559.8L1171.4 1559.3L1171.6 1557.9L1171.8 1557.1L1171.9 1556.1L1172.1 1555L1172.3 1554.1L1172.4 1552.9L1172.6 1552.1L1172.7 1551.1L1172.9 1550.1L1173 1549.2L1173.2 1548.3L1173.4 1547L1173.5 1546.2L1173.7 1545.2L1173.8 1544.1L1174 1543.2L1174.1 1542.2L1174.3 1541.3L1174.4 1540.1L1174.6 1539.3L1174.7 1538.4L1174.9 1537.3L1175 1536.4L1175.2 1535.2L1175.3 1534.4L1175.5 1533.5L1175.6 1532.3L1175.7 1531.2L1175.9 1530.3L1176 1529.1L1176.2 1528.4L1176.3 1527.2L1176.5 1526.3L1176.6 1525.4L1176.7 1524.4L1176.9 1523.6L1177 1522.4L1177.2 1521.4L1177.3 1520.5L1177.5 1519.4L1177.6 1518.4L1177.7 1517.4L1177.9 1516.4L1178 1515.8L1178.1 1514.3L1178.3 1513.3L1178.4 1512.5L1178.6 1511.4L1178.7 1510.5L1178.8 1509.7L1179 1508.6L1179.1 1507.4L1179.3 1506.6L1179.4 1505.5L1179.5 1504.6L1179.7 1503.8L1179.8 1502.6L1180 1501.7L1180.1 1500.7L1180.2 1499.7L1180.4 1498.5L1180.5 1497.7L1180.6 1496.6L1180.8 1495.6L1180.9 1494.6L1181.1 1493.6L1181.2 1493L1181.4 1491.5L1181.5 1490.5L1181.6 1489.7L1181.8 1488.7L1181.9 1487.5L1182.1 1486.5L1182.2 1485.6L1182.3 1484.7L1182.5 1483.8L1182.6 1482.6L1182.8 1481.8L1182.9 1480.8L1183 1479.8L1183.2 1478.6L1183.3 1477.6L1183.5 1476.7L1183.6 1475.7L1183.7 1474.7L1183.9 1473.9L1184 1472.6L1184.1 1471.9L1184.3 1470.9L1184.4 1469.6L1184.6 1468.5L1184.7 1467.7L1184.8 1466.8L1185 1465.8L1185.1 1464.8L1185.2 1463.9L1185.4 1462.9L1185.5 1461.7L1185.7 1460.8L1185.8 1459.8L1186 1458.7L1186.1 1458L1186.2 1456.9L1186.4 1455.8L1186.5 1454.8L1186.7 1453.8L1186.9 1452.8L1187 1451.9L1187.2 1451L1187.3 1450.1L1187.5 1448.8L1187.6 1448L1187.8 1446.9L1188 1445.8L1188.1 1445L1188.3 1444L1188.5 1443L1188.7 1442.1L1188.8 1441L1189 1439.9L1189.2 1439L1189.3 1438.1L1189.5 1437.4L1189.7 1436.2L1189.8 1435.2L1190 1434.1L1190.2 1433.3L1190.4 1432.1L1190.5 1431.1L1190.7 1430L1190.9 1429.1L1191.1 1428.2L1191.2 1427.3L1191.4 1426.3L1191.6 1425.1L1191.8 1424.2L1192 1423L1192.2 1422.3L1192.4 1421.3L1192.6 1420.3L1192.8 1419.3L1193 1418.3L1193.2 1417.3L1193.4 1416.4L1193.7 1415.4L1193.9 1414.5L1194.1 1413.5L1194.4 1412.5L1194.7 1411.4L1194.9 1410.7L1195.2 1409.6L1195.5 1408.9L1195.8 1407.6L1196.1 1406.8L1196.4 1405.8L1196.6 1404.9L1196.9 1403.9L1197.2 1403L1197.5 1402L1197.8 1400.8L1198.2 1399.8L1198.6 1399L1199 1398.3L1199.5 1397.4L1200.1 1396.5L1200.8 1395.7L1201.5 1394.9L1202.3 1394.6L1203.1 1393.9L1204 1393.5L1204.9 1392.9L1205.8 1392.6L1206.8 1392.1L1207.7 1392L1208.7 1391.7L1209.7 1391.5L1210.7 1391.5L1211.6 1391.4L1212.6 1390.8L1213.6 1390.9L1214.6 1390.6L1215.6 1390.4L1216.6 1390.2L1217.6 1390.3L1218.6 1390.1L1219.6 1390.1L1220.6 1389.7L1221.5 1389.6L1222.5 1389.8L1223.5 1389.5L1224.5 1389L1225.5 1388.8L1226.5 1389.1L1227.5 1388.9L1228.5 1388.6L1229.5 1388.8L1230.5 1388.9L1231.5 1388.6L1232.5 1388.5L1233.5 1388.4L1234.5 1388.4L1235.5 1388.1L1236.5 1388.2L1237.5 1388.1L1238.5 1388.1L1239.5 1388L1240.5 1388.1L1241.5 1387.8L1242.5 1387.8L1243.5 1387.8L1244.5 1388L1245.5 1387.6L1246.5 1387.8L1247.5 1387.6L1248.5 1387.3L1249.5 1387.6L1250.5 1387.5L1251.5 1387.5L1252.5 1387.4L1253.5 1387.6L1254.5 1387.5L1255.5 1387.2L1256.5 1387.2L1257.5 1387.3L1258.5 1387.2L1259.5 1387L1260.5 1386.9L1261.5 1387.1L1262.5 1386.8L1263.5 1386.8L1264.5 1386.8L1265.5 1386.7L1266.5 1386.5L1267.5 1386.3L1268.5 1386.4L1269.5 1386.2L1270.5 1386.2L1271.5 1385.9L1272.5 1385.7L1273.5 1385.9L1274.5 1385.8L1275.5 1385.8L1276.5 1385.5L1277.5 1385.7L1278.5 1385.4L1279.5 1385.3L1280.5 1385.2L1281.5 1385.2L1282.5 1385.1L1283.5 1385.1L1284.5 1385L1285.5 1384.9L1286.5 1384.5L1287.5 1384.6L1288.5 1384.3L1289.5 1384.5L1290.5 1384.6" fill="none" stroke="#ff0000" stroke-width="2.5" stroke-linecap="butt" stroke-linejoin="round" stroke-dasharray="3 2.2"/>
<path d="M804 1732.1L804.5 1714.7L805 1718.8L805.5 1727.9L806 1716.5L806.5 1728.1L806.9 1715.8L807.4 1735.8L807.9 1736.4L808.4 1726.4L808.9 1729L809.4 1731.9L809.9 1732.1L810.4 1724.5L810.9 1732.4L811.3 1724.9L811.8 1736L812.3 1730.8L812.8 1724L813.3 1734.8L813.8 1724.4L814.3 1718.2L814.8 1723.4L815.3 1725.4L815.8 1732.7L816.3 1731L816.8 1721L817.3 1734.4L817.7 1734L818.2 1725.5L818.7 1728.1L819.2 1734.4L819.7 1726.8L820.2 1733.4L820.7 1718.8L821.2 1727.8L821.7 1726.7L822.2 1722.6L822.7 1736.2L823.2 1717.7L823.7 1727.1L824.2 1718.3L824.7 1728.2L825.2 1736.1L825.7 1724.6L826.2 1737.1L826.7 1719.9L827.2 1720.7L827.7 1734.5L828.2 1731.8L828.7 1733L829.2 1729L829.7 1727.6L830.2 1737L830.7 1725.4L831.2 1728.7L831.7 1732.4L832.2 1726.5L832.7 1731.1L833.2 1730.1L833.7 1727L834.2 1737.2L834.7 1733.4L835.2 1737.5L835.7 1736.6L836.2 1724.1L836.7 1732.2L837.2 1718.3L837.7 1721.4L838.2 1732.9L838.7 1733.6L839.2 1723.5L839.7 1738.1L840.2 1717.2L840.7 1724.8L841.2 1721.4L841.7 1726.8L842.2 1737.6L842.7 1723.4L843.2 1726.7L843.7 1727.5L844.2 1736.2L844.7 1739.1L845.2 1728L845.7 1729.4L846.2 1734.8L846.7 1735.7L847.2 1721L847.7 1725.5L848.2 1733.3L848.7 1722.3L849.1 1728.3L849.6 1739.8L850.1 1743.4L850.6 1736.8L851 1730.2L851.5 1730.5L852 1718.2L852.5 1743.6L852.9 1743.4L853.4 1738.7L853.8 1740.8L854.3 1728.4L854.7 1739.7L855.2 1718.1L855.7 1722.5L856.1 1723.7L856.6 1725L857 1720.7L857.4 1739.3L857.9 1721.9L858.3 1730.8L858.8 1725.7L859.2 1746L859.6 1734.1L860.1 1737.2L860.5 1736.8L861 1734.5L861.4 1725.6L861.8 1743.5L862.3 1744L862.7 1740L863.2 1725.5L863.6 1738.2L864 1730.2L864.5 1729.9L864.9 1739.9L865.4 1740.5L865.8 1733.8L866.3 1735.2L866.7 1734.3L867.2 1728.9L867.6 1725.2L868.1 1736.9L868.5 1747.7L869 1734.5L869.4 1728.9L869.9 1734.8L870.3 1752.4L870.8 1732.1L871.3 1736.9L871.8 1752.7L872.2 1744.8L872.7 1737.7L873.2 1745.8L873.6 1746.4L874.1 1732.5L874.6 1734.2L875.1 1749.9L875.6 1732.4L876 1748.3L876.5 1730.4L877 1749.4L877.5 1737.6L878 1752.4L878.4 1744.4L878.9 1730.2L879.4 1741.8L879.9 1743L880.4 1734.7L880.9 1730.4L881.3 1741.2L881.8 1733.3L882.3 1749.3L882.8 1757L883.3 1745L883.8 1755.4L884.3 1746.9L884.7 1740.8L885.2 1740.5L885.7 1754.6L886.2 1738.1L886.7 1730.5L887.2 1747.9L887.7 1753.5L888.2 1756L888.7 1731L889.1 1754L889.6 1742.1L890.1 1744.7L890.6 1744.3L891.1 1732.1L891.6 1754.4L892.1 1731.8L892.6 1749.2L893.1 1732.8L893.6 1744.2L894.1 1746.7L894.6 1734L895 1757.1L895.5 1740L896 1739L896.5 1735.8L897 1756.8L897.5 1737.8L898 1733.1L898.5 1747.2L899 1733L899.5 1738.5L900 1756.8L900.5 1737.4L901 1754.4L901.5 1748.3L902 1745.1L902.5 1748L903 1752.3L903.5 1736L904 1750.9L904.5 1744.4L905 1737.2L905.5 1755.2L906 1734.8L906.5 1736.5L907 1749L907.5 1750.6L908 1734L908.4 1741.2L908.9 1761.4L909.4 1758.5L909.9 1733.7L910.4 1756.2L910.9 1747.9L911.4 1759.9L911.9 1756.1L912.4 1756.9L912.9 1745.9L913.4 1752L913.9 1750.7L914.4 1743.5L914.9 1759.5L915.4 1746.7L915.9 1746.5L916.4 1758.9L916.9 1742.3L917.4 1760.5L917.9 1761.1L918.4 1738.9L918.9 1753.6L919.4 1751.7L919.9 1745L920.4 1739.1L920.9 1759.8L921.4 1738.1L921.9 1744.3L922.4 1759.5L922.9 1737L923.4 1749.9L923.9 1742.8L924.4 1759.5L924.9 1757.9L925.4 1753.7L925.9 1754L926.4 1745.6L926.9 1751.4L927.4 1752.4L927.9 1751.7L928.4 1757.1L928.9 1755.1L929.4 1758.2L929.9 1750.7L930.4 1737.9L930.9 1742.2L931.4 1734.8L931.9 1734L932.4 1740L932.9 1752.1L933.4 1750L933.9 1735.5L934.4 1739.5L934.9 1745.8L935.4 1745L935.9 1735.2L936.4 1741.2L936.9 1742.7L937.4 1741.5L937.9 1744.2L938.4 1738.8L938.9 1753.7L939.4 1741.3L939.9 1752L940.4 1740.3L940.9 1744.4L941.4 1739L941.9 1735L942.4 1749.8L942.9 1751.4L943.4 1751.1L943.9 1751.2L944.4 1737.2L944.9 1741L945.4 1742.3L945.9 1748.3L946.4 1757.2L946.9 1747.5L947.4 1737L947.9 1751.7L948.4 1752.5L948.9 1736.7L949.4 1733.4L949.9 1753.2L950.4 1760.6L950.9 1760L951.4 1741.7L951.9 1748.1L952.4 1739.6L952.9 1753.6L953.4 1734.6L953.9 1761L954.4 1745.2L954.9 1749.7L955.4 1742.5L955.9 1757.9L956.4 1734.3L956.9 1744.9L957.4 1755.5L957.9 1752L958.4 1757.9L958.8 1759L959.3 1756L959.8 1745.2L960.3 1755.8L960.8 1745.1L961.3 1752L961.8 1761.6L962.3 1758.3L962.8 1762.9L963.3 1749.4L963.8 1741.1L964.3 1758.7L964.8 1747.2L965.3 1754.3L965.8 1738.3L966.3 1758.7L966.8 1753.8L967.2 1754.3L967.7 1758.1L968.2 1750.2L968.7 1744L969.2 1760.2L969.7 1757.1L970.2 1738.7L970.7 1741L971.2 1751.5L971.7 1762.7L972.2 1756.5L972.7 1744.6L973.2 1738.5L973.7 1748.2L974.2 1751.6L974.7 1737.5L975.2 1748L975.7 1761.3L976.2 1742.9L976.7 1762.7L977.2 1763.3L977.7 1750.4L978.2 1761.3L978.6 1765.1L979.1 1743.6L979.6 1755.4L980.1 1754.8L980.6 1758.5L981.1 1749.4L981.6 1759.4L982.1 1740.6L982.6 1758.9L983.1 1738.9L983.6 1752.6L984.1 1754.5L984.6 1740L985.1 1750.7L985.6 1758.5L986.1 1757.5L986.6 1760.5L987.1 1738.7L987.6 1755.6L988.1 1746.6L988.6 1766L989.1 1744.5L989.6 1738.8L990.1 1763.6L990.6 1760.5L991.1 1756.8L991.6 1761.1L992.1 1748.8L992.6 1757.1L993.1 1741.1L993.6 1752.7L994.1 1745.5L994.6 1744.2L995.1 1746.2L995.6 1748.6L996.1 1748L996.6 1738.4L997.1 1744.7L997.6 1756.7L998.1 1749.9L998.6 1758.3L999.1 1765.3L999.6 1741.8L1000.1 1757.1L1000.6 1748L1001.1 1761.5L1001.6 1765L1002.1 1744.3L1002.6 1756.8L1003.1 1757.3L1003.7 1749.7L1004.2 1749.7L1004.7 1742.8L1005.2 1761.6L1005.7 1750.4L1006.2 1753.8L1006.7 1761.9L1007.2 1751.8L1007.7 1741.2L1008.2 1744.9L1008.6 1760.4L1009.1 1751.9L1009.6 1761L1010.1 1756.3L1010.6 1761.3L1011.1 1761.3L1011.6 1761.9L1012.1 1755.9L1012.6 1738.7L1013.1 1753.5L1013.6 1754.2L1014.1 1740L1014.6 1746.8L1015.1 1755.6L1015.6 1746.3L1016.1 1751.9L1016.6 1747.2L1017.1 1764.2L1017.6 1759.1L1018.1 1750.9L1018.5 1737.6L1019 1760.2L1019.5 1749.1L1020 1761.7L1020.5 1752.6L1020.9 1745.3L1021.4 1759.6L1021.9 1748.2L1022.4 1757.3L1022.8 1756.4L1023.3 1754.1L1023.8 1754.9L1024.2 1759.1L1024.7 1758.3L1025.1 1754.3L1025.6 1759.9L1026 1738.9L1026.5 1754.1L1026.9 1735.6L1027.3 1743.7L1027.8 1753L1028.2 1754.7L1028.6 1742L1029.1 1756L1029.5 1734L1029.9 1751.4L1030.3 1742.1L1030.7 1757L1031.2 1751L1031.6 1754L1032 1744.6L1032.4 1738.6L1032.8 1736.8L1033.2 1755.2L1033.6 1746.7L1034 1751L1034.4 1733.6L1034.8 1749.4L1035.2 1746.8L1035.6 1736.6L1036 1735.1L1036.4 1751.5L1036.8 1729.1L1037.2 1750.6L1037.6 1734.9L1038 1752L1038.4 1752.8L1038.8 1750.2L1039.2 1738.3L1039.6 1734.2L1040 1741.7L1040.5 1727.4L1040.9 1745.2L1041.3 1738L1041.7 1734.1L1042.1 1724.1L1042.5 1742.8L1042.9 1744.7L1043.3 1724.7L1043.8 1734.4L1044.2 1743.2L1044.6 1742.9L1045 1730.6L1045.5 1746.7L1045.9 1738.1L1046.4 1723.6L1046.8 1722.2L1047.2 1740.1L1047.7 1721.2L1048.1 1739.7L1048.6 1734.2L1049 1735.9L1049.5 1729.5L1049.9 1738.3L1050.3 1733.1L1050.8 1739.5L1051.2 1742.3L1051.7 1742L1052.1 1734.6L1052.6 1729.4L1053 1741.5L1053.5 1740.9L1053.9 1734.3L1054.4 1731.3L1054.8 1741.7L1055.3 1729.6L1055.7 1724.9L1056.2 1719.1L1056.6 1732.3L1057.1 1738.4L1057.5 1717.5L1057.9 1729.9L1058.4 1722.9L1058.8 1740L1059.2 1728.2L1059.7 1724.1L1060.1 1737.5L1060.5 1730.1L1061 1714.9L1061.4 1717.6L1061.8 1714L1062.2 1720.6L1062.6 1715L1063 1729.4L1063.5 1713.7L1063.9 1722.6L1064.3 1726.2L1064.7 1714.2L1065.1 1731.5L1065.5 1728.7L1065.9 1721.8L1066.3 1729.5L1066.7 1729.1L1067 1720.1L1067.4 1714.2L1067.8 1714.3L1068.2 1728.6L1068.6 1724.4L1069 1715.9L1069.4 1721.1L1069.7 1724.9L1070.1 1720.5L1070.5 1719.4L1070.9 1729.9L1071.3 1708.2L1071.7 1712.8L1072 1724.8L1072.4 1722L1072.8 1725.6L1073.2 1727L1073.6 1722.3L1074 1705.1L1074.3 1725.8L1074.7 1723.1L1075.1 1704.3L1075.5 1708.8L1075.9 1715.2L1076.3 1715.6L1076.7 1722.8L1077 1721.9L1077.4 1711.8L1077.8 1710.7L1078.2 1705.1L1078.6 1713L1079 1719.1L1079.4 1720.1L1079.8 1713.3L1080.2 1703.4L1080.6 1717.9L1081 1708.7L1081.5 1715.9L1081.9 1715.4L1082.3 1703L1082.7 1700.1L1083.1 1709.7L1083.6 1714.7L1084 1698.6L1084.4 1704.9L1084.8 1701.9L1085.3 1718.3L1085.7 1706.5L1086.1 1714.2L1086.5 1716.1L1087 1698.5L1087.4 1717.9L1087.8 1707.6L1088.3 1713.4L1088.7 1698.7L1089.2 1711.1L1089.6 1708.5L1090 1697.1L1090.5 1694.8L1090.9 1708.9L1091.4 1711.4L1091.8 1703.6L1092.2 1706.4L1092.7 1694.7L1093.1 1699.3L1093.6 1693.3L1094 1695.4L1094.5 1704.5L1094.9 1703.7L1095.4 1696.6L1095.8 1707.9L1096.3 1705.8L1096.7 1705.8L1097.2 1694.5L1097.6 1704.1L1098.1 1703.5L1098.6 1698.1L1099 1704.4L1099.5 1709.9L1099.9 1704.3L1100.4 1706.9L1100.9 1691.5L1101.3 1701.3L1101.8 1697L1102.3 1696.3L1102.7 1702.3L1103.2 1691.3L1103.7 1700.9L1104.1 1703.1L1104.6 1706.1L1105.1 1696.3L1105.6 1694.9L1106 1698.9L1106.5 1699.2L1107 1704L1107.5 1702.1L1108 1691.7L1108.5 1693L1109 1693.9L1109.5 1691.1L1110 1692.3L1110.5 1703.5L1111 1702.9L1111.5 1689.9L1112 1692.9L1112.5 1697.1L1113 1704.6L1113.5 1695.6L1114 1690.3L1114.4 1701.6L1114.9 1689.8L1115.4 1691.8L1115.9 1704.6L1116.4 1700.3L1116.9 1694L1117.4 1698.5L1117.9 1694.8L1118.3 1695.3L1118.8 1699.4L1119.3 1695.8L1119.7 1692.7L1120.2 1702.9L1120.6 1700.6L1121 1692L1121.4 1702.1L1121.8 1690L1122.2 1695.5L1122.5 1693.8L1122.9 1694.6L1123.2 1692.8L1123.5 1691.4L1123.9 1695.3L1124.2 1687.5L1124.5 1696.2L1124.8 1697.9L1125 1689.1L1125.3 1683.8L1125.6 1696.1L1125.9 1685.8L1126.1 1693.1L1126.4 1682.1L1126.6 1686.6L1126.9 1688.4L1127.1 1681.8L1127.3 1691.8L1127.6 1681.3L1127.8 1690.1L1128 1686.2L1128.2 1681.7L1128.4 1688.3L1128.7 1682.5L1128.9 1684.7L1129.1 1680.1L1129.3 1680.4L1129.5 1687.9L1129.7 1680.2L1130 1687.9L1130.2 1678.6L1130.4 1681.9L1130.6 1678.9L1130.8 1679.1L1131 1674.6L1131.3 1674.3L1131.5 1680.7L1131.7 1671.7L1131.9 1681.9L1132.2 1676.4L1132.4 1669.7L1132.6 1672.3L1132.9 1680L1133.1 1669.4L1133.4 1678.2L1133.6 1676.9L1133.8 1668L1134.1 1676.9L1134.3 1678.6L1134.6 1668.3L1134.8 1673.5L1135 1668.9L1135.3 1672.2L1135.5 1672.6L1135.8 1667.3L1136 1669.3L1136.2 1668.7L1136.5 1672L1136.7 1670.8L1136.9 1665.3L1137.2 1663.4L1137.4 1670.4L1137.6 1661.7L1137.9 1671.9L1138.1 1671.6L1138.3 1665L1138.6 1666.5L1138.8 1668.2L1139 1662.2L1139.2 1666.6L1139.5 1660.6L1139.7 1668.3L1139.9 1666.4L1140.1 1658.6L1140.3 1663L1140.6 1663.8L1140.8 1655.9L1141 1663.2L1141.2 1655.3L1141.4 1658L1141.6 1655L1141.8 1653.8L1142 1656L1142.3 1654.3L1142.5 1661.2L1142.7 1659L1142.9 1652.8L1143.1 1653.3L1143.3 1653.9L1143.5 1651.2L1143.7 1652.3L1143.9 1655.1L1144 1651.8L1144.2 1647.5L1144.4 1656.2L1144.6 1646.4L1144.8 1649.2L1145 1653.5L1145.2 1645.3L1145.4 1649.1L1145.5 1652.1L1145.7 1646.1L1145.9 1649.5L1146.1 1652.1L1146.3 1646.4L1146.4 1648.4L1146.6 1642.3L1146.8 1641.6L1147 1640.9L1147.1 1645.5L1147.3 1648.8L1147.5 1639.8L1147.7 1639.6L1147.8 1643.6L1148 1642.2L1148.2 1643.9L1148.3 1644.7L1148.5 1640.9L1148.7 1640.1L1148.8 1643.9L1149 1635.6L1149.2 1635.2L1149.3 1642.7L1149.5 1636.1L1149.6 1639.9L1149.8 1641.3L1150 1635.3L1150.1 1633.6L1150.3 1639.8L1150.4 1635.5L1150.6 1632.1L1150.7 1638.3L1150.9 1633.6L1151 1632.5L1151.2 1632.6L1151.3 1634.4L1151.5 1636L1151.6 1629.3L1151.8 1630.1L1151.9 1628.1L1152.1 1631L1152.2 1627.7L1152.4 1633.1L1152.5 1632.1L1152.6 1632L1152.8 1629L1152.9 1624.9L1153.1 1624L1153.2 1623L1153.3 1627.9L1153.5 1622.3L1153.6 1625.9L1153.8 1623.8L1153.9 1620.8L1154 1623.2L1154.2 1624.8L1154.3 1621.3L1154.4 1619.1L1154.6 1620.7L1154.7 1618.4L1154.8 1619.4L1154.9 1622.1L1155.1 1619.5L1155.2 1621.4L1155.3 1615.9L1155.4 1620.4L1155.6 1617.4L1155.7 1614.9L1155.8 1618L1155.9 1617.6L1156.1 1613.8L1156.2 1616.2L1156.3 1616.6L1156.4 1615.9L1156.5 1616.7L1156.6 1612.1L1156.7 1613.4L1156.9 1614.6L1157 1614.6L1157.1 1613.4L1157.2 1613.6L1157.3 1610.3L1157.4 1609.9L1157.5 1611.8L1157.6 1611.2L1157.7 1607.3L1157.8 1607.4L1157.9 1605.8L1158 1609.2L1158.1 1605.3L1158.2 1604.6L1158.3 1605.4L1158.4 1606.1L1158.5 1603.8L1158.6 1601.7L1158.7 1602.6L1158.8 1602.2L1158.9 1604.3L1159 1601.7L1159.1 1604L1159.2 1600.5L1159.3 1598.8L1159.4 1598L1159.5 1601.3L1159.6 1598.9L1159.7 1597.9L1159.8 1595.7L1159.9 1598.2L1160 1598.5L1160.1 1595.3L1160.1 1595.5L1160.2 1597.9L1160.3 1597.1L1160.4 1595.4L1160.5 1594.3L1160.6 1593.7L1160.7 1593.5L1160.8 1593.6L1160.9 1594.4L1160.9 1591.7L1161 1590.2L1161.1 1589.5L1161.2 1588.5L1161.3 1589.1L1161.4 1587.6L1161.5 1587L1161.5 1586.7L1161.6 1589.3L1161.7 1588.9L1161.8 1586.2L1161.9 1584.4L1162 1586.7L1162 1585.4L1162.1 1585.6L1162.2 1583.6L1162.3 1584.3L1162.4 1581.4L1162.5 1581.8L1162.5 1582L1162.6 1583.5L1162.7 1581.6L1162.8 1582L1162.9 1580.1L1162.9 1578.3L1163 1580.1L1163.1 1580.5L1163.2 1580.2L1163.3 1578.3L1163.4 1577.1L1163.4 1578.1L1163.5 1577.4L1163.6 1577.5L1163.7 1574.9L1163.8 1576.1L1163.9 1573.7L1163.9 1573.6L1164 1573.3L1164.1 1572.3L1164.2 1571.1L1164.3 1570.4L1164.3 1571L1164.4 1570.1L1164.5 1571.9L1164.6 1570.5L1164.7 1571L1164.7 1570.6L1164.8 1567.1L1164.9 1569.1L1165 1568L1165.1 1566.8L1165.1 1565.5L1165.2 1566.7L1165.3 1566.3L1165.4 1564.4L1165.5 1565L1165.5 1565L1165.6 1563.5L1165.7 1564.3L1165.8 1561.3L1165.8 1563.5L1165.9 1561.3L1166 1560.4L1166.1 1560.3L1166.1 1559.1L1166.2 1558.6L1166.3 1558.3L1166.4 1558.8L1166.4 1558.1L1166.5 1557.8L1166.6 1558.2L1166.6 1556.9L1166.7 1557.2L1166.8 1555.9L1166.9 1556.3L1166.9 1555.5L1167 1555L1167.1 1552.6L1167.1 1552.8L1167.2 1553.8L1167.3 1551.9L1167.4 1551L1167.4 1550.8L1167.5 1551.6L1167.6 1549.5L1167.6 1550.1L1167.7 1548.6L1167.8 1547.8L1167.8 1548.7L1167.9 1548.2L1168 1548.2L1168 1546.1L1168.1 1545.9L1168.2 1545.7L1168.3 1545L1168.3 1545.7L1168.4 1544.2L1168.5 1543.9L1168.5 1543.8L1168.6 1542.3L1168.7 1542L1168.7 1541.8L1168.8 1541.9L1168.9 1540.7L1168.9 1541L1169 1539.6L1169.1 1538.6L1169.1 1538.5L1169.2 1538.4L1169.3 1538.4L1169.3 1537.2L1169.4 1536.9L1169.5 1535.7L1169.5 1536.3L1169.6 1535.8L1169.7 1534.8L1169.7 1534.3L1169.8 1533.7L1169.9 1533.4L1169.9 1533.5L1170 1532.4L1170.1 1532.3L1170.1 1531.1L1170.2 1530.8L1170.3 1530.9L1170.4 1530.4L1170.4 1529.6L1170.5 1528.5L1170.6 1528.1L1170.6 1528L1170.7 1527.3L1170.8 1527.3L1170.8 1526.2L1170.9 1526.1L1171 1525.9L1171 1524.5L1171.1 1524.2L1171.2 1523.7L1171.2 1523.2L1171.3 1522.9L1171.4 1522.4L1171.4 1521.7L1171.5 1521.4L1171.6 1521.1L1171.7 1520.4L1171.7 1519.7L1171.8 1519.4L1171.9 1518.9L1171.9 1518.5L1172 1518.2L1172.1 1517.6L1172.1 1517.3L1172.2 1516.7L1172.3 1516.3L1172.4 1515.3L1172.4 1515.3L1172.5 1514.4L1172.6 1514.1L1172.6 1513.7L1172.7 1512.8L1172.8 1512.5L1172.9 1512L1172.9 1511.6L1173 1511L1173.1 1510.4L1173.2 1510.1L1173.2 1509.5L1173.3 1509L1173.4 1508.6L1173.4 1508.2L1173.5 1507.4L1173.6 1507.3L1173.7 1506.7L1173.7 1506.1L1173.8 1505.5L1173.9 1505.3L1173.9 1504.5L1174 1504.4L1174.1 1503.9L1174.2 1503.5L1174.2 1502.9L1174.3 1502.2L1174.4 1501.4L1174.4 1501.5L1174.5 1501L1174.6 1500.1L1174.7 1499.7L1174.7 1499.3L1174.8 1499L1174.9 1498.3L1174.9 1497.8L1175 1497.1L1175.1 1496.7L1175.1 1496.3L1175.2 1495.7L1175.3 1495.1L1175.4 1494.7L1175.4 1494.4L1175.5 1493.7L1175.6 1493.4L1175.6 1492.9L1175.7 1492.2L1175.8 1491.8L1175.9 1491.5L1175.9 1490.8L1176 1490.4L1176.1 1489.8L1176.1 1489.1L1176.2 1488.6L1176.3 1488.6L1176.4 1487.7L1176.4 1487.1L1176.5 1487.1L1176.6 1486.4L1176.6 1485.9L1176.7 1485.6L1176.8 1485.1L1176.9 1484.6L1176.9 1483.9L1177 1483.4L1177.1 1483L1177.2 1482.2L1177.2 1481.7L1177.3 1481.6L1177.4 1480.9L1177.4 1480.3L1177.5 1479.8L1177.6 1479.4L1177.7 1479.1L1177.7 1478.1L1177.8 1478L1177.9 1477.5L1178 1477L1178 1476.7L1178.1 1475.8L1178.2 1475.3L1178.3 1474.8L1178.3 1474.2L1178.4 1473.9L1178.5 1473.7L1178.6 1472.8L1178.7 1472.5L1178.7 1472.1L1178.8 1471.6L1178.9 1470.8L1179 1470.6L1179 1470.1L1179.1 1469.3L1179.2 1469L1179.3 1468.3L1179.4 1467.8L1179.4 1467.7L1179.5 1466.9L1179.6 1466.7L1179.7 1465.7L1179.8 1465.3L1179.9 1465.3L1179.9 1464.5L1180 1464.2L1180.1 1463.6L1180.2 1463L1180.3 1462.4L1180.4 1462L1180.4 1461.4L1180.5 1461.1L1180.6 1460.6L1180.7 1460L1180.8 1459.7L1180.9 1459.4L1181 1458.8L1181.1 1458.2L1181.1 1457.9L1181.2 1457.2L1181.3 1456.5L1181.4 1456.1L1181.5 1455.5L1181.6 1455.4L1181.7 1454.9L1181.8 1454.2L1181.9 1453.9L1182 1453.4L1182.1 1452.6L1182.1 1452L1182.2 1451.6L1182.3 1451.1L1182.4 1450.6L1182.5 1450.6L1182.6 1449.8L1182.7 1449.4L1182.8 1448.6L1182.9 1448.1L1183 1448.1L1183.1 1447.3L1183.2 1446.6L1183.3 1446.2L1183.4 1446L1183.4 1445.6L1183.5 1444.6L1183.6 1444.4L1183.7 1443.7L1183.8 1443.2L1183.9 1443.2L1184 1442.1L1184.1 1442L1184.2 1441.7L1184.3 1441.1L1184.4 1440.2L1184.5 1439.9L1184.6 1439.7L1184.7 1438.7L1184.8 1438.3L1184.9 1437.9L1185 1437.3L1185.1 1436.7L1185.2 1436.5L1185.3 1436L1185.4 1435.7L1185.5 1434.8L1185.6 1434.4L1185.7 1434L1185.8 1433.5L1186 1433.4L1186.1 1432.5L1186.2 1431.9L1186.3 1431.7L1186.4 1431.4L1186.5 1430.4L1186.6 1430.2L1186.7 1429.7L1186.8 1429.3L1186.9 1429L1187 1428.3L1187.2 1427.6L1187.3 1427.4L1187.4 1427L1187.5 1426.5L1187.6 1425.8L1187.7 1425.2L1187.9 1424.9L1188 1424.5L1188.1 1423.8L1188.2 1423.2L1188.3 1422.6L1188.5 1422.3L1188.6 1422.1L1188.7 1421.1L1188.8 1420.9L1188.9 1420.7L1189.1 1419.8L1189.2 1419.4L1189.3 1418.8L1189.4 1418.6L1189.6 1417.9L1189.7 1417.5L1189.8 1416.8L1189.9 1416.6L1190.1 1416.1L1190.2 1415.7L1190.3 1414.9L1190.4 1414.4L1190.6 1414L1190.7 1413.9L1190.8 1413.2L1190.9 1412.4L1191.1 1412.2L1191.2 1411.9L1191.4 1411.1L1191.5 1410.8L1191.6 1410.5L1191.8 1409.9L1191.9 1409.2L1192.1 1408.7L1192.2 1408.1L1192.4 1407.6L1192.5 1407.3L1192.7 1406.9L1192.9 1406.3L1193 1406.1L1193.2 1405.3L1193.4 1404.9L1193.6 1404.6L1193.8 1403.8L1194 1403.6L1194.2 1403.3L1194.4 1402.9L1194.6 1402.4L1194.9 1402L1195.1 1401.4L1195.3 1401.2L1195.5 1400.5L1195.8 1399.9L1196 1399.5L1196.2 1399.1L1196.5 1398.6L1196.7 1398.1L1197 1398.1L1197.2 1397.5L1197.5 1397.3L1197.8 1396.7L1198.1 1396.1L1198.4 1395.8L1198.7 1395.7L1199 1395.3L1199.3 1395L1199.7 1394.5L1200.1 1394.2L1200.4 1393.4L1200.8 1393.5L1201.2 1393.3L1201.7 1393L1202.1 1392.5L1202.5 1392L1203 1392.1L1203.4 1392.1L1203.9 1391.4L1204.3 1391.3L1204.8 1391L1205.3 1390.9L1205.8 1391L1206.2 1391.1L1206.7 1390.4L1207.2 1390.6L1207.7 1390.5L1208.2 1390.4L1208.7 1390.1L1209.2 1390.2L1209.7 1389.9L1210.1 1390.1L1210.6 1390.1L1211.1 1389.7L1211.6 1389.6L1212.1 1389.4L1212.6 1389.3L1213.1 1389.3L1213.6 1389.6L1214.1 1389.4L1214.6 1389.3L1215.1 1389.5L1215.6 1389.4L1216.1 1389.1L1216.6 1389.3L1217.1 1388.8L1217.6 1389.2L1218.1 1389.1L1218.6 1388.6L1219.1 1388.6L1219.6 1388.7L1220.1 1388.5L1220.6 1388.9L1221.1 1388.8L1221.6 1388.7L1222.1 1388.2L1222.6 1388.2L1223.1 1388.4L1223.6 1388.1L1224 1388.3L1224.5 1387.9L1225 1388.2L1225.5 1388L1226 1388L1226.5 1388.2L1227 1388.1L1227.5 1388.1L1228 1387.6L1228.5 1387.9L1229 1387.8L1229.5 1387.5L1230 1387.9L1230.5 1387.8L1231 1388L1231.5 1387.9L1232 1387.4L1232.5 1387.5L1233 1387.5L1233.5 1387.7L1234 1387.6L1234.5 1387.4L1235 1387.2L1235.5 1387.2L1236 1387.5L1236.5 1387.4L1237 1387.3L1237.5 1387.2L1238 1387.3L1238.5 1387.2L1239 1387.4L1239.5 1387L1240 1387.6L1240.5 1387.3L1241 1387.4L1241.5 1387.2L1242 1387.3L1242.5 1387.1L1243 1387.2L1243.5 1386.9L1244 1387.2L1244.5 1386.9L1245 1387L1245.5 1387.2L1246 1386.8L1246.5 1387.1L1247 1386.8L1247.5 1386.8L1248 1386.9L1248.5 1387L1249 1386.7L1249.5 1387.1L1250 1386.8L1250.5 1387.1L1251 1387L1251.5 1387.1L1252 1386.8L1252.5 1387L1253 1386.6L1253.5 1386.8L1254 1386.7L1254.5 1387.1L1255 1386.5L1255.5 1386.6L1256 1386.6L1256.5 1386.7L1257 1386.9L1257.5 1386.7L1258 1386.8L1258.5 1386.8L1259 1386.8L1259.5 1386.3L1260 1386.7L1260.5 1386.8L1261 1386.3L1261.5 1386.4L1262 1386.5L1262.5 1386.1L1263 1386.2L1263.5 1386.5L1264 1386.3L1264.5 1386.4L1265 1386.4L1265.5 1385.9L1266 1386L1266.5 1386.3L1267 1386.3L1267.5 1385.9L1268 1386L1268.5 1385.9L1269 1386L1269.5 1386.1L1270 1386.1L1270.5 1385.9L1271 1385.9L1271.5 1385.5L1272 1385.7L1272.5 1385.7L1273 1385.5L1273.5 1385.7L1274 1385.4L1274.5 1385.6L1275 1385.3L1275.5 1385.4L1276 1385.4L1276.5 1385.5L1277 1385.4L1277.5 1385.3L1278 1385.2L1278.5 1385.5L1279 1385L1279.5 1385L1280 1385.4L1280.5 1385.2L1281 1385.4L1281.5 1385.3L1282 1385.2L1282.5 1385L1283 1385L1283.5 1384.7L1284 1384.8L1284.5 1384.9L1285 1384.7L1285.5 1384.6L1286 1384.6L1286.5 1384.5L1287 1384.7L1287.5 1384.9L1288 1384.3L1288.5 1384.5L1289 1384.6L1289.5 1384.5L1290 1384.2L1290.5 1384.1" fill="none" stroke="#ff0000" stroke-width="1.9" stroke-linecap="round" stroke-linejoin="round"/>
<path d="M804 1722.9L805 1726.4L806 1727.6L806.9 1724.6L807.9 1725.3L808.9 1722.8L809.9 1725.7L810.9 1728.3L811.8 1725.4L812.8 1726.3L813.8 1728.4L814.8 1731.3L815.8 1726.5L816.8 1728.9L817.8 1729.7L818.8 1727.5L819.8 1729.8L820.8 1730.1L821.8 1729.5L822.8 1724.4L823.8 1729.9L824.8 1730.1L825.8 1728.8L826.8 1728.3L827.8 1723.8L828.8 1728.5L829.8 1726.8L830.8 1723.3L831.8 1728.9L832.8 1726.7L833.8 1725.8L834.8 1728.6L835.8 1726.9L836.8 1728.9L837.8 1726.3L838.8 1729.8L839.8 1727L840.8 1728.8L841.8 1727.3L842.8 1730.4L843.8 1725.6L844.8 1728.2L845.8 1727.5L846.8 1728.6L847.7 1730.7L848.7 1731.5L849.7 1729.7L850.6 1727.4L851.6 1729.7L852.5 1731.4L853.4 1726.8L854.4 1728.6L855.3 1731.2L856.2 1732L857.1 1731.3L858 1730.5L858.8 1736.8L859.7 1734.3L860.6 1733.1L861.5 1735.6L862.4 1739.4L863.2 1735.9L864.1 1733.3L865 1736.7L865.9 1737.8L866.8 1732.7L867.7 1743.6L868.6 1739.8L869.5 1739.7L870.4 1740.8L871.4 1743.2L872.3 1739.2L873.3 1741.1L874.2 1742L875.2 1741.2L876.1 1741.1L877.1 1739.1L878.1 1743.7L879 1742.2L880 1740.7L881 1743.7L881.9 1739.9L882.9 1747.2L883.9 1745.9L884.9 1745.7L885.8 1746L886.8 1746L887.8 1741.1L888.8 1743.5L889.8 1742.9L890.7 1742.6L891.7 1746.1L892.7 1748.3L893.7 1747.3L894.7 1746.9L895.7 1748.2L896.7 1746.3L897.6 1746.1L898.6 1745.9L899.6 1747.1L900.6 1749.2L901.6 1748.9L902.6 1746.2L903.6 1748.8L904.6 1748.9L905.6 1747.6L906.6 1751.1L907.6 1748.3L908.6 1744.8L909.6 1745.5L910.6 1749.5L911.6 1746.9L912.6 1750.7L913.6 1746.8L914.6 1747.3L915.6 1748.4L916.6 1746.9L917.6 1746.3L918.6 1747.9L919.6 1747.9L920.6 1749.9L921.6 1746.8L922.6 1746.4L923.6 1747.5L924.6 1746.7L925.6 1745.2L926.6 1746.3L927.6 1745.6L928.6 1743.6L929.6 1748.6L930.6 1746.6L931.6 1750L932.6 1750.6L933.6 1746.4L934.6 1745.8L935.6 1745L936.6 1750L937.6 1749.4L938.6 1748.2L939.6 1745.4L940.6 1748.4L941.6 1743L942.6 1746.8L943.6 1746.8L944.6 1743.2L945.6 1752.1L946.6 1747L947.6 1747.9L948.6 1747L949.6 1746.9L950.6 1745.7L951.6 1747.5L952.6 1746.7L953.6 1749.5L954.6 1750L955.6 1746.3L956.6 1748.8L957.6 1750.2L958.6 1748.4L959.6 1747.8L960.5 1751.9L961.5 1748.3L962.5 1747.2L963.5 1752.7L964.5 1750.6L965.5 1751.6L966.5 1752.2L967.5 1750.1L968.5 1745L969.5 1748.9L970.4 1749.5L971.4 1749.1L972.4 1750.3L973.4 1749.5L974.4 1751L975.4 1752.6L976.4 1750.5L977.4 1750.7L978.4 1753L979.4 1751.1L980.4 1750L981.4 1751L982.4 1749.6L983.4 1749.1L984.4 1751L985.4 1749.1L986.4 1753L987.4 1750.8L988.4 1754.7L989.4 1751.3L990.4 1753.8L991.4 1754.5L992.4 1752.2L993.4 1751.5L994.4 1754.2L995.4 1757.4L996.4 1750.8L997.4 1751.2L998.4 1747.6L999.4 1753.5L1000.4 1751.9L1001.4 1752.4L1002.4 1749.9L1003.4 1752.3L1004.4 1754.2L1005.4 1750.8L1006.4 1753.8L1007.4 1751.7L1008.4 1752.3L1009.4 1754.3L1010.4 1752.9L1011.4 1752.2L1012.4 1748.3L1013.4 1752.8L1014.4 1750.8L1015.4 1752.3L1016.4 1753.2L1017.4 1752.1L1018.3 1750.3L1019.3 1751.7L1020.3 1752L1021.2 1749.6L1022.2 1748.2L1023.1 1748.5L1024 1748.6L1024.9 1748.2L1025.8 1750.6L1026.7 1748.8L1027.6 1748L1028.5 1748.5L1029.3 1747.7L1030.2 1744.8L1031 1743.2L1031.8 1747L1032.7 1747.1L1033.5 1748.8L1034.3 1746.2L1035.1 1742.8L1035.9 1737.5L1036.7 1742.4L1037.5 1741.1L1038.3 1738.5L1039.1 1743L1039.9 1736.3L1040.7 1735L1041.5 1735.8L1042.4 1735.7L1043.2 1737.4L1044 1731.5L1044.9 1735L1045.8 1735.8L1046.7 1736.9L1047.5 1734.3L1048.4 1736.8L1049.3 1733.2L1050.2 1731.6L1051.1 1733.3L1052 1730.8L1052.9 1732.2L1053.8 1731L1054.7 1730.9L1055.6 1726.7L1056.5 1726.1L1057.4 1726L1058.3 1730.2L1059.1 1730.2L1060 1726.9L1060.8 1730.2L1061.7 1724.8L1062.5 1725L1063.3 1726.4L1064.2 1723.1L1065 1721.9L1065.8 1725.2L1066.5 1721.8L1067.3 1719.9L1068.1 1721.9L1068.9 1720.4L1069.7 1715.3L1070.4 1716.9L1071.2 1720.5L1071.9 1718.7L1072.7 1717.3L1073.5 1714.3L1074.2 1714.5L1075 1716.7L1075.8 1715.6L1076.6 1711.4L1077.4 1715L1078.1 1711L1078.9 1714.7L1079.7 1711.7L1080.5 1711.4L1081.4 1710.4L1082.2 1715.6L1083 1708.9L1083.9 1708.3L1084.7 1708.5L1085.6 1709.4L1086.5 1707.6L1087.3 1704.4L1088.2 1705.2L1089.1 1704.8L1090 1703.6L1090.8 1705L1091.7 1705.7L1092.6 1702.6L1093.5 1700.7L1094.4 1700.3L1095.3 1701.6L1096.2 1707.3L1097.1 1700.6L1098 1699.7L1098.9 1702.2L1099.9 1699.9L1100.8 1698.4L1101.7 1700.4L1102.6 1701.4L1103.6 1700.9L1104.5 1697.7L1105.5 1698.5L1106.5 1696.7L1107.4 1696.5L1108.4 1700.2L1109.4 1701.3L1110.4 1698.2L1111.4 1698.4L1112.4 1695.1L1113.4 1697.4L1114.4 1695.8L1115.4 1693.5L1116.4 1696.1L1117.3 1699.6L1118.3 1698.4L1119.2 1695L1120.1 1695.6L1121 1695L1121.7 1696.4L1122.5 1694.2L1123.2 1692.8L1123.8 1692.9L1124.4 1690.4L1125 1689.7L1125.6 1691.8L1126.1 1688.4L1126.6 1687.9L1127.1 1685.8L1127.5 1684L1128 1684.9L1128.4 1682.4L1128.9 1683.2L1129.3 1683.3L1129.7 1680.8L1130.2 1679.2L1130.6 1680.5L1131 1675.7L1131.5 1677.4L1131.9 1676.3L1132.4 1676.5L1132.9 1673.7L1133.3 1673.3L1133.8 1672.8L1134.3 1670L1134.8 1671.6L1135.3 1669.9L1135.8 1673.7L1136.2 1669L1136.7 1671.6L1137.2 1666.2L1137.6 1667.4L1138.1 1660.7L1138.6 1668.2L1139 1666.8L1139.5 1660.9L1139.9 1664.8L1140.3 1661.2L1140.8 1660.1L1141.2 1659.2L1141.6 1658.4L1142.1 1657.4L1142.5 1656.5L1142.9 1655.5L1143.3 1654.8L1143.7 1653.8L1144.1 1652.9L1144.4 1652L1144.8 1651.1L1145.2 1650.2L1145.6 1649.1L1145.9 1648.3L1146.3 1647.3L1146.6 1646.3L1147 1645.6L1147.3 1644.5L1147.7 1643.8L1148 1642.7L1148.3 1641.6L1148.7 1640.8L1149 1639.7L1149.3 1638.7L1149.7 1637.7L1150 1636.8L1150.3 1635.9L1150.6 1635.1L1150.9 1633.9L1151.2 1633.2L1151.5 1632.2L1151.8 1631.3L1152.1 1630.3L1152.4 1629.1L1152.7 1628.4L1152.9 1627.2L1153.2 1626.5L1153.5 1625.4L1153.8 1624.3L1154 1623.5L1154.3 1622.7L1154.6 1621.6L1154.8 1620.6L1155.1 1619.5L1155.3 1618.6L1155.6 1617.7L1155.8 1616.7L1156.1 1615.8L1156.3 1614.7L1156.5 1613.7L1156.8 1612.8L1157 1611.9L1157.2 1610.9L1157.4 1609.8L1157.6 1608.9L1157.9 1607.9L1158.1 1607L1158.3 1606L1158.5 1605.2L1158.7 1604L1158.9 1603L1159.1 1601.8L1159.2 1601L1159.4 1600L1159.6 1599L1159.8 1597.9L1160 1597L1160.2 1596.1L1160.3 1595.2L1160.5 1594.2L1160.7 1593L1160.9 1592.2L1161 1591.3L1161.2 1590.2L1161.4 1589.3L1161.6 1588.2L1161.7 1587.2L1161.9 1586.1L1162.1 1585.4L1162.2 1584.2L1162.4 1583.3L1162.6 1582.4L1162.7 1581.2L1162.9 1580.3L1163.1 1579.3L1163.2 1578.3L1163.4 1577.4L1163.5 1576.3L1163.7 1575.3L1163.9 1574.4L1164 1573.7L1164.2 1572.2L1164.4 1571.4L1164.5 1570.5L1164.7 1569.5L1164.9 1568.4L1165 1567.3L1165.2 1566.5L1165.3 1565.4L1165.5 1564.3L1165.6 1563.4L1165.8 1562.6L1165.9 1561.6L1166.1 1560.6L1166.2 1559.6L1166.4 1558.5L1166.5 1557.6L1166.7 1556.6L1166.8 1555.7L1167 1554.6L1167.1 1553.6L1167.2 1552.4L1167.4 1551.8L1167.5 1550.6L1167.7 1549.5L1167.8 1548.6L1167.9 1547.6L1168.1 1546.7L1168.2 1545.7L1168.3 1544.6L1168.5 1543.7L1168.6 1542.6L1168.8 1541.7L1168.9 1540.7L1169 1539.6L1169.2 1538.5L1169.3 1537.8L1169.4 1536.7L1169.6 1535.8L1169.7 1534.7L1169.8 1533.6L1170 1532.8L1170.1 1531.7L1170.2 1531L1170.4 1529.8L1170.5 1529L1170.6 1527.8L1170.8 1526.7L1170.9 1525.8L1171.1 1524.9L1171.2 1523.7L1171.3 1522.7L1171.5 1521.6L1171.6 1520.8L1171.7 1519.9L1171.9 1518.9L1172 1517.8L1172.2 1516.8L1172.3 1515.9L1172.5 1514.8L1172.6 1514L1172.7 1513L1172.9 1511.8L1173 1510.8L1173.2 1510.1L1173.3 1508.9L1173.5 1508L1173.6 1507.1L1173.8 1505.7L1173.9 1504.9L1174 1503.9L1174.2 1503L1174.3 1501.9L1174.5 1500.9L1174.6 1500L1174.8 1498.9L1174.9 1497.9L1175 1497L1175.2 1496L1175.3 1495L1175.5 1494.1L1175.6 1493L1175.7 1492.1L1175.9 1490.9L1176 1490.2L1176.2 1489L1176.3 1488L1176.5 1487L1176.6 1486L1176.8 1485L1176.9 1484.1L1177 1483.1L1177.2 1482L1177.3 1481.1L1177.5 1480L1177.6 1479.1L1177.8 1478.3L1177.9 1477.1L1178.1 1476.1L1178.2 1475.2L1178.4 1474.1L1178.5 1473.1L1178.7 1472.2L1178.9 1471.3L1179 1470.1L1179.2 1469.2L1179.3 1468.2L1179.5 1467.3L1179.7 1466.3L1179.8 1465.1L1180 1464.3L1180.2 1463.2L1180.3 1462.3L1180.5 1461.2L1180.7 1460.3L1180.8 1459.3L1181 1458.3L1181.2 1457.3L1181.4 1456.3L1181.6 1455.3L1181.7 1454.4L1181.9 1453.5L1182.1 1452.5L1182.3 1451.4L1182.5 1450.3L1182.7 1449.4L1182.8 1448.6L1183 1447.6L1183.2 1446.7L1183.4 1445.4L1183.6 1444.3L1183.8 1443.7L1184 1442.6L1184.2 1441.7L1184.4 1440.7L1184.6 1439.8L1184.8 1438.5L1185 1437.7L1185.2 1436.9L1185.4 1435.8L1185.6 1434.7L1185.8 1433.8L1186 1432.7L1186.2 1431.6L1186.5 1430.9L1186.7 1429.9L1186.9 1428.9L1187.1 1427.8L1187.3 1426.6L1187.6 1425.9L1187.8 1424.8L1188 1424.1L1188.3 1423L1188.5 1422L1188.8 1421L1189 1420.1L1189.3 1419.2L1189.5 1418.1L1189.8 1417.1L1190 1416.3L1190.3 1415.3L1190.5 1414.3L1190.8 1413.3L1191 1412.3L1191.3 1411.4L1191.6 1410.4L1191.9 1409.4L1192.2 1408.6L1192.5 1407.5L1192.8 1406.5L1193.2 1405.7L1193.5 1404.7L1193.9 1403.7L1194.4 1402.8L1194.8 1402L1195.3 1401L1195.7 1400.2L1196.2 1399L1196.6 1398.6L1197.2 1397.7L1197.7 1396.8L1198.3 1396L1198.9 1395.1L1199.6 1394.5L1200.4 1393.6L1201.1 1393.2L1202 1392.5L1202.9 1391.9L1203.8 1391.7L1204.7 1391.3L1205.6 1391.2L1206.6 1390.7L1207.6 1390.5L1208.6 1390.3L1209.5 1390L1210.5 1389.9L1211.5 1389.6L1212.5 1389.6L1213.5 1389.4L1214.5 1389.3L1215.5 1389.3L1216.5 1389.2L1217.5 1389.1L1218.5 1388.9L1219.5 1388.7L1220.5 1388.8L1221.5 1388.4L1222.5 1388.3L1223.5 1388.4L1224.5 1388.1L1225.5 1388.1L1226.5 1387.9L1227.5 1387.9L1228.5 1387.8L1229.5 1388.1L1230.5 1387.7L1231.5 1387.5L1232.5 1387.6L1233.5 1387.6L1234.5 1387.5L1235.5 1387.6L1236.5 1387.2L1237.5 1387.4L1238.5 1387.4L1239.5 1387.4L1240.5 1387.1L1241.5 1387.4L1242.5 1387.1L1243.5 1387.2L1244.5 1387.1L1245.5 1387.2L1246.5 1387L1247.5 1387L1248.5 1387L1249.5 1387L1250.5 1386.9L1251.5 1386.9L1252.5 1386.7L1253.5 1386.8L1254.5 1386.8L1255.5 1386.7L1256.5 1386.6L1257.5 1386.6L1258.5 1386.6L1259.5 1386.5L1260.5 1386.5L1261.5 1386.3L1262.5 1386.4L1263.5 1386.2L1264.5 1386.1L1265.5 1386.2L1266.5 1386L1267.5 1386.1L1268.5 1386L1269.5 1385.7L1270.5 1385.8L1271.5 1385.6L1272.5 1385.7L1273.5 1385.6L1274.5 1385.5L1275.5 1385.4L1276.5 1385.5L1277.5 1385.3L1278.5 1385.2L1279.5 1385.1L1280.5 1385L1281.5 1385L1282.5 1384.9L1283.5 1384.8L1284.5 1384.8L1285.5 1384.9L1286.5 1384.7L1287.5 1384.5L1288.5 1384.6L1289.5 1384.6L1290.5 1384.4" fill="none" stroke="#ff0000" stroke-width="3.0" stroke-linecap="round" stroke-linejoin="round"/>
<path d="M804.5 1695.4L805.4 1696.7L806.2 1698.5L807.1 1697.5L807.9 1700.2L808.7 1700.9L809.6 1699L810.4 1699.4L811.2 1702.4L812 1701.6L812.8 1703.7L813.6 1703.8L814.5 1702.8L815.3 1703.8L816.1 1704.2L817 1705.2L817.9 1705.8L818.7 1706.3L819.6 1706.3L820.6 1710.3L821.5 1706.2L822.4 1708L823.4 1708.3L824.4 1709.9L825.4 1709.4L826.4 1707.7L827.4 1708.5L828.4 1710L829.4 1707.9L830.4 1706.3L831.3 1707.6L832.3 1705.9L833.2 1706.5L834.1 1706.2L835 1705.7L835.9 1705.4L836.8 1705.6L837.7 1705.6L838.6 1705.2L839.5 1704.5L840.4 1704.3L841.3 1704.4L842.2 1703L843.1 1703.1L843.9 1701.9L844.8 1700.8L845.7 1700.4L846.6 1702.4L847.5 1701.1L848.4 1700.2L849.4 1698.6L850.3 1698.3L851.2 1699.3L852.2 1698.9L853.1 1696.7L854.1 1695.4L855 1696.1L856 1697.5L856.9 1694.9L857.9 1698L858.8 1696.5L859.8 1696.5L860.8 1695.2L861.7 1694.5L862.7 1692.7L863.6 1694.2L864.6 1693.7L865.5 1693.5L866.5 1694.3L867.5 1692.2L868.4 1693.1L869.4 1692.8L870.4 1691.8L871.3 1690.7L872.3 1692.8L873.3 1692.9L874.3 1690.8L875.3 1690.4L876.3 1690.6L877.2 1690.7L878.2 1691.6L879.2 1690.9L880.2 1689.8L881.2 1690.7L882.2 1690.7L883.2 1693L884.2 1691.9L885.2 1688.9L886.2 1690.7L887.2 1690.8L888.2 1690L889.2 1690L890.2 1692.6L891.2 1692.5L892.2 1689.6L893.2 1692.6L894.2 1691.7L895.2 1691.4L896.2 1691.3L897.2 1691.1L898.2 1693.4L899.2 1692.8L900.2 1693L901.2 1691.6L902.2 1692L903.2 1693.3L904.2 1692.3L905.2 1692.9L906.2 1692.2L907.2 1694.5L908.2 1690.9L909.2 1692.9L910.2 1692.5L911.2 1690.6L912.2 1693L913.2 1693.4L914.2 1693.7L915.2 1694.3L916.2 1692L917.2 1691.9L918.2 1693.4L919.2 1693.2L920.2 1691.2L921.2 1692.9L922.2 1692.8L923.2 1693.9L924.2 1695L925.2 1694.2L926.2 1695.7L927.2 1693L928.2 1692.9L929.2 1694.4L930.2 1693.9L931.2 1695.1L932.2 1691.4L933.2 1694.4L934.2 1693.1L935.2 1694.3L936.2 1692.9L937.2 1692.7L938.2 1692.7L939.2 1695.5L940.2 1691.4L941.1 1693.7L942.1 1694.4L943.1 1691.9L944 1691.1L945 1690L945.9 1691.9L946.8 1691.6L947.7 1691.5L948.6 1689.7L949.5 1689.4L950.3 1687.7L951.2 1688.5L952.1 1687.1L953 1685.5L953.9 1688.4L954.8 1683.8L955.7 1686.5L956.7 1685.8L957.6 1684.2L958.6 1684.7L959.6 1684.5L960.6 1686.7L961.6 1683.8L962.6 1684.2L963.6 1687.2L964.6 1684.1L965.6 1684L966.6 1683.4L967.6 1684.5L968.6 1684.2L969.6 1685.2L970.6 1685.9L971.6 1686.4L972.6 1685.5L973.6 1685.9L974.6 1684.6L975.6 1685.8L976.6 1686.2L977.5 1685.3L978.5 1687.2L979.5 1687.7L980.5 1687.1L981.5 1684.5L982.5 1687L983.5 1685.9L984.5 1686L985.6 1686.7L986.6 1684.7L987.6 1685.4L988.6 1686.8L989.6 1686.1L990.6 1684.9L991.6 1688.2L992.6 1683.7L993.6 1685.6L994.6 1684.8L995.6 1686.7L996.6 1685.2L997.6 1684.6L998.6 1685.7L999.6 1685.7L1000.6 1685.4L1001.6 1687L1002.6 1685.2L1003.6 1685.8L1004.6 1684.5L1005.6 1686.9L1006.6 1684.1L1007.6 1686.5L1008.6 1685.6L1009.6 1684L1010.6 1684.1L1011.6 1685.1L1012.6 1684.8L1013.6 1687.1L1014.6 1683.1L1015.6 1683.9L1016.6 1683.9L1017.6 1683.5L1018.6 1686L1019.5 1685.7L1020.5 1685L1021.5 1681.9L1022.5 1683L1023.5 1685.2L1024.5 1686.7L1025.5 1684.2L1026.5 1684L1027.5 1683.5L1028.5 1680.8L1029.5 1682.9L1030.5 1684.2L1031.4 1681.4L1032.4 1681L1033.4 1680.8L1034.4 1681.6L1035.4 1683.5L1036.4 1683.2L1037.4 1681.2L1038.4 1681.4L1039.4 1682.9L1040.3 1681.1L1041.3 1681.7L1042.3 1680.3L1043.3 1680.2L1044.3 1681.6L1045.3 1680.3L1046.3 1681L1047.3 1681L1048.3 1680.6L1049.3 1679L1050.3 1679.5L1051.3 1678.9L1052.3 1678.5L1053.2 1680L1054.2 1679.1L1055.2 1679.2L1056.2 1679.3L1057.2 1679L1058.2 1680.4L1059.2 1679.6L1060.2 1677.6L1061.2 1678.5L1062.2 1680.4L1063.2 1678.1L1064.2 1677.5L1065.2 1679.3L1066.1 1677L1067.1 1678.3L1068.1 1679.2L1069 1676L1070 1676.2L1070.9 1676.6L1071.8 1675.4L1072.7 1675.1L1073.6 1674.4L1074.5 1672.7L1075.4 1674.6L1076.2 1673.3L1077 1673.1L1077.8 1673.4L1078.6 1670.2L1079.3 1671.6L1080.1 1670.4L1080.8 1669.5L1081.6 1668.5L1082.3 1668.5L1083 1667.2L1083.7 1666.5L1084.4 1665.8L1085.1 1665.4L1085.7 1664.6L1086.4 1664.7L1087.1 1663L1087.8 1662L1088.5 1661.5L1089.2 1661L1089.9 1659.4L1090.6 1659.5L1091.3 1658.5L1092 1657.3L1092.7 1656.5L1093.4 1656.5L1094 1656.3L1094.7 1656.4L1095.4 1654.5L1096 1653.7L1096.6 1652.3L1097.2 1652L1097.8 1652.2L1098.4 1649.6L1099 1649.5L1099.5 1648.6L1100 1647.9L1100.6 1647.4L1101.1 1646L1101.5 1643.6L1102 1644.6L1102.5 1642L1102.9 1642.4L1103.4 1640.6L1103.8 1640L1104.2 1640.1L1104.6 1637.8L1105.1 1638.6L1105.5 1636.8L1105.9 1635.3L1106.3 1637L1106.7 1634.5L1107 1634.3L1107.4 1632.7L1107.8 1631.9L1108.2 1630.1L1108.6 1629L1108.9 1628.7L1109.3 1629.4L1109.7 1627.5L1110.1 1625.2L1110.4 1624.3L1110.8 1625.2L1111.2 1623.3L1111.5 1621.6L1111.9 1621.9L1112.3 1620.6L1112.6 1620L1113 1619.5L1113.3 1617.5L1113.7 1616.4L1114.1 1616L1114.4 1614.8L1114.8 1612.3L1115.2 1613.6L1115.5 1611.7L1115.9 1610.2L1116.3 1611.6L1116.6 1608.4L1117 1609L1117.3 1607.5L1117.7 1605.5L1118 1605.4L1118.4 1605.4L1118.7 1603.6L1119.1 1602.7L1119.4 1601.7L1119.8 1601.1L1120.1 1599.9L1120.4 1598.9L1120.8 1597.9L1121.1 1597.1L1121.4 1596L1121.7 1595.3L1122.1 1594.1L1122.4 1593.3L1122.7 1592.4L1123 1591.2L1123.4 1590.5L1123.7 1589.3L1124 1588.3L1124.3 1587.3L1124.6 1586.5L1124.9 1585.8L1125.2 1584.4L1125.6 1583.8L1125.9 1582.8L1126.2 1581.7L1126.5 1580.7L1126.8 1579.8L1127.1 1578.8L1127.4 1577.9L1127.7 1577L1128 1576L1128.2 1575L1128.5 1574.1L1128.8 1573.4L1129.1 1572.1L1129.4 1571.4L1129.7 1570.3L1130 1569.2L1130.2 1568.3L1130.5 1567.6L1130.8 1566.6L1131.1 1565.7L1131.4 1564.5L1131.6 1563.7L1131.9 1562.7L1132.2 1561.7L1132.5 1560.5L1132.7 1559.7L1133 1558.8L1133.3 1558L1133.6 1556.8L1133.8 1555.8L1134.1 1554.8L1134.4 1554L1134.6 1553L1134.9 1552L1135.2 1551L1135.5 1549.8L1135.7 1549.2L1136 1548.1L1136.3 1547.2L1136.5 1546.2L1136.8 1545.2L1137.1 1544.3L1137.3 1543.4L1137.6 1542.4L1137.8 1541.4L1138.1 1540.5L1138.3 1539.5L1138.6 1538.4L1138.8 1537.4L1139.1 1536.7L1139.4 1535.5L1139.6 1534.7L1139.9 1533.8L1140.1 1532.7L1140.4 1531.4L1140.6 1530.7L1140.9 1529.9L1141.1 1528.9L1141.3 1527.7L1141.6 1526.8L1141.8 1525.6L1142.1 1525L1142.3 1524L1142.6 1522.8L1142.8 1522.1L1143.1 1521.1L1143.3 1520.1L1143.6 1519.1L1143.9 1518.2L1144.1 1517.3L1144.4 1516.1L1144.6 1515.1L1144.9 1514.2L1145.1 1513L1145.4 1512.6L1145.7 1511.5L1145.9 1510.6L1146.2 1509.5L1146.5 1508.4L1146.7 1507.6L1147 1506.4L1147.3 1505.4L1147.5 1504.8L1147.8 1503.5L1148.1 1502.5L1148.3 1501.6L1148.6 1500.7L1148.9 1499.8L1149.2 1498.7L1149.4 1497.9L1149.7 1496.9L1150 1496.1L1150.3 1494.8L1150.5 1493.7L1150.8 1493.1L1151.1 1492.1L1151.4 1491.3L1151.6 1490.2L1151.9 1489.2L1152.2 1488.1L1152.5 1487.2L1152.8 1486.3L1153.1 1485.4L1153.3 1484.3L1153.6 1483.4L1153.9 1482.4L1154.2 1481.6L1154.5 1480.6L1154.8 1479.5L1155.1 1478.6L1155.4 1477.5L1155.7 1476.6L1156 1475.8L1156.3 1474.6L1156.6 1473.8L1156.9 1472.9L1157.2 1471.9L1157.5 1470.8L1157.8 1470.2L1158.2 1469.2L1158.5 1468L1158.8 1466.9L1159.1 1466.5L1159.4 1465.3L1159.7 1464.4L1160.1 1463.1L1160.4 1462.6L1160.7 1461.4L1161 1460.5L1161.4 1459.4L1161.7 1458.7L1162 1457.6L1162.4 1456.6L1162.7 1455.8L1163 1454.9L1163.4 1453.9L1163.7 1453L1164.1 1452L1164.4 1451.2L1164.8 1450.2L1165.1 1449.4L1165.5 1448.2L1165.8 1447.4L1166.2 1446.5L1166.5 1445.3L1166.9 1444.6L1167.3 1443.6L1167.7 1443L1168 1441.7L1168.4 1440.6L1168.8 1439.8L1169.2 1438.9L1169.5 1438.2L1169.9 1437L1170.3 1436.3L1170.7 1435.3L1171.1 1434.5L1171.5 1433.3L1171.9 1432.5L1172.3 1431.4L1172.7 1430.9L1173.1 1429.9L1173.5 1428.9L1173.9 1428L1174.3 1426.9L1174.7 1426.2L1175.2 1425.2L1175.6 1424.2L1176.1 1423.3L1176.5 1422.6L1177 1421.5L1177.5 1420.8L1178 1419.8L1178.5 1419L1179 1418.2L1179.5 1417.3L1180 1416.5L1180.5 1415.6L1181.1 1414.6L1181.6 1413.8L1182.2 1413.2L1182.8 1412.5L1183.3 1411.5L1183.9 1410.5L1184.5 1409.8L1185.1 1409.3L1185.7 1408.1L1186.4 1407.4L1187 1406.5L1187.7 1405.9L1188.3 1405.2L1189 1404.5L1189.6 1403.8L1190.3 1402.9L1191 1402.2L1191.6 1401.4L1192.3 1400.7L1193 1400.1L1193.7 1399.1L1194.5 1398.4L1195.2 1398L1196 1397.2L1196.8 1396.9L1197.6 1396.1L1198.5 1395.8L1199.3 1395.1L1200.2 1394.7L1201.1 1394.3L1202.1 1393.8L1203 1393.5L1203.9 1393.1L1204.9 1392.7L1205.9 1392.5L1206.8 1392.1L1207.8 1392.2L1208.8 1391.7L1209.7 1391.7L1210.7 1391.3L1211.7 1391.2L1212.7 1391L1213.7 1390.9L1214.7 1390.6L1215.7 1390.4L1216.6 1390.4L1217.6 1390.2L1218.6 1390L1219.6 1389.9L1220.6 1389.9L1221.6 1389.5L1222.6 1389.4L1223.6 1389.3L1224.6 1389L1225.6 1389.3L1226.6 1389L1227.6 1388.7L1228.6 1389L1229.6 1388.7L1230.6 1388.4L1231.6 1388.3L1232.6 1388.4L1233.6 1388.4L1234.6 1388.5L1235.6 1388.4L1236.6 1388.2L1237.6 1388.2L1238.6 1388.1L1239.6 1388.2L1240.6 1387.9L1241.6 1388L1242.6 1388.1L1243.6 1387.8L1244.6 1387.8L1245.6 1387.7L1246.6 1387.7L1247.6 1387.7L1248.6 1387.5L1249.6 1387.6L1250.6 1387.7L1251.6 1387.5L1252.6 1387.5L1253.6 1387.4L1254.6 1387.4L1255.6 1387.5L1256.6 1387.1L1257.6 1387L1258.6 1387.1L1259.6 1386.8L1260.6 1386.9L1261.6 1386.7L1262.6 1386.7L1263.6 1386.7L1264.6 1386.9L1265.6 1386.9L1266.5 1386.8L1267.5 1386.4L1268.5 1386.4L1269.5 1386.2L1270.5 1386.3L1271.5 1386L1272.5 1386L1273.5 1385.7L1274.5 1385.6L1275.5 1385.7L1276.5 1385.8L1277.5 1385.6L1278.5 1385.4L1279.5 1385.4L1280.5 1385.1L1281.5 1385.2L1282.5 1385.1L1283.5 1384.9L1284.5 1384.7L1285.5 1385.1L1286.5 1384.6L1287.5 1384.7L1288.5 1384.8L1289.5 1384.4L1290.5 1384.4" fill="none" stroke="#000" stroke-width="2.6" stroke-linecap="butt" stroke-linejoin="round" stroke-dasharray="3 2.2"/>
<path d="M804.5 1669.1L805.5 1668.8L806.5 1668.3L807.5 1669L808.5 1673.7L809.5 1672.1L810.5 1671.4L811.5 1672.9L812.5 1674.9L813.5 1673.2L814.5 1674.8L815.5 1672.8L816.5 1672.8L817.5 1670.9L818.5 1665.9L819.5 1673.7L820.5 1675.4L821.5 1673.9L822.5 1675.4L823.5 1675.6L824.5 1670.6L825.4 1666.9L826.4 1670L827.3 1673.2L828.3 1674.7L829.2 1674L830.1 1672.8L831 1677L831.9 1678.8L832.8 1676.9L833.7 1676.4L834.6 1674.7L835.5 1676.5L836.4 1680.4L837.3 1682.7L838.3 1681.8L839.2 1676.3L840.1 1677.4L841.1 1677.2L842.1 1672.9L843.1 1675.2L844.1 1676.1L845.1 1679.7L846.1 1682.5L847 1681.6L848 1678.7L848.9 1677.2L849.8 1681.2L850.6 1677.5L851.4 1672.8L852.2 1673.6L852.9 1671.9L853.7 1673L854.4 1676.2L855.1 1675.7L855.8 1673.7L856.6 1675.9L857.3 1673.2L858 1668.8L858.8 1672.8L859.5 1673.9L860.3 1666.6L861.1 1670.1L862 1675.4L862.8 1671L863.7 1666.5L864.7 1662.8L865.6 1667.3L866.6 1669.4L867.6 1666.6L868.6 1667.8L869.6 1664.3L870.6 1663.6L871.6 1666.5L872.6 1668L873.6 1668.4L874.6 1664.6L875.6 1663L876.6 1665.9L877.6 1664.2L878.6 1666.8L879.5 1670.7L880.5 1668L881.5 1664.3L882.5 1661.4L883.5 1672.5L884.5 1675L885.5 1669.5L886.5 1665.8L887.5 1660L888.5 1661.6L889.5 1668.5L890.5 1672.7L891.5 1668.1L892.5 1664.3L893.5 1666.4L894.5 1662.1L895.4 1662.4L896.4 1669.5L897.4 1671L898.4 1669.3L899.3 1665.7L900.3 1665.5L901.3 1665.4L902.3 1661.9L903.2 1661.4L904.2 1663.1L905.2 1669.6L906.2 1668.7L907.1 1662.9L908.1 1663.7L909.1 1661.4L910.1 1662.6L911.1 1661.4L912.1 1659L913.1 1662.2L914.1 1664.3L915.1 1666.6L916.1 1667.9L917.1 1661.4L918.1 1663.7L919 1667.3L920 1670L921 1675.3L922 1666.9L922.9 1662.6L923.9 1665.7L924.8 1671.5L925.7 1672.3L926.7 1666.4L927.6 1665.7L928.6 1666.9L929.5 1666.8L930.5 1668.9L931.5 1671.5L932.5 1671.5L933.4 1666.7L934.4 1663.4L935.4 1665.8L936.4 1667.9L937.4 1666.8L938.4 1668.3L939.4 1668.3L940.4 1665L941.4 1664.2L942.4 1665.9L943.4 1665.7L944.4 1666.3L945.4 1668.6L946.4 1668.3L947.3 1667.4L948.3 1665L949.3 1663.3L950.3 1664.9L951.2 1668.8L952.2 1671.2L953.2 1668.6L954.1 1661.9L955.1 1659.2L956 1663.5L957 1666.1L957.9 1661.6L958.9 1662.3L959.8 1669.6L960.7 1664L961.6 1659.3L962.5 1662L963.4 1659.7L964.3 1657.6L965.1 1651L966 1649L966.9 1655.1L967.8 1655.3L968.8 1652.1L969.7 1660.5L970.6 1660.8L971.6 1659.2L972.6 1659L973.5 1652.6L974.5 1654.9L975.5 1659.3L976.5 1660.8L977.5 1657.7L978.5 1658.1L979.5 1662.7L980.5 1662L981.4 1659.4L982.4 1655.4L983.3 1652.7L984.3 1658L985.2 1664.2L986.2 1659L987.1 1655.9L988.1 1661.9L989.1 1664.2L990.1 1659.5L991.1 1654.8L992.1 1659.5L993.1 1658.9L994.1 1657.5L995 1660L996 1661L997 1660L997.9 1659.9L998.9 1660.6L999.8 1661.3L1000.7 1660.8L1001.6 1656.2L1002.5 1656.5L1003.4 1658.1L1004.3 1656.6L1005.2 1659.4L1006.1 1659.3L1007 1654.4L1007.9 1652.1L1008.8 1647.8L1009.7 1648.5L1010.7 1652.3L1011.6 1654L1012.6 1653.8L1013.5 1649.7L1014.5 1650.5L1015.5 1652.4L1016.5 1650.8L1017.4 1654L1018.4 1655.7L1019.4 1653.8L1020.4 1651.2L1021.4 1647L1022.4 1647.3L1023.4 1648.9L1024.3 1649.5L1025.3 1652.1L1026.3 1653.8L1027.3 1652.9L1028.3 1652.4L1029.3 1648.9L1030.3 1650.1L1031.2 1652.2L1032.2 1650L1033.2 1651.6L1034.1 1650.3L1035.1 1644.3L1036.1 1642L1037 1646.8L1038 1646.7L1039 1640.8L1039.9 1642.2L1040.9 1642.5L1041.8 1642.7L1042.8 1645L1043.8 1646.9L1044.7 1645.4L1045.7 1639.9L1046.7 1644.7L1047.7 1644.3L1048.7 1643.4L1049.6 1647.4L1050.6 1652.4L1051.6 1648.6L1052.6 1642.8L1053.6 1641.2L1054.6 1641.1L1055.6 1641.3L1056.6 1639.9L1057.5 1643.2L1058.5 1645.2L1059.5 1644.4L1060.5 1642.5L1061.4 1642.8L1062.4 1642.2L1063.4 1639.9L1064.3 1640.7L1065.3 1641.4L1066.2 1640.5L1067.1 1638.6L1068 1637.2L1068.9 1640L1069.7 1639.1L1070.5 1635.9L1071.3 1633.1L1072.1 1633.3L1072.9 1634.9L1073.6 1635.2L1074.4 1633.5L1075.1 1634.3L1075.8 1635.2L1076.5 1633.9L1077.1 1632.2L1077.8 1630.6L1078.5 1629.9L1079.1 1629.5L1079.7 1627L1080.4 1625.8L1081 1626.7L1081.6 1624.8L1082.2 1622.4L1082.9 1622.4L1083.5 1625.9L1084.1 1627.5L1084.7 1624.6L1085.2 1621L1085.8 1620.4L1086.4 1621.1L1086.9 1618.6L1087.4 1617.2L1087.9 1617.7L1088.4 1617L1088.9 1617.6L1089.4 1616.8L1089.9 1614.7L1090.4 1613.3L1090.9 1610.4L1091.4 1609.4L1091.9 1610.5L1092.4 1610L1092.9 1609.3L1093.4 1609.4L1093.9 1607.9L1094.4 1604.7L1094.9 1603.2L1095.5 1603.6L1096 1603.2L1096.5 1601.5L1097 1601.2L1097.5 1603.6L1098 1602.6L1098.5 1600.3L1099 1596.6L1099.5 1594.3L1100 1595.7L1100.5 1594.5L1101 1594.6L1101.5 1595.3L1101.9 1594.2L1102.4 1591L1102.8 1587.9L1103.3 1590.4L1103.7 1589.3L1104.1 1587.3L1104.6 1587.8L1105 1589.4L1105.4 1587.3L1105.8 1582.1L1106.2 1582.7L1106.6 1584.6L1107 1584.9L1107.3 1581.6L1107.7 1580L1108.1 1578L1108.5 1578L1108.8 1579.9L1109.2 1574L1109.5 1572.6L1109.9 1573.6L1110.2 1573.7L1110.6 1573L1110.9 1572L1111.3 1570.8L1111.6 1570.1L1111.9 1569.4L1112.3 1568.2L1112.6 1567.1L1112.9 1566.2L1113.3 1565.5L1113.6 1564.6L1113.9 1563.6L1114.2 1562.6L1114.6 1561.5L1114.9 1560.5L1115.2 1559.6L1115.5 1558.6L1115.8 1557.6L1116.1 1556.7L1116.4 1555.7L1116.8 1554.7L1117.1 1553.9L1117.4 1553.1L1117.6 1552.3L1117.9 1551.2L1118.2 1550.1L1118.5 1549L1118.8 1548.2L1119.1 1547.5L1119.4 1546.4L1119.7 1545.2L1119.9 1544.4L1120.2 1543.5L1120.5 1542.6L1120.8 1541.5L1121.1 1540.7L1121.3 1539.7L1121.6 1538.6L1121.9 1537.7L1122.1 1536.8L1122.4 1535.9L1122.7 1534.9L1123 1534L1123.2 1533.1L1123.5 1532L1123.8 1531.1L1124 1530.3L1124.3 1529L1124.5 1527.9L1124.8 1527.2L1125.1 1526L1125.3 1525L1125.6 1524.1L1125.9 1523.1L1126.1 1522.2L1126.4 1521.1L1126.6 1520.1L1126.9 1519.2L1127.1 1518.4L1127.4 1517.4L1127.6 1516.2L1127.8 1515.3L1128.1 1514.2L1128.3 1513.4L1128.5 1512.4L1128.8 1511.4L1129 1510.5L1129.3 1509.5L1129.5 1508.4L1129.7 1507.5L1130 1506.7L1130.2 1505.6L1130.4 1504.5L1130.7 1503.6L1130.9 1502.6L1131.1 1501.8L1131.3 1500.7L1131.6 1499.7L1131.8 1499L1132.1 1498L1132.3 1496.7L1132.5 1495.6L1132.8 1494.9L1133 1494L1133.3 1493L1133.5 1492.1L1133.7 1491.2L1134 1490L1134.2 1488.8L1134.5 1488.1L1134.7 1487.3L1135 1486.3L1135.3 1485.3L1135.5 1484.3L1135.8 1483.4L1136.1 1482.4L1136.3 1481.3L1136.6 1480.5L1136.9 1479.5L1137.2 1478.4L1137.4 1477.6L1137.7 1476.5L1138 1475.5L1138.3 1474.3L1138.5 1473.3L1138.8 1472.6L1139.1 1471.7L1139.4 1470.7L1139.7 1470L1139.9 1468.9L1140.2 1467.8L1140.5 1467L1140.8 1466.1L1141.1 1465.1L1141.4 1464.1L1141.7 1463.2L1142 1462.1L1142.3 1461.1L1142.6 1460.2L1142.9 1459.1L1143.2 1457.9L1143.5 1457.2L1143.9 1456.4L1144.2 1455.5L1144.5 1454.6L1144.8 1453.5L1145.2 1452.5L1145.5 1451.6L1145.9 1450.5L1146.2 1449.6L1146.6 1448.7L1146.9 1447.5L1147.3 1446.9L1147.7 1446.1L1148 1445.1L1148.4 1444.1L1148.8 1443.3L1149.2 1442.4L1149.6 1441.5L1150 1440.7L1150.4 1439.7L1150.8 1438.6L1151.2 1437.6L1151.6 1436.7L1152 1435.8L1152.4 1434.8L1152.9 1434L1153.3 1433.2L1153.7 1432.3L1154.2 1431.4L1154.6 1430.6L1155.1 1429.7L1155.5 1428.6L1156 1427.7L1156.5 1427L1156.9 1426L1157.4 1425L1157.9 1424.2L1158.4 1423.4L1158.8 1422.6L1159.3 1421.9L1159.8 1421L1160.3 1420.1L1160.8 1419.3L1161.3 1418.1L1161.8 1417.2L1162.4 1416.3L1162.9 1415.4L1163.4 1414.7L1164 1413.8L1164.5 1413.1L1165.1 1412.3L1165.7 1411.3L1166.2 1410.5L1166.8 1409.8L1167.5 1408.9L1168.1 1408.2L1168.7 1407.3L1169.3 1406.5L1170 1405.8L1170.6 1405.1L1171.3 1404.3L1172 1403.6L1172.6 1402.9L1173.4 1402.2L1174.1 1401.4L1174.8 1400.7L1175.6 1400.2L1176.4 1399.4L1177.1 1398.8L1178 1398.2L1178.8 1397.7L1179.6 1397.4L1180.5 1396.7L1181.3 1396.1L1182.2 1395.7L1183.1 1395.3L1184 1394.9L1184.9 1394.2L1185.8 1393.7L1186.7 1393.2L1187.6 1393.1L1188.5 1392.9L1189.4 1392.3L1190.3 1391.6L1191.3 1391.3L1192.2 1391.2L1193.1 1390.8L1194.1 1390.2L1195 1389.9L1196 1389.6L1196.9 1389.3L1197.9 1389L1198.8 1388.9L1199.8 1388.6L1200.8 1388.2L1201.7 1387.9L1202.7 1387.9L1203.7 1387.7L1204.7 1387.4L1205.7 1387.2L1206.7 1387.2L1207.7 1387.2L1208.7 1387L1209.7 1386.6L1210.7 1386.4L1211.6 1386.3L1212.6 1386.3L1213.6 1386.4L1214.6 1386.3L1215.6 1386.3L1216.6 1386.1L1217.6 1385.9L1218.6 1385.9L1219.6 1386L1220.6 1385.9L1221.6 1385.9L1222.6 1385.8L1223.6 1385.6L1224.6 1385.6L1225.6 1385.7L1226.6 1385.5L1227.6 1385.2L1228.6 1385.2L1229.6 1384.9L1230.6 1384.9L1231.6 1385.1L1232.6 1385.2L1233.6 1385.1L1234.6 1384.8L1235.6 1384.7L1236.6 1384.8L1237.7 1384.7L1238.7 1384.7L1239.7 1385L1240.7 1384.9L1241.7 1384.8L1242.7 1384.8L1243.7 1385L1244.7 1385L1245.7 1384.7L1246.7 1384.7L1247.7 1384.7L1248.7 1384.7L1249.7 1384.7L1250.7 1384.5L1251.7 1384.5L1252.7 1384.5L1253.7 1384.5L1254.7 1384.4L1255.7 1384L1256.7 1383.9L1257.7 1384L1258.7 1384.1L1259.7 1384L1260.7 1383.8L1261.7 1383.8L1262.7 1383.8L1263.7 1383.5L1264.7 1383.4L1265.7 1383.2L1266.7 1383.1L1267.7 1383.1L1268.7 1383.3L1269.7 1383.1L1270.6 1383L1271.6 1382.8L1272.6 1382.5L1273.6 1382.2L1274.6 1382.3L1275.6 1382.4L1276.6 1382.4L1277.6 1382.2L1278.6 1381.8L1279.6 1381.6L1280.6 1381.7L1281.6 1381.5L1282.6 1381.1L1283.6 1380.9L1284.5 1380.8L1285.5 1380.6L1286.5 1380.6L1287.5 1380.4L1288.5 1380.3L1289.5 1380.4L1290.5 1380.2" fill="none" stroke="#000" stroke-width="2.7" stroke-linecap="round" stroke-linejoin="round"/>
<line x1="940.6" y1="1626.5" x2="940.6" y2="1711.6" stroke="#000" stroke-width="2.2" />
<rect x="800.5" y="1308.6" width="494.5" height="493.9" fill="none" stroke="#4a4a4a" stroke-width="2.4"/>
<line x1="822.2" y1="1802.5" x2="822.2" y2="1788" stroke="#4a4a4a" stroke-width="2.2" />
<line x1="822.2" y1="1308.6" x2="822.2" y2="1323.1" stroke="#4a4a4a" stroke-width="2.2" />
<line x1="919.1" y1="1802.5" x2="919.1" y2="1788" stroke="#4a4a4a" stroke-width="2.2" />
<line x1="919.1" y1="1308.6" x2="919.1" y2="1323.1" stroke="#4a4a4a" stroke-width="2.2" />
<line x1="1016.3" y1="1802.5" x2="1016.3" y2="1788" stroke="#4a4a4a" stroke-width="2.2" />
<line x1="1016.3" y1="1308.6" x2="1016.3" y2="1323.1" stroke="#4a4a4a" stroke-width="2.2" />
<line x1="1114" y1="1802.5" x2="1114" y2="1788" stroke="#4a4a4a" stroke-width="2.2" />
<line x1="1114" y1="1308.6" x2="1114" y2="1323.1" stroke="#4a4a4a" stroke-width="2.2" />
<line x1="1211.1" y1="1802.5" x2="1211.1" y2="1788" stroke="#4a4a4a" stroke-width="2.2" />
<line x1="1211.1" y1="1308.6" x2="1211.1" y2="1323.1" stroke="#4a4a4a" stroke-width="2.2" />
<line x1="800.5" y1="1385.2" x2="815" y2="1385.2" stroke="#4a4a4a" stroke-width="2.2" />
<line x1="1295" y1="1385.2" x2="1280.5" y2="1385.2" stroke="#4a4a4a" stroke-width="2.2" />
<line x1="800.5" y1="1482.6" x2="815" y2="1482.6" stroke="#4a4a4a" stroke-width="2.2" />
<line x1="1295" y1="1482.6" x2="1280.5" y2="1482.6" stroke="#4a4a4a" stroke-width="2.2" />
<line x1="800.5" y1="1579.8" x2="815" y2="1579.8" stroke="#4a4a4a" stroke-width="2.2" />
<line x1="1295" y1="1579.8" x2="1280.5" y2="1579.8" stroke="#4a4a4a" stroke-width="2.2" />
<line x1="800.5" y1="1677" x2="815" y2="1677" stroke="#4a4a4a" stroke-width="2.2" />
<line x1="1295" y1="1677" x2="1280.5" y2="1677" stroke="#4a4a4a" stroke-width="2.2" />
<line x1="800.5" y1="1774" x2="815" y2="1774" stroke="#4a4a4a" stroke-width="2.2" />
<line x1="1295" y1="1774" x2="1280.5" y2="1774" stroke="#4a4a4a" stroke-width="2.2" />
<text x="822.2" y="1832.5" font-size="23" fill="#1a1a1a" text-anchor="middle" textLength="34" lengthAdjust="spacingAndGlyphs" style="stroke:#1a1a1a;stroke-width:0.4">0.2</text>
<text x="919.1" y="1832.5" font-size="23" fill="#1a1a1a" text-anchor="middle" textLength="34" lengthAdjust="spacingAndGlyphs" style="stroke:#1a1a1a;stroke-width:0.4">0.4</text>
<text x="1016.3" y="1832.5" font-size="23" fill="#1a1a1a" text-anchor="middle" textLength="34" lengthAdjust="spacingAndGlyphs" style="stroke:#1a1a1a;stroke-width:0.4">0.6</text>
<text x="1114" y="1832.5" font-size="23" fill="#1a1a1a" text-anchor="middle" textLength="34" lengthAdjust="spacingAndGlyphs" style="stroke:#1a1a1a;stroke-width:0.4">0.8</text>
<text x="1211.1" y="1832.5" font-size="23" fill="#1a1a1a" text-anchor="middle" textLength="34" lengthAdjust="spacingAndGlyphs" style="stroke:#1a1a1a;stroke-width:0.4">1.0</text>
<text x="792.5" y="1393.9" font-size="23" fill="#1a1a1a" text-anchor="end" textLength="12.5" lengthAdjust="spacingAndGlyphs" style="stroke:#1a1a1a;stroke-width:0.4">0</text>
<text x="792.5" y="1491.3" font-size="23" fill="#1a1a1a" text-anchor="end" textLength="20.5" lengthAdjust="spacingAndGlyphs" style="stroke:#1a1a1a;stroke-width:0.4">-2</text>
<text x="792.5" y="1588.5" font-size="23" fill="#1a1a1a" text-anchor="end" textLength="20.5" lengthAdjust="spacingAndGlyphs" style="stroke:#1a1a1a;stroke-width:0.4">-4</text>
<text x="792.5" y="1685.7" font-size="23" fill="#1a1a1a" text-anchor="end" textLength="20.5" lengthAdjust="spacingAndGlyphs" style="stroke:#1a1a1a;stroke-width:0.4">-6</text>
<text x="792.5" y="1782.7" font-size="23" fill="#1a1a1a" text-anchor="end" textLength="20.5" lengthAdjust="spacingAndGlyphs" style="stroke:#1a1a1a;stroke-width:0.4">-8</text>
<line x1="837.7" y1="1367.8" x2="884.2" y2="1367.8" stroke="#000" stroke-width="2.6" />
<circle cx="838.8" cy="1394.4" r="1.65" fill="#000"/>
<circle cx="846.1" cy="1394.4" r="1.65" fill="#000"/>
<circle cx="853.4" cy="1394.4" r="1.65" fill="#000"/>
<circle cx="860.7" cy="1394.4" r="1.65" fill="#000"/>
<circle cx="868" cy="1394.4" r="1.65" fill="#000"/>
<circle cx="875.3" cy="1394.4" r="1.65" fill="#000"/>
<circle cx="882.6" cy="1394.4" r="1.65" fill="#000"/>
<line x1="837.7" y1="1419.8" x2="884.2" y2="1419.8" stroke="#ff0000" stroke-width="2.6" />
<circle cx="838.8" cy="1445.9" r="1.65" fill="#ff0000"/>
<circle cx="846.1" cy="1445.9" r="1.65" fill="#ff0000"/>
<circle cx="853.4" cy="1445.9" r="1.65" fill="#ff0000"/>
<circle cx="860.7" cy="1445.9" r="1.65" fill="#ff0000"/>
<circle cx="868" cy="1445.9" r="1.65" fill="#ff0000"/>
<circle cx="875.3" cy="1445.9" r="1.65" fill="#ff0000"/>
<circle cx="882.6" cy="1445.9" r="1.65" fill="#ff0000"/>
<text x="895.7" y="1374.5" font-size="21.5" fill="#1a1a1a" textLength="144.6" lengthAdjust="spacingAndGlyphs" style="stroke:#1a1a1a;stroke-width:0.4">Pt/C after test</text>
<text x="895.7" y="1400.7" font-size="21.5" fill="#1a1a1a" textLength="160.3" lengthAdjust="spacingAndGlyphs" style="stroke:#1a1a1a;stroke-width:0.4">Pt/C before test</text>
<text x="895.7" y="1425.7" font-size="21.5" fill="#1a1a1a" textLength="207.5" lengthAdjust="spacingAndGlyphs" style="stroke:#1a1a1a;stroke-width:0.4">FeAzPc-4N after test</text>
<text x="895.7" y="1451.3" font-size="21.5" fill="#1a1a1a" textLength="224.2" lengthAdjust="spacingAndGlyphs" style="stroke:#1a1a1a;stroke-width:0.4">FeAzPc-4N before test</text>
<text x="951.5" y="1858.5" font-size="21.5" fill="#1a1a1a" textLength="203.5" lengthAdjust="spacingAndGlyphs" style="stroke:#1a1a1a;stroke-width:0.4">Potential (V vs. RHE)</text>
<text x="749.5" y="1699" font-size="23.5" fill="#1a1a1a" textLength="259.5" lengthAdjust="spacingAndGlyphs" transform="rotate(-90 749.5 1699)" style="stroke:#1a1a1a;stroke-width:0.4">Current density (mA cm<tspan dy="-12" dx="1" font-size="14">-2</tspan><tspan dy="12" dx="2">)</tspan></text>
<text x="0.8" y="1938.6" font-size="37" fill="#000" textLength="50.7" lengthAdjust="spacingAndGlyphs" style="stroke:#000;stroke-width:1.3">(g)</text>
<circle cx="95.8" cy="2407.9" r="1.5" fill="#000"/>
<circle cx="98.4" cy="2408.5" r="1.5" fill="#000"/>
<circle cx="101.3" cy="2409.3" r="1.5" fill="#000"/>
<circle cx="103.8" cy="2409" r="1.5" fill="#000"/>
<circle cx="106.8" cy="2403.9" r="1.5" fill="#000"/>
<circle cx="109.6" cy="2402.6" r="1.5" fill="#000"/>
<circle cx="112.4" cy="2409" r="1.5" fill="#000"/>
<circle cx="115.3" cy="2405.6" r="1.5" fill="#000"/>
<circle cx="118.5" cy="2407.4" r="1.5" fill="#000"/>
<circle cx="121.1" cy="2402.1" r="1.5" fill="#000"/>
<circle cx="124.2" cy="2407.9" r="1.5" fill="#000"/>
<circle cx="126.7" cy="2405.9" r="1.5" fill="#000"/>
<circle cx="129.4" cy="2407.1" r="1.5" fill="#000"/>
<circle cx="132.5" cy="2403.8" r="1.5" fill="#000"/>
<circle cx="135.5" cy="2404.8" r="1.5" fill="#000"/>
<circle cx="138" cy="2410.4" r="1.5" fill="#000"/>
<circle cx="141" cy="2410.1" r="1.5" fill="#000"/>
<circle cx="143.9" cy="2403" r="1.5" fill="#000"/>
<circle cx="146.5" cy="2405.5" r="1.5" fill="#000"/>
<circle cx="149.3" cy="2406.4" r="1.5" fill="#000"/>
<circle cx="152.3" cy="2409.3" r="1.5" fill="#000"/>
<circle cx="155.5" cy="2409.3" r="1.5" fill="#000"/>
<circle cx="158.2" cy="2404.7" r="1.5" fill="#000"/>
<circle cx="160.9" cy="2409.3" r="1.5" fill="#000"/>
<circle cx="163.8" cy="2404.8" r="1.5" fill="#000"/>
<circle cx="166.8" cy="2403.6" r="1.5" fill="#000"/>
<circle cx="169.9" cy="2405.8" r="1.5" fill="#000"/>
<circle cx="172.6" cy="2407.8" r="1.5" fill="#000"/>
<circle cx="175.4" cy="2407" r="1.5" fill="#000"/>
<circle cx="177.9" cy="2404.3" r="1.5" fill="#000"/>
<circle cx="180.6" cy="2405.2" r="1.5" fill="#000"/>
<circle cx="183.3" cy="2412.3" r="1.5" fill="#000"/>
<circle cx="185.9" cy="2409.9" r="1.5" fill="#000"/>
<circle cx="188.8" cy="2410.5" r="1.5" fill="#000"/>
<circle cx="191.7" cy="2408.5" r="1.5" fill="#000"/>
<circle cx="194.4" cy="2405.6" r="1.5" fill="#000"/>
<circle cx="197.6" cy="2410.2" r="1.5" fill="#000"/>
<circle cx="200.3" cy="2411.6" r="1.5" fill="#000"/>
<circle cx="203.5" cy="2408.8" r="1.5" fill="#000"/>
<circle cx="206.3" cy="2405.9" r="1.5" fill="#000"/>
<circle cx="209.6" cy="2410.3" r="1.5" fill="#000"/>
<circle cx="212.3" cy="2410.4" r="1.5" fill="#000"/>
<circle cx="215.5" cy="2405" r="1.5" fill="#000"/>
<circle cx="218" cy="2410" r="1.5" fill="#000"/>
<circle cx="220.8" cy="2411.6" r="1.5" fill="#000"/>
<circle cx="223.6" cy="2412.3" r="1.5" fill="#000"/>
<circle cx="226.6" cy="2409.9" r="1.5" fill="#000"/>
<circle cx="229.9" cy="2409.9" r="1.5" fill="#000"/>
<circle cx="232.5" cy="2412.2" r="1.5" fill="#000"/>
<circle cx="235.4" cy="2411.8" r="1.5" fill="#000"/>
<circle cx="238.7" cy="2405" r="1.5" fill="#000"/>
<circle cx="241.3" cy="2412.7" r="1.5" fill="#000"/>
<circle cx="243.9" cy="2408.5" r="1.5" fill="#000"/>
<circle cx="246.5" cy="2409.9" r="1.5" fill="#000"/>
<circle cx="249.4" cy="2405.9" r="1.5" fill="#000"/>
<circle cx="252.3" cy="2411.2" r="1.5" fill="#000"/>
<circle cx="255.1" cy="2406.4" r="1.5" fill="#000"/>
<circle cx="258.3" cy="2405.4" r="1.5" fill="#000"/>
<circle cx="261" cy="2410.2" r="1.5" fill="#000"/>
<circle cx="264.2" cy="2406.8" r="1.5" fill="#000"/>
<circle cx="267.1" cy="2411.4" r="1.5" fill="#000"/>
<circle cx="269.9" cy="2407.7" r="1.5" fill="#000"/>
<circle cx="272.9" cy="2411.2" r="1.5" fill="#000"/>
<circle cx="275.8" cy="2408.9" r="1.5" fill="#000"/>
<circle cx="278.7" cy="2406.6" r="1.5" fill="#000"/>
<circle cx="281.6" cy="2408.4" r="1.5" fill="#000"/>
<circle cx="284.2" cy="2403.8" r="1.5" fill="#000"/>
<circle cx="287.4" cy="2409.9" r="1.5" fill="#000"/>
<circle cx="290.5" cy="2410.8" r="1.5" fill="#000"/>
<circle cx="293.4" cy="2406.8" r="1.5" fill="#000"/>
<circle cx="296" cy="2404.6" r="1.5" fill="#000"/>
<circle cx="298.8" cy="2405.1" r="1.5" fill="#000"/>
<circle cx="301.7" cy="2408.5" r="1.5" fill="#000"/>
<circle cx="304.5" cy="2403.5" r="1.5" fill="#000"/>
<circle cx="307.1" cy="2403.3" r="1.5" fill="#000"/>
<circle cx="309.6" cy="2405.1" r="1.5" fill="#000"/>
<circle cx="312.9" cy="2409.5" r="1.5" fill="#000"/>
<circle cx="315.5" cy="2408.2" r="1.5" fill="#000"/>
<circle cx="318.6" cy="2404.5" r="1.5" fill="#000"/>
<circle cx="321.3" cy="2406.7" r="1.5" fill="#000"/>
<circle cx="323.8" cy="2403.2" r="1.5" fill="#000"/>
<circle cx="327" cy="2402.4" r="1.5" fill="#000"/>
<circle cx="330" cy="2404.7" r="1.45" fill="#000"/>
<circle cx="335.5" cy="2403.9" r="1.45" fill="#000"/>
<circle cx="341.1" cy="2403.1" r="1.45" fill="#000"/>
<circle cx="346.6" cy="2402.1" r="1.45" fill="#000"/>
<circle cx="352" cy="2400.7" r="1.45" fill="#000"/>
<circle cx="357.3" cy="2399" r="1.45" fill="#000"/>
<circle cx="362.6" cy="2396.9" r="1.45" fill="#000"/>
<circle cx="367.7" cy="2394.8" r="1.45" fill="#000"/>
<circle cx="372.8" cy="2392.5" r="1.45" fill="#000"/>
<circle cx="377.9" cy="2390.1" r="1.45" fill="#000"/>
<circle cx="382.9" cy="2387.6" r="1.45" fill="#000"/>
<circle cx="387.9" cy="2385" r="1.45" fill="#000"/>
<circle cx="392.8" cy="2382.4" r="1.45" fill="#000"/>
<circle cx="397.7" cy="2379.6" r="1.45" fill="#000"/>
<circle cx="402.4" cy="2376.7" r="1.45" fill="#000"/>
<circle cx="407.2" cy="2373.7" r="1.45" fill="#000"/>
<circle cx="412" cy="2370.8" r="1.45" fill="#000"/>
<circle cx="416.8" cy="2368" r="1.45" fill="#000"/>
<circle cx="421.7" cy="2365.2" r="1.45" fill="#000"/>
<circle cx="426.5" cy="2362.3" r="1.45" fill="#000"/>
<circle cx="431.2" cy="2359.3" r="1.45" fill="#000"/>
<circle cx="435.8" cy="2356.1" r="1.45" fill="#000"/>
<circle cx="440.3" cy="2352.7" r="1.45" fill="#000"/>
<circle cx="444.7" cy="2349.3" r="1.45" fill="#000"/>
<circle cx="449.2" cy="2346" r="1.45" fill="#000"/>
<circle cx="453.7" cy="2342.6" r="1.45" fill="#000"/>
<circle cx="458.2" cy="2339.3" r="1.45" fill="#000"/>
<circle cx="462.8" cy="2336.2" r="1.45" fill="#000"/>
<circle cx="467.6" cy="2333.2" r="1.45" fill="#000"/>
<circle cx="472.4" cy="2330.3" r="1.45" fill="#000"/>
<circle cx="477.5" cy="2328" r="1.45" fill="#000"/>
<circle cx="482.8" cy="2326.2" r="1.45" fill="#000"/>
<circle cx="488.2" cy="2325" r="1.45" fill="#000"/>
<circle cx="493.8" cy="2323.9" r="1.45" fill="#000"/>
<circle cx="499.3" cy="2323.2" r="1.45" fill="#000"/>
<circle cx="504.9" cy="2322.6" r="1.45" fill="#000"/>
<circle cx="510.5" cy="2322.2" r="1.45" fill="#000"/>
<circle cx="516" cy="2321.9" r="1.45" fill="#000"/>
<circle cx="521.6" cy="2321.6" r="1.45" fill="#000"/>
<circle cx="527.2" cy="2321.5" r="1.45" fill="#000"/>
<circle cx="532.8" cy="2321.4" r="1.45" fill="#000"/>
<circle cx="538.4" cy="2321.3" r="1.45" fill="#000"/>
<circle cx="544" cy="2321.2" r="1.45" fill="#000"/>
<circle cx="549.6" cy="2321" r="1.45" fill="#000"/>
<circle cx="555.2" cy="2320.8" r="1.45" fill="#000"/>
<circle cx="560.8" cy="2320.7" r="1.45" fill="#000"/>
<circle cx="566.4" cy="2320.5" r="1.45" fill="#000"/>
<circle cx="572" cy="2320.3" r="1.45" fill="#000"/>
<circle cx="577.6" cy="2320.1" r="1.45" fill="#000"/>
<circle cx="583.2" cy="2319.9" r="1.45" fill="#000"/>
<circle cx="95.8" cy="2424" r="1.45" fill="#ff0000"/>
<circle cx="102.8" cy="2424.1" r="1.45" fill="#ff0000"/>
<circle cx="109.8" cy="2424.3" r="1.45" fill="#ff0000"/>
<circle cx="116.8" cy="2424.4" r="1.45" fill="#ff0000"/>
<circle cx="123.8" cy="2424.5" r="1.45" fill="#ff0000"/>
<circle cx="130.8" cy="2424.7" r="1.45" fill="#ff0000"/>
<circle cx="137.8" cy="2424.8" r="1.45" fill="#ff0000"/>
<circle cx="144.8" cy="2424.9" r="1.45" fill="#ff0000"/>
<circle cx="151.8" cy="2425" r="1.45" fill="#ff0000"/>
<circle cx="158.8" cy="2425.2" r="1.45" fill="#ff0000"/>
<circle cx="165.8" cy="2425.3" r="1.45" fill="#ff0000"/>
<circle cx="172.8" cy="2425.4" r="1.45" fill="#ff0000"/>
<circle cx="179.8" cy="2425.6" r="1.45" fill="#ff0000"/>
<circle cx="186.8" cy="2425.7" r="1.45" fill="#ff0000"/>
<circle cx="193.8" cy="2425.8" r="1.45" fill="#ff0000"/>
<circle cx="200.8" cy="2425.8" r="1.45" fill="#ff0000"/>
<circle cx="207.8" cy="2425.8" r="1.45" fill="#ff0000"/>
<circle cx="214.8" cy="2425.8" r="1.45" fill="#ff0000"/>
<circle cx="221.8" cy="2425.7" r="1.45" fill="#ff0000"/>
<circle cx="228.8" cy="2425.6" r="1.45" fill="#ff0000"/>
<circle cx="235.8" cy="2425.5" r="1.45" fill="#ff0000"/>
<circle cx="242.8" cy="2425.3" r="1.45" fill="#ff0000"/>
<circle cx="249.8" cy="2425.1" r="1.45" fill="#ff0000"/>
<circle cx="256.8" cy="2424.9" r="1.45" fill="#ff0000"/>
<circle cx="263.8" cy="2424.6" r="1.45" fill="#ff0000"/>
<circle cx="270.8" cy="2424.4" r="1.45" fill="#ff0000"/>
<circle cx="277.8" cy="2424.1" r="1.45" fill="#ff0000"/>
<circle cx="284.8" cy="2423.8" r="1.45" fill="#ff0000"/>
<circle cx="291.7" cy="2423.5" r="1.45" fill="#ff0000"/>
<circle cx="298.7" cy="2423.2" r="1.45" fill="#ff0000"/>
<circle cx="305.7" cy="2422.9" r="1.45" fill="#ff0000"/>
<circle cx="312.7" cy="2422.5" r="1.45" fill="#ff0000"/>
<circle cx="319.7" cy="2422" r="1.45" fill="#ff0000"/>
<circle cx="326.7" cy="2421.4" r="1.45" fill="#ff0000"/>
<circle cx="333.6" cy="2420.6" r="1.45" fill="#ff0000"/>
<circle cx="340.6" cy="2419.6" r="1.45" fill="#ff0000"/>
<circle cx="347.5" cy="2418.6" r="1.45" fill="#ff0000"/>
<circle cx="354.4" cy="2417.4" r="1.45" fill="#ff0000"/>
<circle cx="361.3" cy="2416.1" r="1.45" fill="#ff0000"/>
<circle cx="368.1" cy="2414.6" r="1.45" fill="#ff0000"/>
<circle cx="374.9" cy="2412.9" r="1.45" fill="#ff0000"/>
<circle cx="381.6" cy="2411" r="1.45" fill="#ff0000"/>
<circle cx="388.3" cy="2408.9" r="1.45" fill="#ff0000"/>
<circle cx="394.9" cy="2406.6" r="1.45" fill="#ff0000"/>
<circle cx="401.3" cy="2403.7" r="1.45" fill="#ff0000"/>
<circle cx="407.4" cy="2400.2" r="1.45" fill="#ff0000"/>
<circle cx="413.1" cy="2396.2" r="1.45" fill="#ff0000"/>
<circle cx="418.6" cy="2391.9" r="1.45" fill="#ff0000"/>
<circle cx="424.1" cy="2387.5" r="1.45" fill="#ff0000"/>
<circle cx="429.4" cy="2383" r="1.45" fill="#ff0000"/>
<circle cx="434.6" cy="2378.3" r="1.45" fill="#ff0000"/>
<circle cx="439.7" cy="2373.5" r="1.45" fill="#ff0000"/>
<circle cx="444.7" cy="2368.7" r="1.45" fill="#ff0000"/>
<circle cx="449.7" cy="2363.7" r="1.45" fill="#ff0000"/>
<circle cx="454.6" cy="2358.8" r="1.45" fill="#ff0000"/>
<circle cx="459.6" cy="2353.8" r="1.45" fill="#ff0000"/>
<circle cx="464.5" cy="2348.8" r="1.45" fill="#ff0000"/>
<circle cx="469.4" cy="2343.8" r="1.45" fill="#ff0000"/>
<circle cx="474.3" cy="2338.9" r="1.45" fill="#ff0000"/>
<circle cx="479.4" cy="2334" r="1.45" fill="#ff0000"/>
<circle cx="484.7" cy="2329.4" r="1.45" fill="#ff0000"/>
<circle cx="491" cy="2326.6" r="1.45" fill="#ff0000"/>
<circle cx="497.8" cy="2324.9" r="1.45" fill="#ff0000"/>
<circle cx="504.8" cy="2323.9" r="1.45" fill="#ff0000"/>
<circle cx="511.7" cy="2323.3" r="1.45" fill="#ff0000"/>
<circle cx="518.7" cy="2322.9" r="1.45" fill="#ff0000"/>
<circle cx="525.7" cy="2322.5" r="1.45" fill="#ff0000"/>
<circle cx="532.7" cy="2322.1" r="1.45" fill="#ff0000"/>
<circle cx="539.7" cy="2321.7" r="1.45" fill="#ff0000"/>
<circle cx="546.7" cy="2321.3" r="1.45" fill="#ff0000"/>
<circle cx="553.7" cy="2321" r="1.45" fill="#ff0000"/>
<circle cx="560.7" cy="2320.8" r="1.45" fill="#ff0000"/>
<circle cx="567.7" cy="2320.5" r="1.45" fill="#ff0000"/>
<circle cx="574.7" cy="2320.2" r="1.45" fill="#ff0000"/>
<circle cx="581.6" cy="2320" r="1.45" fill="#ff0000"/>
<path d="M200 2411.5L200.5 2411.4L201 2411.2L201.5 2411.5L202 2411.3L202.5 2411.5L203 2411.3L203.5 2411.5L204 2411.5L204.5 2411.3L205 2411.2L205.5 2411.5L206 2411.7L206.5 2411.6L207 2411.7L207.5 2411.5L208 2411.5L208.5 2411.2L209 2411.7L209.5 2411.5L210 2411.6L210.5 2411.6L211 2411.4L211.5 2411.5L212 2411L212.5 2411.3L213 2410.8L213.5 2411.2L214 2411L214.5 2411L215 2411L215.5 2410.6L215.9 2410.5L216.4 2410.5L216.9 2410.3L217.4 2410.3L217.9 2410.1L218.4 2410L218.9 2410.1L219.4 2409.8L219.9 2409.8L220.4 2409.7L220.8 2409.3L221.3 2409.4L221.8 2409.2L222.3 2409.3L222.9 2409.3L223.2 2408.8L223.8 2409.1L224.3 2408.8L224.7 2408.6L225.3 2408.7L225.7 2408.4L226.2 2408.2L226.6 2408L227.2 2407.9L227.7 2408L228 2407.4L228.7 2407.7L229.1 2407.5L229.6 2407.4L229.9 2406.7L230.6 2407.1L231 2406.9L231.5 2406.6L232 2406.5L232.5 2406.5L232.8 2405.9L233.4 2406.2L233.8 2405.8L234.3 2405.6L234.8 2405.5L235.2 2405.3L235.7 2405.1L236.3 2405.1L236.6 2404.8L237 2404.4L237.5 2404.1L238.1 2404.3L238.5 2404.1L238.9 2403.6L239.5 2403.7L239.9 2403.5L240.2 2403L240.7 2402.8L241.1 2402.5L241.7 2402.6L242.2 2402.4L242.7 2402.3L243 2401.7L243.6 2402L243.9 2401.3L244.4 2401.4L244.8 2401L245.3 2400.9L245.8 2400.7L246.4 2400.7L246.6 2400L247 2399.8L247.6 2399.8L247.9 2399.4L248.4 2399.2L248.9 2399L249.3 2398.7L249.8 2398.6L250.3 2398.5L250.7 2398.3L251.1 2397.9L251.5 2397.6L252.1 2397.6L252.5 2397.3L252.9 2396.9L253.2 2396.6L253.7 2396.4L254 2396L254.7 2396.1L255 2395.7L255.5 2395.5L255.9 2395.2L256.2 2394.7L256.8 2394.7L257.2 2394.5L257.7 2394.3L258.1 2394L258.5 2393.6L258.8 2393.2L259.3 2393L259.8 2392.9L260.1 2392.4L260.6 2392.3L260.8 2391.7L261.2 2391.4L261.6 2391.1L262.2 2391.1L262.7 2390.9L262.9 2390.3L263.2 2389.9L263.8 2389.9L264.1 2389.4L264.5 2389.2L265.1 2389.1L265.2 2388.5L265.7 2388.3L266.3 2388.3L266.6 2387.8L266.9 2387.4L267.5 2387.3L267.7 2386.8L268.3 2386.7L268.6 2386.3L269 2386L269.5 2385.8L269.6 2385.1L270.1 2384.9L270.4 2384.5L270.9 2384.3L271.1 2383.8L271.7 2383.8L271.9 2383.2L272.3 2382.9L272.9 2382.8L273.2 2382.4L273.4 2381.9L273.9 2381.7L274.3 2381.4L274.6 2381L274.9 2380.6L275.5 2380.4L275.7 2379.9L276 2379.5L276.6 2379.4L276.7 2378.8L277.3 2378.8L277.7 2378.4L277.9 2378L278.5 2377.8L278.8 2377.4L279.1 2377L279.5 2376.7L279.8 2376.3L280.2 2376L280.4 2375.4L280.8 2375.1L281.3 2374.9L281.4 2374.3L281.9 2374.2L282.4 2374L282.4 2373.3L282.9 2373L283.2 2372.6L283.4 2372.1L284 2372L284.4 2371.7L284.7 2371.3L285 2370.8L285.6 2370.7L285.6 2370L286.2 2370L286.2 2369.3L286.6 2368.9L287.1 2368.7L287.5 2368.4L287.7 2367.9L288.2 2367.7L288.5 2367.3L288.8 2366.9L288.9 2366.3L289.3 2366L289.9 2365.8L290.1 2365.4L290.4 2365L290.9 2364.8L291 2364.2L291.4 2363.9L291.8 2363.5L292.2 2363.2L292.3 2362.7L293 2362.6L293 2361.9L293.6 2361.8L294 2361.5L294.1 2360.9L294.6 2360.7L294.8 2360.2L295.4 2360L295.7 2359.6L295.8 2359.1L296.1 2358.7L296.6 2358.4L296.7 2357.8L297.2 2357.6L297.7 2357.4L297.6 2356.7L298.3 2356.5L298.6 2356.2L298.9 2355.7L299 2355.2L299.2 2354.8L299.9 2354.6L300.3 2354.3L300.3 2353.7L300.6 2353.3L300.9 2352.9L301.4 2352.7L301.8 2352.3L302.1 2351.9L302.1 2351.3L302.6 2351.1L303.1 2350.8L303.2 2350.2L303.5 2349.8L303.7 2349.3L304.3 2349.2L304.6 2348.8L304.9 2348.4L305.2 2348L305.4 2347.5L305.7 2347.1L305.9 2346.7L306.6 2346.5L306.7 2346L307.2 2345.7L307.1 2345L307.8 2344.9L307.8 2344.3L308.4 2344.2L308.8 2343.8L308.9 2343.2L309.3 2343L309.7 2342.6L309.7 2342L310.1 2341.7L310.3 2341.2L310.9 2341L310.9 2340.4L311.4 2340.1L311.7 2339.7L312.1 2339.4L312.2 2338.9L312.5 2338.5L312.9 2338.2L313 2337.6L313.6 2337.4L313.9 2337L313.9 2336.4L314.4 2336.2L314.6 2335.7L314.7 2335.1L315.3 2334.9L315.7 2334.6L315.7 2334L315.9 2333.5L316.5 2333.3L316.6 2332.8L316.9 2332.4L317.4 2332.1L317.6 2331.7L318 2331.3L317.9 2330.6L318.2 2330.3L318.8 2330.1L319.2 2329.7L319.4 2329.2L319.5 2328.7L319.7 2328.3L320.1 2327.9L320.2 2327.4L320.5 2326.9L321.2 2326.8L321 2326.1L321.6 2325.9L321.9 2325.5L322.3 2325.2L322.2 2324.5L322.5 2324.1L323 2323.8L323.4 2323.5L323.4 2322.9L323.9 2322.6L324 2322.1L324.2 2321.6L324.4 2321.2L324.7 2320.7L325.4 2320.6L325.6 2320.1L326 2319.8L325.9 2319.2L326.5 2319L326.7 2318.5L326.9 2318L327.2 2317.6L327.7 2317.3L327.7 2316.7L328.1 2316.4L328.5 2316.1L328.5 2315.5L328.8 2315L329.3 2314.8L329.5 2314.3L329.8 2313.9L330.1 2313.5L330.7 2313.3L330.8 2312.8L331.2 2312.4L331.3 2311.9L331.8 2311.6L331.8 2311.1L332.2 2310.7L332.8 2310.6L333.1 2310.1L333.3 2309.7L333.7 2309.3L333.8 2308.8L334.4 2308.6L334.4 2308L334.7 2307.6L335.2 2307.3L335.6 2307L335.9 2306.6L336.1 2306.1L336.6 2305.9L337 2305.6L337 2304.9L337.5 2304.7L337.8 2304.3L337.9 2303.7L338.4 2303.5L339 2303.3L339.1 2302.7L339.5 2302.4L340 2302.2L340.3 2301.8L340.4 2301.2L341 2301.1L341.1 2300.6L341.6 2300.3L341.6 2299.7L342.2 2299.5L342.6 2299.2L342.7 2298.6L343 2298.2L343.5 2297.9L343.9 2297.7L344.2 2297.3L344.5 2296.9L344.7 2296.4L345 2296L345.4 2295.6L345.7 2295.2L346.2 2295L346.5 2294.6L346.9 2294.3L347.1 2293.8L347.4 2293.4L347.4 2292.7L348.1 2292.6L348.4 2292.3L348.4 2291.6L348.8 2291.4L349.3 2291L349.3 2290.5L349.5 2290L350.2 2289.8L350.2 2289.2L350.8 2289L350.9 2288.5L351.3 2288.2L351.7 2287.9L351.9 2287.4L351.9 2286.8L352.5 2286.6L352.7 2286.1L353.1 2285.8L353.4 2285.4L353.6 2284.9L353.7 2284.4L354.1 2284L354.6 2283.7L354.6 2283.2L355 2282.8L355.5 2282.6L355.4 2281.9L356.1 2281.7L356.2 2281.2L356.3 2280.7L356.9 2280.5L357.2 2280.1L357.1 2279.4L357.6 2279.1L357.6 2278.6L358.3 2278.4L358.4 2277.9L358.8 2277.5L358.9 2277L359 2276.5L359.6 2276.3L359.6 2275.7L360 2275.3L360.3 2275L360.4 2274.4L360.6 2274L361.3 2273.8L361.6 2273.4L361.5 2272.7L362.1 2272.6L362.1 2271.9L362.7 2271.7L362.7 2271.1L362.8 2270.6L363.3 2270.3L363.5 2269.9L363.9 2269.5L364.3 2269.2L364.6 2268.8L364.6 2268.2L364.7 2267.7L365.2 2267.4L365.7 2267.1L365.9 2266.6L366.1 2266.2L366.5 2265.8L366.3 2265.1L366.6 2264.7L367 2264.4L367.4 2264L367.6 2263.5L368.1 2263.3L368.1 2262.7L368.4 2262.3L368.6 2261.8L368.9 2261.4L369.4 2261.1L369.6 2260.7L369.5 2260L370.1 2259.9L370.2 2259.3L370.4 2258.8L370.7 2258.4L371.3 2258.2L371.2 2257.6L371.5 2257.2L371.9 2256.8L372 2256.3L372.6 2256.1L372.9 2255.7L373.3 2255.3L373.2 2254.7L373.5 2254.3L374.1 2254L374.2 2253.6L374.4 2253L374.7 2252.7L375.1 2252.3L375 2251.7L375.3 2251.3L376 2251.1L376.2 2250.7L376.3 2250.1L376.6 2249.8L376.7 2249.2L377 2248.8L377.2 2248.3L377.5 2248L378.1 2247.7L378 2247.1L378.7 2246.9L378.7 2246.3L378.9 2245.8L379.1 2245.4L379.7 2245.2L379.7 2244.6L380 2244.2L380.5 2243.9L380.9 2243.6L381.1 2243.1L381 2242.5L381.6 2242.3L381.7 2241.7L382.2 2241.4L382.1 2240.8L382.4 2240.4L382.9 2240.1L383.3 2239.7L383.6 2239.4L383.7 2238.8L384.1 2238.5L384.2 2238L384.6 2237.6L384.6 2237L385.1 2236.8L385 2236.1L385.2 2235.7L385.6 2235.3L386 2234.9L386.4 2234.6L386.4 2234L386.6 2233.6L387.2 2233.4L387.2 2232.7L387.4 2232.3L388.1 2232.1L388.1 2231.5L388.1 2231L388.8 2230.8L389 2230.3L389.1 2229.8L389.5 2229.5L389.9 2229.1L389.8 2228.5L390.2 2228.1L390.5 2227.7L390.8 2227.3L391.1 2226.9L391.3 2226.5L391.2 2225.8L391.7 2225.5L391.9 2225.1L392.2 2224.7L392.6 2224.3L392.3 2223.6L392.8 2223.3L392.8 2222.7L393.3 2222.4L393.3 2221.8L393.6 2221.5L393.7 2220.9L394.1 2220.5L394.4 2220.2L394.4 2219.6L395 2219.4L395.1 2218.8L395.5 2218.5L395.6 2217.9L395.5 2217.4L396.2 2217.1L396.3 2216.6L396.2 2216L396.5 2215.6L396.7 2215.1L397.3 2214.9L397.3 2214.3L397.6 2213.9L397.7 2213.4L398 2213L398.3 2212.6L398.1 2212L398.9 2211.8L398.9 2211.2L398.9 2210.7L399 2210.2L399.6 2209.9L399.9 2209.5L400.1 2209L399.9 2208.4L400.1 2207.9L400.7 2207.6L400.9 2207.2L401.1 2206.7L401.5 2206.3L401.6 2205.9L401.8 2205.4L402.1 2205L402.2 2204.5L402.4 2204L402.7 2203.6L402.7 2203.1L402.6 2202.5L402.9 2202L403.3 2201.7L403.6 2201.3L403.4 2200.6L404.2 2200.5L403.8 2199.7L404.2 2199.3L404.9 2199.1L405.1 2198.7L405 2198.1L405.5 2197.7L405.3 2197.1L406.1 2196.9L405.6 2196.1L406 2195.7L406.6 2195.5L406.5 2194.9L407 2194.6L407.1 2194.1L406.8 2193.4L407.9 2193.4L407.9 2192.8L408.2 2192.4L407.7 2191.6L408.2 2191.3L408.3 2190.7L409.1 2190.6L408.9 2189.9L409.2 2189.5L410 2189.4L410 2188.8L410.3 2188.4L410.7 2188L410.7 2187.5L411 2187.1L411.1 2186.5L411.7 2186.3L411.5 2185.6L411.6 2185.1L412.5 2185L412.5 2184.5L412.3 2183.8L412.5 2183.3L413.1 2183.1L413.2 2182.6L413.1 2182L413.9 2181.8L413.8 2181.2L414.3 2180.9L414.5 2180.4L414.4 2179.8L415.3 2179.7L415.5 2179.3L416.1 2179L415.4 2178L416.3 2178L415.6 2177L415.9 2176.6L417 2176.7L417.2 2176.2L417.3 2175.7L417.9 2175.5L417.8 2174.8L418.5 2174.7L418.5 2174.1L418.1 2173.3L418.9 2173.2L419.1 2172.7L419 2172.1L418.9 2171.4L420.5 2171.8L419.9 2170.8L420 2170.3L420.5 2170L420.7 2169.5L421.9 2169.7L421 2168.6L421.4 2168.2L421.2 2167.5L421.8 2167.3L422.8 2167.3L422.4 2166.5L422.8 2166.2L423.5 2166L422.8 2165L423.5 2164.8L424.8 2165.1L424.4 2164.2L424.4 2163.6L425.8 2163.9L424.3 2162.4L425.9 2162.8L425.7 2162L425.2 2161.2L427.1 2161.8L426.5 2160.8L426.1 2159.9L427 2159.9L427 2159.3L428.1 2159.4L427.9 2158.7L427.6 2157.9L428.8 2158.1L429.1 2157.7L429 2157L430.2 2157.2L430.4 2156.7L430.6 2156.3L430.5 2155.7L430.1 2154.8L431.6 2155.2L431.6 2154.6L430.3 2153.1L431.3 2153.2L432.3 2153.2L432.5 2152.8L432.8 2152.4L433.4 2152.1L432.2 2150.8L432.3 2150.2L433.7 2150.6L434.8 2150.7L435 2150.3L434.4 2149.2L434.5 2148.7L434.9 2148.3L434.4 2147.4L436.5 2148.2L436.7 2147.8L436.2 2146.8L435.2 2145.5L436.6 2145.9L437.7 2146.1L438.1 2145.7L438.4 2145.3L436.8 2143.6L437 2143.1L439.3 2144.1L439.2 2143.5L439.1 2142.7L438 2141.4L440.6 2142.6L439.1 2140.9L439.7 2140.7L439.8 2140.1L440.6 2140.1L441 2139.8L442.4 2140.2L441.2 2138.7L442.6 2139.1L442.4 2138.4L443.3 2138.4L442.3 2137L442.8 2136.8L444.6 2137.4L443.1 2135.8L443.4 2135.4L444.7 2135.7L445.6 2135.7L445.4 2135L444.2 2133.5L444.5 2133L446.5 2133.9L445 2132.2L446.9 2132.9L445.7 2131.4L447.3 2132L447.6 2131.6L446.6 2130.3L446.7 2129.7L448.6 2130.5L449.7 2130.7L448.3 2129L449.2 2129L448.2 2127.7L449.8 2128.2L448.7 2126.8L449.6 2126.9L450.6 2127L449.4 2125.5L451.1 2126.1L451.3 2125.7L450.6 2124.5L450.6 2123.9L450.8 2123.4L450.9 2122.9L454.2 2124.6L454.4 2124.1L454.2 2123.4L454.3 2122.8L453.5 2121.6L455.2 2122.3L454.5 2121.1L455.6 2121.3L454.2 2119.7L455.5 2120L453.9 2118.3L454.4 2118L456.8 2119.1L456.1 2118L458.1 2118.8L455.6 2116.4L456.4 2116.4L457.2 2116.3L456.6 2115.3L458.2 2115.8L458.3 2115.2L459.7 2115.6L457.9 2113.8L458.4 2113.5L459.8 2113.9L460.1 2113.5L461.4 2113.8L460.7 2112.7L459.9 2111.5L460.2 2111.1L462.5 2112.1L462.6 2111.6L462.1 2110.6L461.8 2109.8L461.8 2109.1L464.4 2110.4L464.8 2110L463.6 2108.6L462.2 2107L463.2 2107.1L463.6 2106.8L464.3 2106.6L464.3 2106L464.4 2105.4L466.5 2106.4L465.2 2104.8L467.1 2105.6L466.9 2104.8L468.1 2105L466.3 2103.2L468.9 2104.4L466.4 2101.9L466.1 2101.1L468.4 2102.2L468.5 2101.7L469.3 2101.6L467.5 2099.6L469.4 2100.4L469.1 2099.6L471.6 2100.8L468.2 2097.7L469.7 2098.2L469.8 2097.6L469.5 2096.8L469.3 2096L471.1 2096.7L473.4 2097.8L473.7 2097.5L473.7 2096.8L471.5 2094.5L474.6 2096.3L473.3 2094.6L472.3 2093.2L472.2 2092.5L475 2094L472.7 2091.6L476.7 2094.1L473.4 2090.8L476.7 2092.8L474.5 2090.4L475.2 2090.4L475.3 2089.8L477.3 2090.7L477.1 2090L478.3 2090.2L479.4 2090.5L476.2 2087.3L479.3 2089.2L478.6 2087.9L477.7 2086.6L477.6 2085.8L480.1 2087.2L478.8 2085.5L481.6 2087.2L480.1 2085.3L482.7 2086.8L482 2085.6L480.9 2084L483.9 2085.8L480.4 2082.3L482.5 2083.4L482.9 2083.1L483.9 2083.2L483.6 2082.4L483.9 2082L485.4 2082.5L486.4 2082.7L482.8 2079.1L485.5 2080.7L486.3 2080.7L485.4 2079.2L487.6 2080.5L487.1 2079.4L484.9 2076.9L485.2 2076.5L487.3 2077.6L488.8 2078.3L489.9 2078.6L490.1 2078L486.5 2074.3L487.4 2074.4L490.6 2076.5L488.3 2073.8L492 2076.4L488.7 2072.9L492.5 2075.5L492.4 2074.7L492.9 2074.5L489.4 2070.8L492.3 2072.7L493.4 2073L492.4 2071.4L494.1 2072.2L495.4 2072.8L493.8 2070.6L491.9 2068.3L494.2 2069.7L494 2068.8L494.3 2068.4L495.3 2068.7L497.6 2070L494.2 2066.4L496.1 2067.4L498.5 2068.8L494.7 2064.8L497.5 2066.5L498.4 2066.7L495.5 2063.5L496.4 2063.6L499.4 2065.6L500.7 2066.1L497.5 2062.5L498.5 2062.8L501.3 2064.6L501.5 2064.1L498.2 2060.5L500.2 2061.6L500.4 2061.1L500.5 2060.5L501.7 2061L500.8 2059.4L501.2 2059.2L505.2 2062.1L500.6 2057.3L501.9 2057.7L502.8 2057.9L502.8 2057.2L504.3 2057.9L505.6 2058.4L502.9 2055.2L505.8 2057.2L504.3 2055.1L504 2054.2L507.8 2057.1L506.9 2055.5L508.7 2056.5L506 2053.3L506.9 2053.4L506.5 2052.4L506.3 2051.5L509.1 2053.4L511.2 2054.8L509.7 2052.6L508.7 2051L508.8 2050.4L511.3 2052.2L513.1 2053.1L509.6 2049.1L512.2 2050.9L513 2050.9L514.6 2051.9L511.7 2048.3L513 2048.9L510.9 2046.1L516.4 2050.9L515.6 2049.4L513.1 2046.1L512.4 2044.7L517.6 2049.3L515.5 2046.4L513.5 2043.6L516.5 2046.1L515 2043.7L516.7 2044.7L517.1 2044.5L515.6 2042.1L516.4 2042.2L519.1 2044.4L520.7 2045.5L519 2042.9L521.6 2045L520.4 2042.9L521 2042.8L520.5 2041.5L523.7 2044.3L520.2 2039.7L522.5 2041.5L523.3 2041.6L523.3 2040.8L521.4 2038L524.9 2041.2L524 2039.4L526.6 2041.7L524.2 2038.1L522.9 2035.8L526.9 2039.7L524.3 2036L527.1 2038.4L527.4 2038L527.2 2037L526.9 2035.8L526.6 2034.8L529.1 2036.9L526.5 2033.2L530.6 2037.1L527.5 2032.8L527.4 2031.9L528.7 2032.6L528.9 2032.1L532 2034.8L532 2034.1L532.2 2033.5L529.7 2030.1L534.2 2034.3L534.1 2033.4L531.5 2029.8L531 2028.6L531.7 2028.6L535 2031.4L533.9 2029.5L536.4 2031.4L535.1 2029.3L536.2 2029.7L534.1 2026.8L537.3 2029.4L536.6 2028L534.4 2025L537.4 2027.4L536.7 2025.9L536.3 2024.8L540.1 2027.9L538.4 2025.5L541 2027.4L536.8 2022.5L542.7 2027.7L541.6 2025.9L537.6 2021.2L538.7 2021.6L540.1 2022.2L541.9 2023.4L540.5 2021.3L539.9 2019.9L542.6 2021.9L546 2024.6L540.5 2018.4L543.4 2020.6L544 2020.5L546.6 2022.4L545.1 2020.1L546.7 2021.1L544.7 2018.4L548.7 2021.6L545.9 2018.2L546.9 2018.4L548.2 2019L549.8 2019.9L548.6 2018L549.9 2018.6L547.7 2015.7L546.3 2013.6L550.6 2017.2L548.6 2014.5L550.9 2016L550.3 2014.8L552.5 2016.2L548.6 2011.6L552.9 2015.3L549.8 2011.5L552.3 2013.2L555.1 2015.3L554.7 2014.2L552.6 2011.4L550.8 2008.9L550.8 2008.2L550.7 2007.4L555.3 2011.3L557 2012.3L555.5 2010L556 2009.8L554.1 2007.3L555.8 2008.2L553 2004.6L558.1 2009.1L554.2 2004.4L560 2009.7L556.7 2005.6L554.8 2002.8L556.2 2003.5L557 2003.7L558.1 2004.1L560.1 2005.5L560.2 2004.9L558.7 2002.6L560.5 2003.7L558.3 2000.7L560 2001.7L562.5 2003.7L563.3 2003.8L560.9 2000.5L564.2 2003.3L559.8 1997.9L559.8 1997.2L565.3 2002.2L561.2 1997.2L561 1996.2L567 2001.9L566.4 2000.5L569.3 2002.7L566.4 1999.1L569.4 2001.4L568.3 1999.6L568.1 1998.7L568.7 1998.6L564.7 1993.7L570.5 1998.9L568.4 1996L570.5 1997.5L566.9 1993.1L571.3 1996.9L572.2 1997L567.2 1991.4L573.2 1996.6L569.2 1992L573.7 1995.6L567.7 1989.2L567.9 1988.8L576.3 1995.9L576.7 1995.5L576.9 1995L574.5 1992.2L570 1987.5L576.9 1992.8L570.8 1987L574.4 1989.3L572.4 1987.1L571.5 1985.8L576.5 1989.1L574.5 1986.9L578.2 1989.1L577 1987.5L572.9 1984.1L573.5 1984L573.6 1983.5L580.1 1987.2L575.1 1983.4L581.4 1986.7L574.8 1982.1L575.1 1981.7L581.3 1984.8L575.7 1981L580.5 1983.2L582.5 1983.8L578 1980.6L583.4 1983.1L583.5 1982.6L578.8 1979.3L583.5 1981.4L581.6 1979.8L582.5 1979.7L585.9 1981.2L577.6 1975.6L577.9 1975.1" fill="none" stroke="#000" stroke-width="1.6" stroke-linecap="round" stroke-linejoin="round"/>
<path d="M200 2411.6L201.5 2411.4L203 2411.4L204.5 2411.4L206 2411.5L207.5 2411.6L209 2411.1L210.5 2411.5L212 2411.3L213.5 2411L215 2411.1L216.5 2410.6L218 2410.3L219.5 2410L220.9 2409.5L222.3 2409.2L223.8 2408.8L225.2 2408.4L226.7 2408L228.1 2407.5L229.6 2407.1L231 2406.7L232.4 2406.1L233.8 2405.7L235.3 2405.2L236.6 2404.6L238.1 2404.3L239.5 2403.6L240.9 2403L242.2 2402.3L243.5 2401.6L245 2401.2L246.3 2400.3L247.7 2399.8L248.9 2399L250.4 2398.4L251.7 2397.7L253 2396.9L254.2 2396.1L255.5 2395.3L256.8 2394.6L258 2393.6L259.2 2392.8L260.6 2392.1L261.8 2391.2L263.1 2390.4L264.3 2389.5L265.6 2388.7L266.8 2387.8L267.9 2386.9L269.1 2385.9L270.2 2384.9L271.4 2384L272.5 2382.9L273.7 2382.1L274.7 2380.9L275.9 2379.9L277.1 2379.1L278.1 2377.9L279.2 2376.8L280.2 2375.8L281.4 2374.9L282.4 2373.7L283.3 2372.5L284.4 2371.5L285.6 2370.5L286.5 2369.3L287.6 2368.3L288.7 2367.2L289.5 2365.9L290.7 2365L291.8 2363.9L292.5 2362.6L293.7 2361.6L294.6 2360.4L295.6 2359.3L296.6 2358.1L297.8 2357.2L298.5 2355.9L299.6 2354.8L300.6 2353.6L301.5 2352.5L302.4 2351.3L303.3 2350L304.4 2349L305.3 2347.8L306.1 2346.5L307.2 2345.5L308 2344.2L309 2343.1L310 2342L311 2340.8L311.7 2339.5L312.6 2338.2L313.5 2337L314.6 2336L315.4 2334.7L316.1 2333.4L317.2 2332.3L318 2331L318.8 2329.7L319.6 2328.5L320.4 2327.2L321.3 2326L322.2 2324.8L323.2 2323.6L323.9 2322.3L324.8 2321.1L325.7 2319.9L326.5 2318.6L327.4 2317.4L328.2 2316.1L329.2 2315L330 2313.7L331 2312.6L332 2311.4L332.7 2310.1L333.9 2309.1L334.8 2307.9L335.7 2306.7L336.8 2305.7L337.7 2304.5L338.8 2303.5L339.7 2302.2L340.7 2301.1L341.7 2300L342.6 2298.8L343.6 2297.7L344.6 2296.5L345.7 2295.5L346.6 2294.3L347.4 2293L348.6 2292L349.4 2290.7L350.3 2289.5L351.1 2288.3L352.1 2287.1L352.9 2285.8L353.9 2284.7L354.8 2283.5L355.5 2282.1L356.2 2280.8L357.1 2279.6L358 2278.4L358.9 2277.2L359.7 2275.9L360.4 2274.6L361.2 2273.3L362 2272L362.9 2270.8L363.8 2269.6L364.5 2268.3L365.4 2267.1L366.3 2265.8L367.1 2264.6L367.8 2263.2L368.6 2262L369.6 2260.8L370.3 2259.4L371.2 2258.3L371.9 2256.9L372.7 2255.7L373.6 2254.4L374.3 2253.1L375.2 2251.9L375.9 2250.6L376.9 2249.4L377.9 2248.3L378.5 2246.9L379.3 2245.6L380.2 2244.4L380.9 2243.1L381.7 2241.8L382.6 2240.5L383.2 2239.2L384.1 2237.9L384.9 2236.7L385.9 2235.5L386.4 2234.1L387.3 2232.9L388 2231.5L388.8 2230.2L389.6 2229L390.3 2227.6L391.2 2226.5L391.8 2225.1L392.5 2223.7L393.3 2222.4L394 2221.1L394.8 2219.8L395.5 2218.5L396 2217.1L396.7 2215.7L397.4 2214.4L398 2213L398.6 2211.6L399.2 2210.3L400 2208.9L400.6 2207.6L401.2 2206.2L401.9 2204.9L402.6 2203.5L403.1 2202.1L403.8 2200.8L404.2 2199.3L405 2198L405.9 2196.8L406.4 2195.3L407.1 2194L407.7 2192.6L408.3 2191.3L409.3 2190.1L409.6 2188.5L410.6 2187.4L411.2 2186L411.9 2184.7L412.6 2183.3L413.3 2182L414.3 2180.8L414.9 2179.5L415.7 2178.2L416.6 2176.9L417.4 2175.7L417.8 2174.2L419 2173.1L419.6 2171.7L420.6 2170.6L421.3 2169.3L421.8 2167.8L422.9 2166.7L423.5 2165.3L424.5 2164.2L424.8 2162.6L426 2161.6L426.9 2160.4L427.6 2159L428.6 2157.9L429.1 2156.4L430 2155.2L431.1 2154.1L432.1 2153L432.4 2151.4L433.5 2150.3L434.4 2149.1L435.1 2147.8L435.9 2146.5L436.9 2145.3L438 2144.3L438.9 2143L439.7 2141.7L440.6 2140.5L440.9 2138.9L442 2137.9L443 2136.7L444.2 2135.8L444.8 2134.3L445.7 2133.1L446.6 2131.9L447.6 2130.8L448.6 2129.6L449.1 2128.1L450.5 2127.3L451.1 2125.9L451.7 2124.5L452.7 2123.4L453.5 2122.1L455 2121.3L455 2119.5L456.3 2118.5L457.2 2117.3L458.3 2116.3L458.6 2114.6L459.5 2113.4L460.4 2112.2L461.2 2111L462.4 2109.9L463.1 2108.6L464.2 2107.5L465 2106.3L465.9 2105L466.6 2103.7L467.6 2102.5L468.3 2101.2L469.6 2100.3L470.5 2099.1L471.3 2097.8L472 2096.5L473.6 2095.8L473.6 2093.9L475 2093.1L475.9 2091.9L476.5 2090.5L477.3 2089.1L479 2088.6L479.4 2087L480.2 2085.7L481.4 2084.8L482.1 2083.3L483 2082.1L484.4 2081.3L485.2 2080.1L486.2 2079L487.3 2077.9L488.5 2076.9L488.9 2075.3L490.2 2074.4L491.4 2073.5L491.9 2071.9L493.2 2071L494.3 2070L495.8 2069.4L496.3 2067.8L497.6 2066.9L498.3 2065.6L498.5 2063.7L500 2063L501.1 2062L501.8 2060.6L502.6 2059.3L504.6 2059.1L505.3 2057.7L505.9 2056.3L506.8 2055L507.8 2053.9L508.9 2052.9L510.5 2052.2L511.2 2050.9L512.7 2050.2L512.9 2048.3L514.1 2047.4L514.9 2046.1L516.8 2045.9L518.2 2045.2L518.7 2043.5L519.2 2041.8L520.5 2040.9L522.2 2040.6L523.5 2039.9L524.5 2038.7L526 2038.1L527.1 2037.1L527.7 2035.5L528.7 2034.4L530.1 2033.6L531.5 2033L532.1 2031.4L533.7 2030.9L535.2 2030.2L535.4 2028.3L537.4 2028.2L538 2026.7L538.8 2025.3L540.1 2024.6L541.1 2023.4L542.4 2022.5L543.9 2022L544.6 2020.5L545.6 2019.4L546.8 2018.5L546.4 2016L548.3 2015.7L549.8 2015.1L550.8 2014L551.2 2012.2L552.2 2011.1L553.9 2010.7L555 2009.7L556.4 2008.9L556.6 2007L558.1 2006.4L558.9 2005.1L559.8 2003.8L561.3 2003.2L561.9 2001.7L562.5 2000.1L564.2 1999.7L565 1998.3L566.7 1998L567.2 1996.3L568.7 1995.7L570.9 1995.8L571.4 1994.1L572.1 1992.7L572.7 1991.2L574.5 1990.8L574.3 1988.7L575.5 1987.8L575.9 1986.2L578.1 1985.9L578.4 1984.3L577.8 1982.2L580.8 1982.2L581 1980.6L581.1 1978.9L583 1978.3" fill="none" stroke="#000" stroke-width="2.9" stroke-linecap="round" stroke-linejoin="round"/>
<path d="M95.8 2420.9L96.4 2423.4L97 2423.7L97.6 2421.8L98.2 2421.9L98.8 2419.9L99.4 2419.9L100 2419.7L100.6 2422.7L101.2 2421L101.8 2425.1L102.4 2422.9L103 2423.3L103.6 2417.9L104.2 2416.1L104.8 2418.4L105.4 2415.9L106 2423.9L106.6 2418.5L107.2 2420.8L107.8 2423.6L108.4 2415.6L109 2416L109.6 2420.4L110.2 2418.3L110.8 2420.7L111.4 2426.7L112 2418.7L112.6 2423.2L113.2 2418.3L113.8 2418L114.4 2417.6L115 2426.9L115.6 2424L116.2 2420.2L116.8 2415.5L117.4 2419.8L118 2419.2L118.6 2420.7L119.2 2420.3L119.8 2422.5L120.4 2422.6L121 2423.2L121.6 2418.3L122.2 2416.8L122.8 2418.2L123.4 2427.9L124 2427.4L124.6 2424.2L125.2 2424.9L125.8 2416.1L126.4 2426.6L127 2421.9L127.6 2416.2L128.2 2425.4L128.8 2421.7L129.4 2423.8L130 2419.1L130.7 2427.3L131.3 2418L131.9 2417.9L132.5 2416L133.1 2422.6L133.7 2421.4L134.3 2420.7L134.9 2425.6L135.5 2420.3L136.1 2425.5L136.7 2415.4L137.3 2425.5L137.9 2418.8L138.5 2420.1L139.1 2417.9L139.7 2422.9L140.3 2415.4L140.9 2415.8L141.5 2418.1L142.1 2414.9L142.7 2426.8L143.3 2414.5L143.9 2422.1L144.5 2423L145.1 2426.4L145.7 2423.4L146.3 2418.4L146.9 2415.5L147.5 2420.2L148.1 2418.1L148.7 2421.3L149.3 2418.3L149.9 2418.2L150.5 2426.7L151.1 2424.3L151.7 2426.8L152.3 2414.9L152.9 2419.8L153.5 2425.1L154.1 2420.1L154.7 2424.3L155.3 2414.1L155.9 2421.6L156.5 2414.7L157.1 2420.8L157.7 2414.3L158.3 2423.3L158.9 2420.2L159.5 2414.2L160.1 2413.9L160.7 2424.3L161.3 2418.4L161.9 2413.6L162.5 2414.1L163.1 2424.1L163.7 2426L164.3 2420.2L164.9 2415.4L165.5 2419.5L166.1 2419.6L166.7 2415.2L167.3 2416.2L167.9 2417.1L168.5 2416.7L169.1 2418.3L169.7 2422.3L170.3 2423.9L170.9 2421.3L171.5 2421.5L172.1 2413.2L172.7 2417.4L173.3 2422.4L173.9 2421.1L174.5 2417.8L175.1 2413.7L175.7 2417.2L176.3 2414.9L176.9 2422.2L177.5 2415L178.1 2423.7L178.7 2422.3L179.3 2417L179.9 2414.3L180.5 2423.8L181.1 2423.6L181.7 2417.4L182.3 2419.4L182.9 2418.4L183.5 2413.8L184.1 2423.8L184.7 2420.3L185.3 2413.3L185.9 2420.7L186.5 2421.7L187.1 2417.1L187.7 2414.9L188.3 2412.3L188.9 2417.4L189.5 2413.8L190.1 2416.9L190.7 2421.5L191.3 2416.3L191.9 2418.7L192.5 2415.6L193.1 2415.2L193.7 2421.3L194.3 2415.2L194.9 2416.7L195.5 2423.7L196.1 2415L196.7 2418.5L197.3 2421.8L197.9 2413.3L198.5 2419.9L199.1 2414.7L199.7 2414.9L200.3 2423.7L200.9 2416.6L201.5 2412.7L202.1 2411.6L202.7 2416.7L203.3 2424.4L203.9 2419.2L204.5 2421.2L205.1 2418.8L205.7 2412.9L206.3 2417.2L206.9 2416.4L207.5 2414.1L208.1 2423L208.7 2414.9L209.3 2413L209.9 2417.6L210.5 2417L211.1 2420.5L211.7 2419.9L212.3 2416.8L212.9 2423.7L213.5 2411.6L214.1 2420.9L214.7 2423.7L215.3 2414.2L215.9 2420.1L216.5 2412.4L217.1 2416.8L217.7 2417.4L218.3 2418.8L218.9 2415.6L219.5 2415.3L220.1 2416.6L220.7 2418.7L221.3 2420.9L221.9 2410.7L222.5 2412.5L223.1 2410.9L223.7 2418.8L224.3 2423.4L224.9 2419.4L225.5 2416.2L226.1 2412.7L226.8 2416.1L227.4 2410.7L228 2415.9L228.6 2411.1L229.2 2421.5L229.8 2413.4L230.4 2420.2L231 2420.2L231.6 2421.2L232.2 2422.1L232.8 2420.9L233.4 2411.3L234 2415.7L234.6 2410.8L235.2 2411.9L235.8 2415.7L236.4 2411.9L237 2415.5L237.6 2420.2L238.2 2410.9L238.8 2416.3L239.4 2415.1L240 2416.5L240.6 2413.4L241.2 2415.5L241.8 2415.3L242.4 2422.3L243 2421.4L243.6 2419.2L244.2 2412.7L244.8 2421L245.4 2416.9L246 2418.7L246.6 2421L247.2 2412.6L247.8 2419.1L248.4 2416.3L249 2419.5L249.6 2418.8L250.2 2412.7L250.8 2418.4L251.4 2419.4L252 2412.9L252.6 2411.7L253.2 2415.4L253.8 2412.8L254.4 2417.2L255 2414.8L255.6 2409.2L256.2 2420.1L256.8 2418.6L257.4 2417.8L258 2410.5L258.6 2419.1L259.2 2411.3L259.8 2419.7L260.4 2420.5L261 2409.3L261.6 2413.9L262.2 2410L262.8 2419.1L263.4 2420.8L264 2413.7L264.6 2418.5L265.2 2409.2L265.8 2419.8L266.4 2412.8L267 2417.1L267.6 2417.9L268.2 2416L268.8 2414.6L269.4 2418L270 2415.5L270.6 2415.1L271.2 2410.1L271.8 2414.6L272.4 2413.8L273 2411.5L273.6 2417.4L274.2 2414.3L274.8 2410.2L275.4 2415.7L276 2412.2L276.6 2411.9L277.2 2408.8L277.8 2415.9L278.4 2418.4L279 2407.9L279.6 2415.1L280.2 2412.5L280.8 2412.7L281.4 2420.1L282 2416L282.6 2417.9L283.2 2407.7L283.8 2416.2L284.4 2414.7L285 2414.4L285.6 2414.7L286.2 2412L286.8 2418.1L287.4 2408.4L288 2416.3L288.6 2416L289.2 2408.6L289.8 2409.8L290.4 2419.2L291 2417.3L291.6 2412.6L292.1 2407.3L292.7 2413.4L293.3 2416.9L293.9 2407.6L294.5 2407L295.1 2416.1L295.7 2418.6L296.3 2406.9L296.9 2415.1L297.5 2416L298.1 2416.6L298.7 2407.5L299.3 2415.1L299.9 2408L300.5 2405.8L301.1 2417L301.7 2405.7L302.3 2408.7L302.9 2408.3L303.5 2413.2L304.1 2407.8L304.7 2408.3L305.3 2413.2L305.9 2409.2L306.5 2407.6L307.1 2411.3L307.6 2413.2L308.2 2409.2L308.8 2412.4L309.4 2404.7L310 2407.2L310.6 2411.3L311.2 2410.6L311.8 2407.1L312.4 2412.3L313 2407.2L313.6 2415.5L314.2 2412.6L314.8 2405.7L315.4 2411.9L316 2415.2L316.6 2413.2L317.2 2403.1L317.8 2408.6L318.4 2405.3L319 2414.4L319.5 2407.4L320.1 2408.3L320.7 2408.8L321.3 2410.2L321.9 2408.7L322.5 2410.6L323.1 2405.7L323.7 2409.7L324.3 2410.7L324.9 2408.9L325.5 2407.1L326.1 2403L326.7 2403.4L327.3 2407L327.9 2409L328.5 2412.6L329.1 2404.5L329.7 2407.2L330.3 2412.5L330.9 2408.4L331.5 2410.1L332.1 2406.6L332.7 2402.6L333.3 2407.6L333.8 2404.8L334.4 2404.7L335 2413.2L335.6 2412.5L336.2 2404.2L336.8 2412L337.4 2406.4L338 2402.2L338.6 2411.8L339.2 2401.8L339.8 2411.3L340.4 2404.6L341 2402.2L341.6 2404.2L342.2 2402.5L342.8 2405.8L343.4 2402.4L344 2401.8L344.6 2402.8L345.2 2407.5L345.8 2400.8L346.4 2404.7L347 2405L347.6 2403.5L348.2 2406.1L348.8 2406.2L349.4 2410.5L350 2401L350.6 2408.4L351.2 2405.7L351.8 2407.2L352.4 2401.9L353 2408.6L353.5 2407.8L354.1 2408.8L354.7 2401.1L355.3 2406.6L355.9 2406.7L356.5 2405.6L357.1 2405.1L357.7 2399.2L358.3 2406.6L358.9 2405.6L359.5 2407L360.1 2399.9L360.6 2404.8L361.2 2406.1L361.8 2406.7L362.4 2405.3L363 2405.7L363.6 2403.5L364.2 2399.5L364.8 2398.4L365.3 2401.9L365.9 2400.4L366.5 2400L367.1 2403.1L367.7 2399.9L368.3 2404.1L368.8 2397.2L369.4 2405.9L370 2404.3L370.6 2400.9L371.2 2401.8L371.7 2396.8L372.3 2400.7L372.9 2404.5L373.5 2397.7L374.1 2403.9L374.6 2403.3L375.2 2402.8L375.8 2395.4L376.4 2400.5L377 2399.5L377.5 2398L378.1 2398.4L378.7 2401.3L379.3 2396.5L379.8 2398.1L380.4 2400L381 2398L381.5 2400L382.1 2395.1L382.7 2394L383.3 2398L383.8 2399.4L384.4 2395.6L385 2396.9L385.5 2394L386.1 2399.1L386.7 2397.2L387.2 2399.3L387.8 2397.3L388.3 2392.3L388.9 2396.5L389.5 2391.9L390 2391.4L390.6 2396.6L391.1 2393L391.7 2394.7L392.2 2393.2L392.8 2397.5L393.3 2393.3L393.9 2396.7L394.4 2389.5L395 2389.4L395.5 2393.3L396.1 2391.2L396.6 2394.4L397.2 2389.8L397.7 2389.5L398.2 2388.4L398.8 2390.9L399.3 2392.3L399.9 2390.3L400.4 2387L400.9 2386.8L401.4 2390.8L402 2390.3L402.5 2387.2L403 2387.4L403.5 2389.6L404.1 2387.4L404.6 2388.1L405.1 2390.6L405.6 2386.8L406.1 2387.8L406.6 2385.7L407.2 2385L407.7 2386.5L408.2 2385L408.7 2385L409.2 2387.1L409.7 2383.9L410.2 2386.8L410.7 2386.2L411.2 2386L411.7 2386.1L412.2 2383.1L412.6 2381.1L413.1 2381.9L413.6 2379.3L414.1 2378.8L414.6 2379.2L415 2380.7L415.5 2379L416 2377.6L416.4 2378.8L416.9 2377.7L417.4 2380.8L417.8 2376.3L418.3 2379.4L418.7 2378.4L419.2 2375.1L419.7 2376.8L420.1 2377.6L420.5 2377.5L421 2377.5L421.4 2373.4L421.9 2374.4L422.3 2375.5L422.8 2373.3L423.2 2373.6L423.6 2374.4L424.1 2372.7L424.5 2374.1L424.9 2374.1L425.4 2370.6L425.8 2370L426.2 2370.1L426.6 2371.3L427.1 2369.4L427.5 2367.9L427.9 2370L428.3 2367.5L428.8 2369.6L429.2 2369.6L429.6 2369.2L430 2367.9L430.4 2367.5L430.8 2367.2L431.2 2366.6L431.6 2366L432 2363.2L432.4 2363.6L432.8 2363.1L433.2 2362.1L433.6 2362.4L434 2361.4L434.4 2361.4L434.7 2359.9L435.1 2360.2L435.5 2360.4L435.9 2361.3L436.3 2359.2L436.7 2360.5L437.1 2359.9L437.4 2356.9L437.8 2357.4L438.2 2357.9L438.6 2355.2L439 2355L439.4 2356L439.8 2354.5L440.2 2353.5L440.6 2352.9L441 2354.3L441.4 2352.9L441.8 2353.3L442.2 2351.4L442.6 2353.3L443 2350.9L443.4 2352.5L443.8 2350.4L444.2 2349.9L444.7 2349.5L445.1 2349.7L445.5 2350.4L445.9 2348L446.3 2349L446.7 2348.9L447.1 2346.2L447.5 2346.3L447.9 2347L448.4 2346.7L448.8 2345.8L449.2 2345.7L449.6 2345.8L450 2344.3L450.5 2344.9L450.9 2342.7L451.3 2343.5L451.7 2343.3L452.2 2341.5L452.6 2342L453 2342L453.5 2341L453.9 2340.2L454.4 2339.8L454.8 2340.3L455.3 2338.6L455.7 2339.7L456.2 2338.9L456.6 2338.5L457.1 2338.5L457.6 2336.7L458 2337.3L458.5 2337L459 2336.8L459.4 2335.4L459.9 2335.7L460.4 2335.5L460.9 2334.7L461.4 2333.9L461.9 2334L462.3 2334.1L462.8 2333.1L463.3 2333.6L463.8 2333.3L464.3 2332.3L464.9 2332.5L465.4 2331.6L465.9 2331.8L466.4 2331L467 2331L467.5 2330.6L468 2330.2L468.6 2330.1L469.1 2330.1L469.7 2329.7L470.2 2329.6L470.8 2329.3L471.4 2329.1L471.9 2328.6L472.5 2328.4L473.1 2328.3L473.6 2328.3L474.2 2328.1L474.8 2328.1L475.4 2327.6L476 2327.5L476.5 2327.7L477.1 2327.4L477.7 2327.4L478.3 2327L478.9 2326.9L479.5 2327.2L480.1 2326.9L480.7 2326.9L481.3 2326.9L481.8 2326.5L482.4 2326.2L483 2326.4L483.6 2326.1L484.2 2326.3L484.8 2326.3L485.4 2326.1L486 2326L486.6 2325.8L487.2 2325.5L487.8 2325.9L488.4 2325.8L489 2325.8L489.6 2325.7L490.2 2325.6L490.8 2325.5L491.4 2325.2L492 2325.6L492.6 2325.3L493.2 2325.6L493.8 2325.4L494.4 2325L495 2325.2L495.6 2325.5L496.2 2325L496.8 2325.2L497.4 2325.1L498 2325.4L498.6 2324.9L499.2 2325.4L499.8 2325.1L500.4 2325.1L501 2325L501.6 2325.1L502.2 2325.3L502.8 2325.3L503.4 2325.1L504 2325.1L504.6 2325.1L505.2 2324.8L505.8 2325.2L506.4 2325.3L507 2325L507.6 2324.9L508.2 2325.2L508.8 2325.3L509.4 2324.9L510 2325.1L510.6 2325L511.2 2325.3L511.8 2324.8L512.4 2325.1L513 2325.3L513.6 2324.9L514.2 2324.8L514.8 2324.9L515.4 2325.1L516 2324.9L516.6 2324.9L517.2 2324.9L517.8 2325L518.4 2325L519 2324.7L519.7 2325L520.3 2324.9L520.9 2325L521.5 2324.8L522.1 2324.7L522.7 2324.9L523.3 2325L523.9 2324.8L524.5 2324.8L525.1 2325.1L525.7 2324.9L526.3 2324.7L526.9 2325.1L527.5 2324.9L528.1 2324.5L528.7 2324.5L529.3 2324.8L529.9 2324.5L530.5 2324.5L531.1 2324.4L531.7 2324.5L532.3 2324.5L532.9 2324.6L533.5 2324.4L534.1 2324.6L534.7 2324.6L535.3 2324.6L535.9 2324.4L536.5 2324.6L537.1 2324.8L537.7 2324.7L538.3 2324.4L538.9 2324.8L539.5 2324.5L540.1 2324.9L540.7 2324.7L541.3 2324.3L541.9 2324.3L542.5 2324.5L543.1 2324.3L543.7 2324.4L544.3 2324.3L544.9 2324.4L545.5 2324.4L546.1 2324.4L546.7 2324.8L547.3 2324.7L547.9 2324.4L548.5 2324.3L549.1 2324.7L549.7 2324.4L550.3 2324.6L550.9 2324.5L551.5 2324.5L552.1 2324.2L552.7 2324.5L553.3 2324.7L553.9 2324.5L554.5 2324.6L555.1 2324.3L555.7 2324.2L556.3 2324.2L556.9 2324.4L557.5 2324.4L558.1 2324.4L558.7 2324.6L559.3 2324.2L559.9 2324.5L560.5 2324.6L561.1 2324.5L561.7 2324.3L562.3 2324.8L562.9 2324.5L563.5 2324.8L564.1 2324.8L564.7 2324.5L565.3 2324.9L565.9 2324.8L566.5 2325L567.1 2324.6L567.7 2324.7L568.3 2325.1L568.9 2324.9L569.5 2325.1L570.1 2324.8L570.7 2325.2L571.3 2325.1L571.9 2325.2L572.5 2324.6L573.1 2325L573.7 2324.8L574.3 2325L574.9 2324.6L575.5 2324.6L576.1 2324.7L576.7 2324.4L577.3 2324.3L577.9 2324.1L578.5 2324.4L579.1 2324L579.6 2324L580.1 2323.7L580.6 2323.3L581 2322.9L581.4 2322.4L581.8 2321.5L582.2 2321.2L582.5 2320.5L582.9 2320.1L583.3 2319.9" fill="none" stroke="#ff0000" stroke-width="2.0" stroke-linecap="round" stroke-linejoin="round"/>
<path d="M95.8 2422.4L97.3 2422.4L98.8 2422.3L100.3 2422.3L101.8 2422.4L103.3 2422.3L104.8 2421.9L106.3 2422.1L107.8 2422.1L109.3 2421.8L110.8 2422L112.4 2421.7L113.9 2422.2L115.4 2421.8L116.9 2421.6L118.4 2421.8L119.9 2421.6L121.4 2421.6L122.9 2421.5L124.4 2421.5L125.9 2421.3L127.4 2421.4L128.9 2421L130.4 2421.5L131.9 2421.4L133.4 2421.4L134.9 2421L136.4 2421.1L137.9 2420.9L139.4 2420.8L140.9 2420.9L142.4 2420.7L144 2420.7L145.5 2420.9L147 2420.6L148.5 2420.6L150 2420.3L151.5 2420.4L153 2420.2L154.5 2420.3L156 2420.2L157.5 2420.3L159 2420.1L160.5 2420.1L162 2420L163.5 2419.8L165 2420L166.5 2419.9L168 2419.7L169.5 2419.7L171 2419.2L172.5 2419.5L174 2419.3L175.5 2419.2L177 2419.3L178.5 2419.3L180.1 2419L181.6 2419L183.1 2419L184.6 2418.9L186.1 2418.7L187.6 2418.8L189.1 2418.7L190.6 2418.7L192.1 2418.5L193.6 2418.6L195.1 2418.3L196.6 2418.3L198.1 2418.5L199.6 2418.2L201.1 2418.3L202.6 2417.8L204.1 2417.7L205.6 2417.7L207.1 2417.8L208.6 2417.5L210.1 2417.5L211.6 2417.4L213.1 2417.5L214.6 2417.2L216.1 2417.3L217.7 2417.3L219.2 2417.1L220.7 2417.3L222.2 2417.1L223.7 2416.9L225.2 2416.8L226.7 2416.7L228.2 2417L229.7 2416.8L231.2 2416.7L232.7 2416.4L234.2 2416.8L235.7 2416.5L237.2 2416.6L238.7 2416.3L240.2 2416.4L241.7 2416.2L243.2 2416.2L244.7 2416.3L246.2 2416.3L247.7 2415.8L249.2 2416L250.8 2416L252.3 2415.9L253.8 2415.5L255.3 2415.6L256.8 2415.5L258.3 2415.6L259.8 2415.6L261.3 2415.2L262.8 2415.5L264.3 2415.2L265.8 2415.4L267.3 2414.9L268.8 2415.1L270.3 2414.9L271.8 2414.6L273.3 2414.6L274.8 2414.6L276.3 2414.4L277.8 2414.3L279.3 2414.2L280.8 2414.1L282.3 2414L283.8 2413.6L285.3 2413.7L286.8 2413.6L288.3 2413.5L289.8 2413.1L291.3 2412.9L292.8 2412.8L294.3 2412.7L295.8 2412.5L297.3 2412.4L298.8 2412.3L300.3 2411.7L301.8 2411.8L303.2 2411.5L304.7 2411.3L306.2 2411.2L307.7 2410.8L309.2 2410.8L310.7 2410.3L312.2 2410.4L313.7 2409.6L315.2 2410L316.7 2409.6L318.1 2409.6L319.6 2409.4L321.1 2408.6L322.6 2408.8L324.1 2408.5L325.6 2408L327.1 2408L328.6 2407.6L330.1 2407.6L331.6 2407.4L333.1 2407.3L334.6 2407.1L336.1 2406.9L337.6 2406.9L339.1 2406.5L340.5 2406.5L342 2406.5L343.5 2406.1L345 2406L346.5 2405.6L348 2405.7L349.5 2405.4L351 2405.3L352.5 2405L354 2405L355.5 2404.6L357 2404.3L358.4 2403.8L359.9 2403.6L361.4 2403.5L362.9 2403.1L364.3 2402.8L365.8 2402.1L367.3 2401.8L368.7 2401.6L370.2 2401.3L371.6 2400.8L373.1 2400.5L374.5 2400.3L376 2399.7L377.4 2399.1L378.9 2399L380.3 2398.5L381.7 2398.2L383.2 2397.4L384.6 2396.9L386 2396.4L387.4 2395.9L388.8 2395.5L390.2 2394.7L391.6 2394.2L393 2393.6L394.4 2393.2L395.7 2392.4L397.1 2391.8L398.5 2391.3L399.8 2390.6L401.1 2389.9L402.4 2389.1L403.8 2387.9L405.1 2387.3L406.3 2386.9L407.6 2386L408.9 2385.5L410.1 2384.2L411.4 2383.4L412.6 2382.5L413.8 2381.8L415 2380.8L416.2 2379.7L417.4 2378.7L418.5 2377.8L419.6 2376.7L420.8 2375.9L421.9 2374.8L423 2374L424.1 2373L425.1 2371.6L426.2 2370.5L427.3 2369.6L428.3 2368.4L429.4 2367.4L430.4 2366.2L431.4 2365.4L432.4 2364.1L433.4 2362.9L434.4 2361.6L435.3 2360.6L436.3 2359.6L437.3 2358.4L438.2 2357.3L439.2 2356L440.2 2354.9L441.2 2353.8L442.2 2352.9L443.2 2351.4L444.3 2350.3L445.3 2349.2L446.3 2348.2L447.4 2347L448.4 2346.3L449.4 2344.7L450.5 2343.9L451.6 2342.9L452.6 2342.2L453.7 2340.9L454.9 2339.7L456 2338.9L457.2 2337.8L458.3 2336.8L459.5 2335.9L460.7 2335.2L461.9 2334L463.2 2333.5L464.4 2332.5L465.7 2331.5L467 2331L468.4 2330.3L469.8 2329.9L471.2 2329.3L472.6 2328.8L474 2328.2L475.5 2327.8L476.9 2327.9L478.4 2327.2L479.9 2326.8L481.4 2326.5L482.9 2326.2L484.3 2326.3L485.8 2325.8L487.3 2325.6L488.8 2325.5L490.3 2325.7L491.8 2325.2L493.3 2325.4L494.8 2325.1L496.4 2325.1L497.9 2325.1L499.4 2325.4L500.9 2325.2L502.4 2324.9L503.9 2325.3L505.4 2325.2L506.9 2325.2L508.4 2324.9L509.9 2325.3L511.4 2324.9L512.9 2325L514.4 2325.2L515.9 2325.1L517.4 2325L518.9 2324.7L520.4 2325.2L521.9 2324.8L523.5 2324.7L525 2325.2L526.5 2324.6L528 2324.7L529.5 2324.9L531 2324.8L532.5 2324.7L534 2324.8L535.5 2324.7L537 2324.8L538.5 2324.7L540 2324.4L541.5 2324.9L543 2324.2L544.5 2324.6L546 2324.6L547.5 2324.4L549 2324.2L550.6 2324.6L552.1 2324.6L553.6 2324.3L555.1 2324.2L556.6 2324.2L558.1 2324.4L559.6 2324.2L561.1 2324.5L562.6 2324.5L564.1 2324.6L565.6 2324.9L567.1 2324.8L568.6 2324.8L570.1 2324.6L571.6 2324.7L573.1 2324.8L574.6 2324.7L576.1 2325.1L577.6 2324.7L579.1 2324L580.4 2323.4L581.4 2322.2L582.3 2321L583.3 2319.9" fill="none" stroke="#ff0000" stroke-width="3.0" stroke-linecap="round" stroke-linejoin="round"/>
<rect x="91.8" y="1937" width="495.2" height="495" fill="none" stroke="#4a4a4a" stroke-width="2.4"/>
<line x1="113.5" y1="2432" x2="113.5" y2="2417.5" stroke="#4a4a4a" stroke-width="2.2" />
<line x1="113.5" y1="1937" x2="113.5" y2="1951.5" stroke="#4a4a4a" stroke-width="2.2" />
<line x1="210.9" y1="2432" x2="210.9" y2="2417.5" stroke="#4a4a4a" stroke-width="2.2" />
<line x1="210.9" y1="1937" x2="210.9" y2="1951.5" stroke="#4a4a4a" stroke-width="2.2" />
<line x1="308.3" y1="2432" x2="308.3" y2="2417.5" stroke="#4a4a4a" stroke-width="2.2" />
<line x1="308.3" y1="1937" x2="308.3" y2="1951.5" stroke="#4a4a4a" stroke-width="2.2" />
<line x1="405.8" y1="2432" x2="405.8" y2="2417.5" stroke="#4a4a4a" stroke-width="2.2" />
<line x1="405.8" y1="1937" x2="405.8" y2="1951.5" stroke="#4a4a4a" stroke-width="2.2" />
<line x1="503.2" y1="2432" x2="503.2" y2="2417.5" stroke="#4a4a4a" stroke-width="2.2" />
<line x1="503.2" y1="1937" x2="503.2" y2="1951.5" stroke="#4a4a4a" stroke-width="2.2" />
<line x1="91.8" y1="1982.2" x2="106.3" y2="1982.2" stroke="#4a4a4a" stroke-width="2.2" />
<line x1="587" y1="1982.2" x2="572.5" y2="1982.2" stroke="#4a4a4a" stroke-width="2.2" />
<line x1="91.8" y1="2049.9" x2="106.3" y2="2049.9" stroke="#4a4a4a" stroke-width="2.2" />
<line x1="587" y1="2049.9" x2="572.5" y2="2049.9" stroke="#4a4a4a" stroke-width="2.2" />
<line x1="91.8" y1="2117.3" x2="106.3" y2="2117.3" stroke="#4a4a4a" stroke-width="2.2" />
<line x1="587" y1="2117.3" x2="572.5" y2="2117.3" stroke="#4a4a4a" stroke-width="2.2" />
<line x1="91.8" y1="2184.8" x2="106.3" y2="2184.8" stroke="#4a4a4a" stroke-width="2.2" />
<line x1="587" y1="2184.8" x2="572.5" y2="2184.8" stroke="#4a4a4a" stroke-width="2.2" />
<line x1="91.8" y1="2252.8" x2="106.3" y2="2252.8" stroke="#4a4a4a" stroke-width="2.2" />
<line x1="587" y1="2252.8" x2="572.5" y2="2252.8" stroke="#4a4a4a" stroke-width="2.2" />
<line x1="91.8" y1="2320.4" x2="106.3" y2="2320.4" stroke="#4a4a4a" stroke-width="2.2" />
<line x1="587" y1="2320.4" x2="572.5" y2="2320.4" stroke="#4a4a4a" stroke-width="2.2" />
<line x1="91.8" y1="2388.6" x2="106.3" y2="2388.6" stroke="#4a4a4a" stroke-width="2.2" />
<line x1="587" y1="2388.6" x2="572.5" y2="2388.6" stroke="#4a4a4a" stroke-width="2.2" />
<text x="113.5" y="2462.5" font-size="23" fill="#1a1a1a" text-anchor="middle" textLength="34" lengthAdjust="spacingAndGlyphs" style="stroke:#1a1a1a;stroke-width:0.4">0.2</text>
<text x="210.9" y="2462.5" font-size="23" fill="#1a1a1a" text-anchor="middle" textLength="34" lengthAdjust="spacingAndGlyphs" style="stroke:#1a1a1a;stroke-width:0.4">0.4</text>
<text x="308.3" y="2462.5" font-size="23" fill="#1a1a1a" text-anchor="middle" textLength="34" lengthAdjust="spacingAndGlyphs" style="stroke:#1a1a1a;stroke-width:0.4">0.6</text>
<text x="405.8" y="2462.5" font-size="23" fill="#1a1a1a" text-anchor="middle" textLength="34" lengthAdjust="spacingAndGlyphs" style="stroke:#1a1a1a;stroke-width:0.4">0.8</text>
<text x="503.2" y="2462.5" font-size="23" fill="#1a1a1a" text-anchor="middle" textLength="34" lengthAdjust="spacingAndGlyphs" style="stroke:#1a1a1a;stroke-width:0.4">1.0</text>
<text x="83" y="1990.9" font-size="23" fill="#1a1a1a" text-anchor="end" textLength="25" lengthAdjust="spacingAndGlyphs" style="stroke:#1a1a1a;stroke-width:0.4">25</text>
<text x="83" y="2058.6" font-size="23" fill="#1a1a1a" text-anchor="end" textLength="25" lengthAdjust="spacingAndGlyphs" style="stroke:#1a1a1a;stroke-width:0.4">20</text>
<text x="83" y="2126" font-size="23" fill="#1a1a1a" text-anchor="end" textLength="25" lengthAdjust="spacingAndGlyphs" style="stroke:#1a1a1a;stroke-width:0.4">15</text>
<text x="83" y="2193.5" font-size="23" fill="#1a1a1a" text-anchor="end" textLength="25" lengthAdjust="spacingAndGlyphs" style="stroke:#1a1a1a;stroke-width:0.4">10</text>
<text x="83" y="2261.5" font-size="23" fill="#1a1a1a" text-anchor="end" textLength="12.5" lengthAdjust="spacingAndGlyphs" style="stroke:#1a1a1a;stroke-width:0.4">5</text>
<text x="83" y="2329.1" font-size="23" fill="#1a1a1a" text-anchor="end" textLength="12.5" lengthAdjust="spacingAndGlyphs" style="stroke:#1a1a1a;stroke-width:0.4">0</text>
<text x="83" y="2397.3" font-size="23" fill="#1a1a1a" text-anchor="end" textLength="19.7" lengthAdjust="spacingAndGlyphs" style="stroke:#1a1a1a;stroke-width:0.4">-5</text>
<line x1="109" y1="1962.5" x2="156.7" y2="1962.5" stroke="#000" stroke-width="2.6" />
<circle cx="110.3" cy="2013.8" r="1.65" fill="#000"/>
<circle cx="117.8" cy="2013.8" r="1.65" fill="#000"/>
<circle cx="125.3" cy="2013.8" r="1.65" fill="#000"/>
<circle cx="132.8" cy="2013.8" r="1.65" fill="#000"/>
<circle cx="140.3" cy="2013.8" r="1.65" fill="#000"/>
<circle cx="147.8" cy="2013.8" r="1.65" fill="#000"/>
<circle cx="155.3" cy="2013.8" r="1.65" fill="#000"/>
<line x1="109" y1="2039.7" x2="156.7" y2="2039.7" stroke="#ff0000" stroke-width="2.6" />
<circle cx="110.3" cy="2091.2" r="1.65" fill="#ff0000"/>
<circle cx="117.8" cy="2091.2" r="1.65" fill="#ff0000"/>
<circle cx="125.3" cy="2091.2" r="1.65" fill="#ff0000"/>
<circle cx="132.8" cy="2091.2" r="1.65" fill="#ff0000"/>
<circle cx="140.3" cy="2091.2" r="1.65" fill="#ff0000"/>
<circle cx="147.8" cy="2091.2" r="1.65" fill="#ff0000"/>
<circle cx="155.3" cy="2091.2" r="1.65" fill="#ff0000"/>
<text x="184.5" y="1969.2" font-size="21.5" fill="#1a1a1a" textLength="196.5" lengthAdjust="spacingAndGlyphs" style="stroke:#1a1a1a;stroke-width:0.4">Pt/C after methanol</text>
<text x="180.6" y="1994.7" font-size="21.5" fill="#1a1a1a" textLength="139.5" lengthAdjust="spacingAndGlyphs" style="stroke:#1a1a1a;stroke-width:0.4">with 3M MeOH</text>
<text x="184.5" y="2020.5" font-size="21.5" fill="#1a1a1a" textLength="212.9" lengthAdjust="spacingAndGlyphs" style="stroke:#1a1a1a;stroke-width:0.4">Pt/C before methanol</text>
<text x="184.5" y="2045.8" font-size="21.5" fill="#1a1a1a" textLength="285.1" lengthAdjust="spacingAndGlyphs" style="stroke:#1a1a1a;stroke-width:0.4">FeAzPc-4N-DMSO/oxMWCNT</text>
<text x="180.6" y="2071.6" font-size="21.5" fill="#1a1a1a" textLength="139.5" lengthAdjust="spacingAndGlyphs" style="stroke:#1a1a1a;stroke-width:0.4">with 3M MeOH</text>
<text x="184.5" y="2096.6" font-size="21.5" fill="#1a1a1a" textLength="285.1" lengthAdjust="spacingAndGlyphs" style="stroke:#1a1a1a;stroke-width:0.4">FeAzPc-4N-DMSO/oxMWCNT</text>
<text x="244" y="2489" font-size="21.5" fill="#1a1a1a" textLength="203.5" lengthAdjust="spacingAndGlyphs" style="stroke:#1a1a1a;stroke-width:0.4">Potential (V vs. RHE)</text>
<text x="43" y="2331" font-size="23.5" fill="#1a1a1a" textLength="252" lengthAdjust="spacingAndGlyphs" transform="rotate(-90 43 2331)" style="stroke:#1a1a1a;stroke-width:0.4">Current density (mA cm<tspan dy="-12" dx="1" font-size="14">-2</tspan><tspan dy="12" dx="2">)</tspan></text>
</g></svg></body></html>
